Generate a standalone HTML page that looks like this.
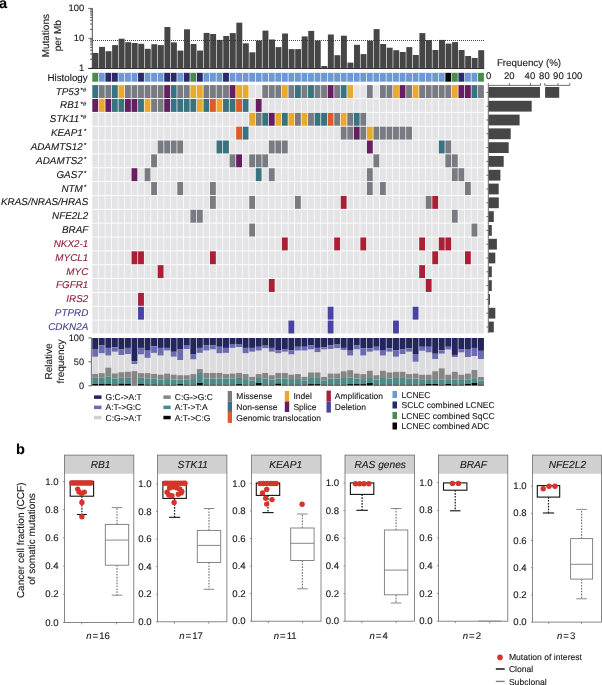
<!DOCTYPE html>
<html><head><meta charset="utf-8"><title>figure</title>
<style>html,body{margin:0;padding:0;background:#fff;}svg{display:block;will-change:transform;}body{width:602px;height:685px;overflow:hidden;font-family:"Liberation Sans",sans-serif;}</style>
</head><body>
<svg width="602" height="685" viewBox="0 0 602 685" font-family='"Liberation Sans", sans-serif' text-rendering="geometricPrecision">
<rect x="0" y="0" width="602" height="685" fill="#ffffff"/>
<text x="-1.00" y="7.70" font-size="14.5" text-anchor="start" font-weight="bold" font-style="normal" fill="#000"  stroke="#000" stroke-width="0.12">a</text>
<text x="16.00" y="453.90" font-size="14.5" text-anchor="start" font-weight="bold" font-style="normal" fill="#000"  stroke="#000" stroke-width="0.12">b</text>
<rect x="92.50" y="52.90" width="5.94" height="15.50" fill="#464646"/>
<rect x="99.04" y="46.90" width="5.94" height="21.50" fill="#464646"/>
<rect x="105.58" y="51.20" width="5.94" height="17.20" fill="#464646"/>
<rect x="112.11" y="45.10" width="5.94" height="23.30" fill="#464646"/>
<rect x="118.65" y="38.70" width="5.94" height="29.70" fill="#464646"/>
<rect x="125.19" y="42.20" width="5.94" height="26.20" fill="#464646"/>
<rect x="131.73" y="43.00" width="5.94" height="25.40" fill="#464646"/>
<rect x="138.27" y="43.80" width="5.94" height="24.60" fill="#464646"/>
<rect x="144.80" y="48.80" width="5.94" height="19.60" fill="#464646"/>
<rect x="151.34" y="44.20" width="5.94" height="24.20" fill="#464646"/>
<rect x="157.88" y="45.10" width="5.94" height="23.30" fill="#464646"/>
<rect x="164.42" y="27.00" width="5.94" height="41.40" fill="#464646"/>
<rect x="170.96" y="42.40" width="5.94" height="26.00" fill="#464646"/>
<rect x="177.49" y="50.60" width="5.94" height="17.80" fill="#464646"/>
<rect x="184.03" y="29.30" width="5.94" height="39.10" fill="#464646"/>
<rect x="190.57" y="44.00" width="5.94" height="24.40" fill="#464646"/>
<rect x="197.11" y="50.60" width="5.94" height="17.80" fill="#464646"/>
<rect x="203.65" y="32.90" width="5.94" height="35.50" fill="#464646"/>
<rect x="210.18" y="34.00" width="5.94" height="34.40" fill="#464646"/>
<rect x="216.72" y="39.90" width="5.94" height="28.50" fill="#464646"/>
<rect x="223.26" y="36.00" width="5.94" height="32.40" fill="#464646"/>
<rect x="229.80" y="33.10" width="5.94" height="35.30" fill="#464646"/>
<rect x="236.34" y="22.70" width="5.94" height="45.70" fill="#464646"/>
<rect x="242.87" y="43.30" width="5.94" height="25.10" fill="#464646"/>
<rect x="249.41" y="52.30" width="5.94" height="16.10" fill="#464646"/>
<rect x="255.95" y="40.50" width="5.94" height="27.90" fill="#464646"/>
<rect x="262.49" y="30.60" width="5.94" height="37.80" fill="#464646"/>
<rect x="269.03" y="39.50" width="5.94" height="28.90" fill="#464646"/>
<rect x="275.56" y="47.10" width="5.94" height="21.30" fill="#464646"/>
<rect x="282.10" y="33.50" width="5.94" height="34.90" fill="#464646"/>
<rect x="288.64" y="49.10" width="5.94" height="19.30" fill="#464646"/>
<rect x="295.18" y="49.10" width="5.94" height="19.30" fill="#464646"/>
<rect x="301.72" y="36.40" width="5.94" height="32.00" fill="#464646"/>
<rect x="308.25" y="30.90" width="5.94" height="37.50" fill="#464646"/>
<rect x="314.79" y="40.50" width="5.94" height="27.90" fill="#464646"/>
<rect x="321.33" y="66.00" width="5.94" height="2.40" fill="#464646"/>
<rect x="327.87" y="34.50" width="5.94" height="33.90" fill="#464646"/>
<rect x="334.41" y="55.20" width="5.94" height="13.20" fill="#464646"/>
<rect x="340.94" y="35.70" width="5.94" height="32.70" fill="#464646"/>
<rect x="347.48" y="62.60" width="5.94" height="5.80" fill="#464646"/>
<rect x="354.02" y="44.80" width="5.94" height="23.60" fill="#464646"/>
<rect x="360.56" y="54.10" width="5.94" height="14.30" fill="#464646"/>
<rect x="367.10" y="40.70" width="5.94" height="27.70" fill="#464646"/>
<rect x="373.63" y="29.10" width="5.94" height="39.30" fill="#464646"/>
<rect x="380.17" y="44.00" width="5.94" height="24.40" fill="#464646"/>
<rect x="386.71" y="47.70" width="5.94" height="20.70" fill="#464646"/>
<rect x="393.25" y="50.20" width="5.94" height="18.20" fill="#464646"/>
<rect x="399.79" y="52.00" width="5.94" height="16.40" fill="#464646"/>
<rect x="406.32" y="47.10" width="5.94" height="21.30" fill="#464646"/>
<rect x="412.86" y="55.00" width="5.94" height="13.40" fill="#464646"/>
<rect x="419.40" y="33.10" width="5.94" height="35.30" fill="#464646"/>
<rect x="425.94" y="40.10" width="5.94" height="28.30" fill="#464646"/>
<rect x="432.48" y="50.00" width="5.94" height="18.40" fill="#464646"/>
<rect x="439.01" y="39.90" width="5.94" height="28.50" fill="#464646"/>
<rect x="445.55" y="43.60" width="5.94" height="24.80" fill="#464646"/>
<rect x="452.09" y="42.10" width="5.94" height="26.30" fill="#464646"/>
<rect x="458.63" y="50.00" width="5.94" height="18.40" fill="#464646"/>
<rect x="465.17" y="56.00" width="5.94" height="12.40" fill="#464646"/>
<rect x="471.70" y="57.90" width="5.94" height="10.50" fill="#464646"/>
<rect x="478.24" y="50.20" width="5.94" height="18.20" fill="#464646"/>
<line x1="93" y1="40.5" x2="484" y2="40.5" stroke="#333" stroke-width="0.9" stroke-dasharray="1,1"/>
<line x1="88.3" y1="68.5" x2="484.2" y2="68.5" stroke="#222" stroke-width="0.9"/>
<line x1="92.3" y1="8.2" x2="92.3" y2="68.9" stroke="#222" stroke-width="0.8"/>
<line x1="88.50" y1="68.30" x2="92.3" y2="68.30" stroke="#222" stroke-width="0.7"/>
<line x1="90.00" y1="59.28" x2="92.3" y2="59.28" stroke="#222" stroke-width="0.7"/>
<line x1="90.00" y1="54.01" x2="92.3" y2="54.01" stroke="#222" stroke-width="0.7"/>
<line x1="90.00" y1="50.27" x2="92.3" y2="50.27" stroke="#222" stroke-width="0.7"/>
<line x1="90.00" y1="47.37" x2="92.3" y2="47.37" stroke="#222" stroke-width="0.7"/>
<line x1="90.00" y1="44.99" x2="92.3" y2="44.99" stroke="#222" stroke-width="0.7"/>
<line x1="90.00" y1="42.99" x2="92.3" y2="42.99" stroke="#222" stroke-width="0.7"/>
<line x1="90.00" y1="41.25" x2="92.3" y2="41.25" stroke="#222" stroke-width="0.7"/>
<line x1="90.00" y1="39.72" x2="92.3" y2="39.72" stroke="#222" stroke-width="0.7"/>
<line x1="88.50" y1="38.35" x2="92.3" y2="38.35" stroke="#222" stroke-width="0.7"/>
<line x1="90.00" y1="29.33" x2="92.3" y2="29.33" stroke="#222" stroke-width="0.7"/>
<line x1="90.00" y1="24.06" x2="92.3" y2="24.06" stroke="#222" stroke-width="0.7"/>
<line x1="90.00" y1="20.32" x2="92.3" y2="20.32" stroke="#222" stroke-width="0.7"/>
<line x1="90.00" y1="17.42" x2="92.3" y2="17.42" stroke="#222" stroke-width="0.7"/>
<line x1="90.00" y1="15.04" x2="92.3" y2="15.04" stroke="#222" stroke-width="0.7"/>
<line x1="90.00" y1="13.04" x2="92.3" y2="13.04" stroke="#222" stroke-width="0.7"/>
<line x1="90.00" y1="11.30" x2="92.3" y2="11.30" stroke="#222" stroke-width="0.7"/>
<line x1="90.00" y1="9.77" x2="92.3" y2="9.77" stroke="#222" stroke-width="0.7"/>
<line x1="88.3" y1="8.40" x2="92.3" y2="8.40" stroke="#222" stroke-width="0.7"/>
<text x="84.20" y="11.20" font-size="9.4" text-anchor="end" font-weight="normal" font-style="normal" fill="#1a1a1a"  stroke="#1a1a1a" stroke-width="0.12">100</text>
<text x="84.20" y="41.15" font-size="9.4" text-anchor="end" font-weight="normal" font-style="normal" fill="#1a1a1a"  stroke="#1a1a1a" stroke-width="0.12">10</text>
<text x="84.20" y="71.10" font-size="9.4" text-anchor="end" font-weight="normal" font-style="normal" fill="#1a1a1a"  stroke="#1a1a1a" stroke-width="0.12">1</text>
<text transform="translate(49.3,35.7) rotate(-90)" font-size="10" text-anchor="middle" fill="#1a1a1a" stroke="#1a1a1a" stroke-width="0.12">Mutations</text>
<text transform="translate(61.0,35.7) rotate(-90)" font-size="10" text-anchor="middle" fill="#1a1a1a" stroke="#1a1a1a" stroke-width="0.12">per Mb</text>
<text x="87.70" y="80.60" font-size="9.8" text-anchor="end" font-weight="normal" font-style="normal" fill="#1a1a1a"  stroke="#1a1a1a" stroke-width="0.12">Histology</text>
<rect x="92.30" y="72.8" width="5.85" height="8.9" fill="#478d47"/>
<rect x="98.84" y="72.8" width="5.85" height="8.9" fill="#6e98d4"/>
<rect x="105.38" y="72.8" width="5.85" height="8.9" fill="#29296e"/>
<rect x="111.91" y="72.8" width="5.85" height="8.9" fill="#29296e"/>
<rect x="118.45" y="72.8" width="5.85" height="8.9" fill="#6e98d4"/>
<rect x="124.99" y="72.8" width="5.85" height="8.9" fill="#6e98d4"/>
<rect x="131.53" y="72.8" width="5.85" height="8.9" fill="#6e98d4"/>
<rect x="138.07" y="72.8" width="5.85" height="8.9" fill="#29296e"/>
<rect x="144.60" y="72.8" width="5.85" height="8.9" fill="#6e98d4"/>
<rect x="151.14" y="72.8" width="5.85" height="8.9" fill="#6e98d4"/>
<rect x="157.68" y="72.8" width="5.85" height="8.9" fill="#6e98d4"/>
<rect x="164.22" y="72.8" width="5.85" height="8.9" fill="#29296e"/>
<rect x="170.76" y="72.8" width="5.85" height="8.9" fill="#29296e"/>
<rect x="177.29" y="72.8" width="5.85" height="8.9" fill="#6e98d4"/>
<rect x="183.83" y="72.8" width="5.85" height="8.9" fill="#29296e"/>
<rect x="190.37" y="72.8" width="5.85" height="8.9" fill="#478d47"/>
<rect x="196.91" y="72.8" width="5.85" height="8.9" fill="#29296e"/>
<rect x="203.45" y="72.8" width="5.85" height="8.9" fill="#6e98d4"/>
<rect x="209.98" y="72.8" width="5.85" height="8.9" fill="#6e98d4"/>
<rect x="216.52" y="72.8" width="5.85" height="8.9" fill="#6e98d4"/>
<rect x="223.06" y="72.8" width="5.85" height="8.9" fill="#29296e"/>
<rect x="229.60" y="72.8" width="5.85" height="8.9" fill="#6e98d4"/>
<rect x="236.14" y="72.8" width="5.85" height="8.9" fill="#6e98d4"/>
<rect x="242.67" y="72.8" width="5.85" height="8.9" fill="#6e98d4"/>
<rect x="249.21" y="72.8" width="5.85" height="8.9" fill="#6e98d4"/>
<rect x="255.75" y="72.8" width="5.85" height="8.9" fill="#6e98d4"/>
<rect x="262.29" y="72.8" width="5.85" height="8.9" fill="#6e98d4"/>
<rect x="268.83" y="72.8" width="5.85" height="8.9" fill="#6e98d4"/>
<rect x="275.36" y="72.8" width="5.85" height="8.9" fill="#6e98d4"/>
<rect x="281.90" y="72.8" width="5.85" height="8.9" fill="#6e98d4"/>
<rect x="288.44" y="72.8" width="5.85" height="8.9" fill="#6e98d4"/>
<rect x="294.98" y="72.8" width="5.85" height="8.9" fill="#6e98d4"/>
<rect x="301.52" y="72.8" width="5.85" height="8.9" fill="#6e98d4"/>
<rect x="308.05" y="72.8" width="5.85" height="8.9" fill="#6e98d4"/>
<rect x="314.59" y="72.8" width="5.85" height="8.9" fill="#6e98d4"/>
<rect x="321.13" y="72.8" width="5.85" height="8.9" fill="#6e98d4"/>
<rect x="327.67" y="72.8" width="5.85" height="8.9" fill="#6e98d4"/>
<rect x="334.21" y="72.8" width="5.85" height="8.9" fill="#6e98d4"/>
<rect x="340.74" y="72.8" width="5.85" height="8.9" fill="#6e98d4"/>
<rect x="347.28" y="72.8" width="5.85" height="8.9" fill="#6e98d4"/>
<rect x="353.82" y="72.8" width="5.85" height="8.9" fill="#6e98d4"/>
<rect x="360.36" y="72.8" width="5.85" height="8.9" fill="#6e98d4"/>
<rect x="366.90" y="72.8" width="5.85" height="8.9" fill="#6e98d4"/>
<rect x="373.43" y="72.8" width="5.85" height="8.9" fill="#6e98d4"/>
<rect x="379.97" y="72.8" width="5.85" height="8.9" fill="#6e98d4"/>
<rect x="386.51" y="72.8" width="5.85" height="8.9" fill="#6e98d4"/>
<rect x="393.05" y="72.8" width="5.85" height="8.9" fill="#6e98d4"/>
<rect x="399.59" y="72.8" width="5.85" height="8.9" fill="#6e98d4"/>
<rect x="406.12" y="72.8" width="5.85" height="8.9" fill="#6e98d4"/>
<rect x="412.66" y="72.8" width="5.85" height="8.9" fill="#6e98d4"/>
<rect x="419.20" y="72.8" width="5.85" height="8.9" fill="#6e98d4"/>
<rect x="425.74" y="72.8" width="5.85" height="8.9" fill="#6e98d4"/>
<rect x="432.28" y="72.8" width="5.85" height="8.9" fill="#6e98d4"/>
<rect x="438.81" y="72.8" width="5.85" height="8.9" fill="#6e98d4"/>
<rect x="445.35" y="72.8" width="5.85" height="8.9" fill="#060606"/>
<rect x="451.89" y="72.8" width="5.85" height="8.9" fill="#478d47"/>
<rect x="458.43" y="72.8" width="5.85" height="8.9" fill="#29296e"/>
<rect x="464.97" y="72.8" width="5.85" height="8.9" fill="#6e98d4"/>
<rect x="471.50" y="72.8" width="5.85" height="8.9" fill="#6e98d4"/>
<rect x="478.04" y="72.8" width="5.85" height="8.9" fill="#478d47"/>
<rect x="92.30" y="85.10" width="5.85" height="12.95" fill="#3a7380"/>
<rect x="98.84" y="85.10" width="5.85" height="12.95" fill="#787c82"/>
<rect x="105.38" y="85.10" width="5.85" height="12.95" fill="#787c82"/>
<rect x="111.91" y="85.10" width="5.85" height="12.95" fill="#3a7380"/>
<rect x="118.45" y="85.10" width="5.85" height="12.95" fill="#e8aa2c"/>
<rect x="124.99" y="85.10" width="5.85" height="12.95" fill="#787c82"/>
<rect x="131.53" y="85.10" width="5.85" height="12.95" fill="#787c82"/>
<rect x="138.07" y="85.10" width="5.85" height="12.95" fill="#787c82"/>
<rect x="144.60" y="85.10" width="5.85" height="12.95" fill="#787c82"/>
<rect x="151.14" y="85.10" width="5.85" height="12.95" fill="#787c82"/>
<rect x="157.68" y="85.10" width="5.85" height="12.95" fill="#787c82"/>
<rect x="164.22" y="85.10" width="5.85" height="12.95" fill="#671d62"/>
<rect x="170.76" y="85.10" width="5.85" height="12.95" fill="#3a7380"/>
<rect x="177.29" y="85.10" width="5.85" height="12.95" fill="#787c82"/>
<rect x="183.83" y="85.10" width="5.85" height="12.95" fill="#787c82"/>
<rect x="190.37" y="85.10" width="5.85" height="12.95" fill="#e8aa2c"/>
<rect x="196.91" y="85.10" width="5.85" height="12.95" fill="#e8aa2c"/>
<rect x="203.45" y="85.10" width="5.85" height="12.95" fill="#787c82"/>
<rect x="209.98" y="85.10" width="5.85" height="12.95" fill="#787c82"/>
<rect x="216.52" y="85.10" width="5.85" height="12.95" fill="#787c82"/>
<rect x="223.06" y="85.10" width="5.85" height="12.95" fill="#787c82"/>
<rect x="229.60" y="85.10" width="5.85" height="12.95" fill="#671d62"/>
<rect x="236.14" y="85.10" width="5.85" height="12.95" fill="#e8aa2c"/>
<rect x="242.67" y="85.10" width="5.85" height="12.95" fill="#e8aa2c"/>
<rect x="249.21" y="85.10" width="5.85" height="12.95" fill="#e4e4e6"/>
<rect x="255.75" y="85.10" width="5.85" height="12.95" fill="#e4e4e6"/>
<rect x="262.29" y="85.10" width="5.85" height="12.95" fill="#787c82"/>
<rect x="268.83" y="85.10" width="5.85" height="12.95" fill="#787c82"/>
<rect x="275.36" y="85.10" width="5.85" height="12.95" fill="#787c82"/>
<rect x="281.90" y="85.10" width="5.85" height="12.95" fill="#e8aa2c"/>
<rect x="288.44" y="85.10" width="5.85" height="12.95" fill="#787c82"/>
<rect x="294.98" y="85.10" width="5.85" height="12.95" fill="#3a7380"/>
<rect x="301.52" y="85.10" width="5.85" height="12.95" fill="#787c82"/>
<rect x="308.05" y="85.10" width="5.85" height="12.95" fill="#3a7380"/>
<rect x="314.59" y="85.10" width="5.85" height="12.95" fill="#787c82"/>
<rect x="321.13" y="85.10" width="5.85" height="12.95" fill="#787c82"/>
<rect x="327.67" y="85.10" width="5.85" height="12.95" fill="#671d62"/>
<rect x="334.21" y="85.10" width="5.85" height="12.95" fill="#787c82"/>
<rect x="340.74" y="85.10" width="5.85" height="12.95" fill="#3a7380"/>
<rect x="347.28" y="85.10" width="5.85" height="12.95" fill="#e8aa2c"/>
<rect x="353.82" y="85.10" width="5.85" height="12.95" fill="#e4e4e6"/>
<rect x="360.36" y="85.10" width="5.85" height="12.95" fill="#e4e4e6"/>
<rect x="366.90" y="85.10" width="5.85" height="12.95" fill="#787c82"/>
<rect x="373.43" y="85.10" width="5.85" height="12.95" fill="#e4e4e6"/>
<rect x="379.97" y="85.10" width="5.85" height="12.95" fill="#787c82"/>
<rect x="386.51" y="85.10" width="5.85" height="12.95" fill="#787c82"/>
<rect x="393.05" y="85.10" width="5.85" height="12.95" fill="#e8aa2c"/>
<rect x="399.59" y="85.10" width="5.85" height="12.95" fill="#671d62"/>
<rect x="406.12" y="85.10" width="5.85" height="12.95" fill="#787c82"/>
<rect x="412.66" y="85.10" width="5.85" height="12.95" fill="#e8aa2c"/>
<rect x="419.20" y="85.10" width="5.85" height="12.95" fill="#787c82"/>
<rect x="425.74" y="85.10" width="5.85" height="12.95" fill="#787c82"/>
<rect x="432.28" y="85.10" width="5.85" height="12.95" fill="#787c82"/>
<rect x="438.81" y="85.10" width="5.85" height="12.95" fill="#787c82"/>
<rect x="445.35" y="85.10" width="5.85" height="12.95" fill="#787c82"/>
<rect x="451.89" y="85.10" width="5.85" height="12.95" fill="#e8aa2c"/>
<rect x="458.43" y="85.10" width="5.85" height="12.95" fill="#671d62"/>
<rect x="464.97" y="85.10" width="5.85" height="12.95" fill="#671d62"/>
<rect x="471.50" y="85.10" width="5.85" height="12.95" fill="#3a7380"/>
<rect x="478.04" y="85.10" width="5.85" height="12.95" fill="#787c82"/>
<text x="86.2" y="94.57" font-size="9.9" text-anchor="end" font-style="italic" fill="#1a1a1a" stroke="#1a1a1a" stroke-width="0.12">TP53<tspan font-size="6.2" dy="-2.9" dx="1.0">*#</tspan></text>
<rect x="92.30" y="98.95" width="5.85" height="12.95" fill="#671d62"/>
<rect x="98.84" y="98.95" width="5.85" height="12.95" fill="#e8aa2c"/>
<rect x="105.38" y="98.95" width="5.85" height="12.95" fill="#671d62"/>
<rect x="111.91" y="98.95" width="5.85" height="12.95" fill="#3a7380"/>
<rect x="118.45" y="98.95" width="5.85" height="12.95" fill="#3a7380"/>
<rect x="124.99" y="98.95" width="5.85" height="12.95" fill="#671d62"/>
<rect x="131.53" y="98.95" width="5.85" height="12.95" fill="#671d62"/>
<rect x="138.07" y="98.95" width="5.85" height="12.95" fill="#3a7380"/>
<rect x="144.60" y="98.95" width="5.85" height="12.95" fill="#e8aa2c"/>
<rect x="151.14" y="98.95" width="5.85" height="12.95" fill="#787c82"/>
<rect x="157.68" y="98.95" width="5.85" height="12.95" fill="#787c82"/>
<rect x="164.22" y="98.95" width="5.85" height="12.95" fill="#671d62"/>
<rect x="170.76" y="98.95" width="5.85" height="12.95" fill="#3a7380"/>
<rect x="177.29" y="98.95" width="5.85" height="12.95" fill="#3a7380"/>
<rect x="183.83" y="98.95" width="5.85" height="12.95" fill="#3a7380"/>
<rect x="190.37" y="98.95" width="5.85" height="12.95" fill="#3a7380"/>
<rect x="196.91" y="98.95" width="5.85" height="12.95" fill="#e8aa2c"/>
<rect x="203.45" y="98.95" width="5.85" height="12.95" fill="#3a7380"/>
<rect x="209.98" y="98.95" width="5.85" height="12.95" fill="#de5a2a"/>
<rect x="216.52" y="98.95" width="5.85" height="12.95" fill="#e8aa2c"/>
<rect x="223.06" y="98.95" width="5.85" height="12.95" fill="#3a7380"/>
<rect x="229.60" y="98.95" width="5.85" height="12.95" fill="#3a7380"/>
<rect x="236.14" y="98.95" width="5.85" height="12.95" fill="#de5a2a"/>
<rect x="242.67" y="98.95" width="5.85" height="12.95" fill="#3a7380"/>
<rect x="249.21" y="98.95" width="5.85" height="12.95" fill="#e4e4e6"/>
<rect x="255.75" y="98.95" width="5.85" height="12.95" fill="#671d62"/>
<rect x="262.29" y="98.95" width="5.85" height="12.95" fill="#e4e4e6"/>
<rect x="268.83" y="98.95" width="5.85" height="12.95" fill="#e4e4e6"/>
<rect x="275.36" y="98.95" width="5.85" height="12.95" fill="#e4e4e6"/>
<rect x="281.90" y="98.95" width="5.85" height="12.95" fill="#e4e4e6"/>
<rect x="288.44" y="98.95" width="5.85" height="12.95" fill="#e4e4e6"/>
<rect x="294.98" y="98.95" width="5.85" height="12.95" fill="#e4e4e6"/>
<rect x="301.52" y="98.95" width="5.85" height="12.95" fill="#e4e4e6"/>
<rect x="308.05" y="98.95" width="5.85" height="12.95" fill="#e4e4e6"/>
<rect x="314.59" y="98.95" width="5.85" height="12.95" fill="#e4e4e6"/>
<rect x="321.13" y="98.95" width="5.85" height="12.95" fill="#e4e4e6"/>
<rect x="327.67" y="98.95" width="5.85" height="12.95" fill="#e4e4e6"/>
<rect x="334.21" y="98.95" width="5.85" height="12.95" fill="#e4e4e6"/>
<rect x="340.74" y="98.95" width="5.85" height="12.95" fill="#e4e4e6"/>
<rect x="347.28" y="98.95" width="5.85" height="12.95" fill="#e4e4e6"/>
<rect x="353.82" y="98.95" width="5.85" height="12.95" fill="#e4e4e6"/>
<rect x="360.36" y="98.95" width="5.85" height="12.95" fill="#e4e4e6"/>
<rect x="366.90" y="98.95" width="5.85" height="12.95" fill="#e4e4e6"/>
<rect x="373.43" y="98.95" width="5.85" height="12.95" fill="#e4e4e6"/>
<rect x="379.97" y="98.95" width="5.85" height="12.95" fill="#e4e4e6"/>
<rect x="386.51" y="98.95" width="5.85" height="12.95" fill="#e4e4e6"/>
<rect x="393.05" y="98.95" width="5.85" height="12.95" fill="#e4e4e6"/>
<rect x="399.59" y="98.95" width="5.85" height="12.95" fill="#e4e4e6"/>
<rect x="406.12" y="98.95" width="5.85" height="12.95" fill="#e4e4e6"/>
<rect x="412.66" y="98.95" width="5.85" height="12.95" fill="#e4e4e6"/>
<rect x="419.20" y="98.95" width="5.85" height="12.95" fill="#e4e4e6"/>
<rect x="425.74" y="98.95" width="5.85" height="12.95" fill="#e4e4e6"/>
<rect x="432.28" y="98.95" width="5.85" height="12.95" fill="#e4e4e6"/>
<rect x="438.81" y="98.95" width="5.85" height="12.95" fill="#e4e4e6"/>
<rect x="445.35" y="98.95" width="5.85" height="12.95" fill="#e4e4e6"/>
<rect x="451.89" y="98.95" width="5.85" height="12.95" fill="#e4e4e6"/>
<rect x="458.43" y="98.95" width="5.85" height="12.95" fill="#e4e4e6"/>
<rect x="464.97" y="98.95" width="5.85" height="12.95" fill="#e4e4e6"/>
<rect x="471.50" y="98.95" width="5.85" height="12.95" fill="#e4e4e6"/>
<rect x="478.04" y="98.95" width="5.85" height="12.95" fill="#e4e4e6"/>
<text x="86.2" y="108.42" font-size="9.9" text-anchor="end" font-style="italic" fill="#1a1a1a" stroke="#1a1a1a" stroke-width="0.12">RB1<tspan font-size="6.2" dy="-2.9" dx="1.0">*#</tspan></text>
<rect x="92.30" y="112.80" width="5.85" height="12.95" fill="#e4e4e6"/>
<rect x="98.84" y="112.80" width="5.85" height="12.95" fill="#e4e4e6"/>
<rect x="105.38" y="112.80" width="5.85" height="12.95" fill="#e4e4e6"/>
<rect x="111.91" y="112.80" width="5.85" height="12.95" fill="#e4e4e6"/>
<rect x="118.45" y="112.80" width="5.85" height="12.95" fill="#e4e4e6"/>
<rect x="124.99" y="112.80" width="5.85" height="12.95" fill="#e4e4e6"/>
<rect x="131.53" y="112.80" width="5.85" height="12.95" fill="#e4e4e6"/>
<rect x="138.07" y="112.80" width="5.85" height="12.95" fill="#e4e4e6"/>
<rect x="144.60" y="112.80" width="5.85" height="12.95" fill="#e4e4e6"/>
<rect x="151.14" y="112.80" width="5.85" height="12.95" fill="#e4e4e6"/>
<rect x="157.68" y="112.80" width="5.85" height="12.95" fill="#e4e4e6"/>
<rect x="164.22" y="112.80" width="5.85" height="12.95" fill="#e4e4e6"/>
<rect x="170.76" y="112.80" width="5.85" height="12.95" fill="#e4e4e6"/>
<rect x="177.29" y="112.80" width="5.85" height="12.95" fill="#e4e4e6"/>
<rect x="183.83" y="112.80" width="5.85" height="12.95" fill="#e4e4e6"/>
<rect x="190.37" y="112.80" width="5.85" height="12.95" fill="#e4e4e6"/>
<rect x="196.91" y="112.80" width="5.85" height="12.95" fill="#e4e4e6"/>
<rect x="203.45" y="112.80" width="5.85" height="12.95" fill="#e4e4e6"/>
<rect x="209.98" y="112.80" width="5.85" height="12.95" fill="#e4e4e6"/>
<rect x="216.52" y="112.80" width="5.85" height="12.95" fill="#e4e4e6"/>
<rect x="223.06" y="112.80" width="5.85" height="12.95" fill="#e4e4e6"/>
<rect x="229.60" y="112.80" width="5.85" height="12.95" fill="#e4e4e6"/>
<rect x="236.14" y="112.80" width="5.85" height="12.95" fill="#e4e4e6"/>
<rect x="242.67" y="112.80" width="5.85" height="12.95" fill="#e4e4e6"/>
<rect x="249.21" y="112.80" width="5.85" height="12.95" fill="#e8aa2c"/>
<rect x="255.75" y="112.80" width="5.85" height="12.95" fill="#787c82"/>
<rect x="262.29" y="112.80" width="5.85" height="12.95" fill="#3a7380"/>
<rect x="268.83" y="112.80" width="5.85" height="12.95" fill="#671d62"/>
<rect x="275.36" y="112.80" width="5.85" height="12.95" fill="#e8aa2c"/>
<rect x="281.90" y="112.80" width="5.85" height="12.95" fill="#3a7380"/>
<rect x="288.44" y="112.80" width="5.85" height="12.95" fill="#e8aa2c"/>
<rect x="294.98" y="112.80" width="5.85" height="12.95" fill="#787c82"/>
<rect x="301.52" y="112.80" width="5.85" height="12.95" fill="#e8aa2c"/>
<rect x="308.05" y="112.80" width="5.85" height="12.95" fill="#787c82"/>
<rect x="314.59" y="112.80" width="5.85" height="12.95" fill="#3a7380"/>
<rect x="321.13" y="112.80" width="5.85" height="12.95" fill="#3a7380"/>
<rect x="327.67" y="112.80" width="5.85" height="12.95" fill="#de5a2a"/>
<rect x="334.21" y="112.80" width="5.85" height="12.95" fill="#787c82"/>
<rect x="340.74" y="112.80" width="5.85" height="12.95" fill="#e8aa2c"/>
<rect x="347.28" y="112.80" width="5.85" height="12.95" fill="#787c82"/>
<rect x="353.82" y="112.80" width="5.85" height="12.95" fill="#3a7380"/>
<rect x="360.36" y="112.80" width="5.85" height="12.95" fill="#787c82"/>
<rect x="366.90" y="112.80" width="5.85" height="12.95" fill="#e4e4e6"/>
<rect x="373.43" y="112.80" width="5.85" height="12.95" fill="#e4e4e6"/>
<rect x="379.97" y="112.80" width="5.85" height="12.95" fill="#e4e4e6"/>
<rect x="386.51" y="112.80" width="5.85" height="12.95" fill="#e4e4e6"/>
<rect x="393.05" y="112.80" width="5.85" height="12.95" fill="#e4e4e6"/>
<rect x="399.59" y="112.80" width="5.85" height="12.95" fill="#e4e4e6"/>
<rect x="406.12" y="112.80" width="5.85" height="12.95" fill="#e4e4e6"/>
<rect x="412.66" y="112.80" width="5.85" height="12.95" fill="#e4e4e6"/>
<rect x="419.20" y="112.80" width="5.85" height="12.95" fill="#e4e4e6"/>
<rect x="425.74" y="112.80" width="5.85" height="12.95" fill="#e4e4e6"/>
<rect x="432.28" y="112.80" width="5.85" height="12.95" fill="#e4e4e6"/>
<rect x="438.81" y="112.80" width="5.85" height="12.95" fill="#e4e4e6"/>
<rect x="445.35" y="112.80" width="5.85" height="12.95" fill="#e4e4e6"/>
<rect x="451.89" y="112.80" width="5.85" height="12.95" fill="#e4e4e6"/>
<rect x="458.43" y="112.80" width="5.85" height="12.95" fill="#e4e4e6"/>
<rect x="464.97" y="112.80" width="5.85" height="12.95" fill="#e4e4e6"/>
<rect x="471.50" y="112.80" width="5.85" height="12.95" fill="#e4e4e6"/>
<rect x="478.04" y="112.80" width="5.85" height="12.95" fill="#e4e4e6"/>
<text x="86.2" y="122.27" font-size="9.9" text-anchor="end" font-style="italic" fill="#1a1a1a" stroke="#1a1a1a" stroke-width="0.12">STK11<tspan font-size="6.2" dy="-2.9" dx="1.0">*#</tspan></text>
<rect x="92.30" y="126.65" width="5.85" height="12.95" fill="#e4e4e6"/>
<rect x="98.84" y="126.65" width="5.85" height="12.95" fill="#e4e4e6"/>
<rect x="105.38" y="126.65" width="5.85" height="12.95" fill="#e4e4e6"/>
<rect x="111.91" y="126.65" width="5.85" height="12.95" fill="#e4e4e6"/>
<rect x="118.45" y="126.65" width="5.85" height="12.95" fill="#e4e4e6"/>
<rect x="124.99" y="126.65" width="5.85" height="12.95" fill="#e4e4e6"/>
<rect x="131.53" y="126.65" width="5.85" height="12.95" fill="#e4e4e6"/>
<rect x="138.07" y="126.65" width="5.85" height="12.95" fill="#e4e4e6"/>
<rect x="144.60" y="126.65" width="5.85" height="12.95" fill="#e4e4e6"/>
<rect x="151.14" y="126.65" width="5.85" height="12.95" fill="#e4e4e6"/>
<rect x="157.68" y="126.65" width="5.85" height="12.95" fill="#e4e4e6"/>
<rect x="164.22" y="126.65" width="5.85" height="12.95" fill="#e4e4e6"/>
<rect x="170.76" y="126.65" width="5.85" height="12.95" fill="#e4e4e6"/>
<rect x="177.29" y="126.65" width="5.85" height="12.95" fill="#e4e4e6"/>
<rect x="183.83" y="126.65" width="5.85" height="12.95" fill="#e4e4e6"/>
<rect x="190.37" y="126.65" width="5.85" height="12.95" fill="#e4e4e6"/>
<rect x="196.91" y="126.65" width="5.85" height="12.95" fill="#e4e4e6"/>
<rect x="203.45" y="126.65" width="5.85" height="12.95" fill="#e4e4e6"/>
<rect x="209.98" y="126.65" width="5.85" height="12.95" fill="#e4e4e6"/>
<rect x="216.52" y="126.65" width="5.85" height="12.95" fill="#e4e4e6"/>
<rect x="223.06" y="126.65" width="5.85" height="12.95" fill="#e4e4e6"/>
<rect x="229.60" y="126.65" width="5.85" height="12.95" fill="#e4e4e6"/>
<rect x="236.14" y="126.65" width="5.85" height="12.95" fill="#de5a2a"/>
<rect x="242.67" y="126.65" width="5.85" height="12.95" fill="#3a7380"/>
<rect x="249.21" y="126.65" width="5.85" height="12.95" fill="#e4e4e6"/>
<rect x="255.75" y="126.65" width="5.85" height="12.95" fill="#e4e4e6"/>
<rect x="262.29" y="126.65" width="5.85" height="12.95" fill="#e4e4e6"/>
<rect x="268.83" y="126.65" width="5.85" height="12.95" fill="#e4e4e6"/>
<rect x="275.36" y="126.65" width="5.85" height="12.95" fill="#e4e4e6"/>
<rect x="281.90" y="126.65" width="5.85" height="12.95" fill="#e4e4e6"/>
<rect x="288.44" y="126.65" width="5.85" height="12.95" fill="#e4e4e6"/>
<rect x="294.98" y="126.65" width="5.85" height="12.95" fill="#e4e4e6"/>
<rect x="301.52" y="126.65" width="5.85" height="12.95" fill="#e4e4e6"/>
<rect x="308.05" y="126.65" width="5.85" height="12.95" fill="#e4e4e6"/>
<rect x="314.59" y="126.65" width="5.85" height="12.95" fill="#e4e4e6"/>
<rect x="321.13" y="126.65" width="5.85" height="12.95" fill="#e4e4e6"/>
<rect x="327.67" y="126.65" width="5.85" height="12.95" fill="#e4e4e6"/>
<rect x="334.21" y="126.65" width="5.85" height="12.95" fill="#e4e4e6"/>
<rect x="340.74" y="126.65" width="5.85" height="12.95" fill="#787c82"/>
<rect x="347.28" y="126.65" width="5.85" height="12.95" fill="#787c82"/>
<rect x="353.82" y="126.65" width="5.85" height="12.95" fill="#671d62"/>
<rect x="360.36" y="126.65" width="5.85" height="12.95" fill="#787c82"/>
<rect x="366.90" y="126.65" width="5.85" height="12.95" fill="#e8aa2c"/>
<rect x="373.43" y="126.65" width="5.85" height="12.95" fill="#787c82"/>
<rect x="379.97" y="126.65" width="5.85" height="12.95" fill="#787c82"/>
<rect x="386.51" y="126.65" width="5.85" height="12.95" fill="#787c82"/>
<rect x="393.05" y="126.65" width="5.85" height="12.95" fill="#787c82"/>
<rect x="399.59" y="126.65" width="5.85" height="12.95" fill="#787c82"/>
<rect x="406.12" y="126.65" width="5.85" height="12.95" fill="#787c82"/>
<rect x="412.66" y="126.65" width="5.85" height="12.95" fill="#e4e4e6"/>
<rect x="419.20" y="126.65" width="5.85" height="12.95" fill="#e4e4e6"/>
<rect x="425.74" y="126.65" width="5.85" height="12.95" fill="#e4e4e6"/>
<rect x="432.28" y="126.65" width="5.85" height="12.95" fill="#e4e4e6"/>
<rect x="438.81" y="126.65" width="5.85" height="12.95" fill="#e4e4e6"/>
<rect x="445.35" y="126.65" width="5.85" height="12.95" fill="#e4e4e6"/>
<rect x="451.89" y="126.65" width="5.85" height="12.95" fill="#e4e4e6"/>
<rect x="458.43" y="126.65" width="5.85" height="12.95" fill="#e4e4e6"/>
<rect x="464.97" y="126.65" width="5.85" height="12.95" fill="#e4e4e6"/>
<rect x="471.50" y="126.65" width="5.85" height="12.95" fill="#e4e4e6"/>
<rect x="478.04" y="126.65" width="5.85" height="12.95" fill="#e4e4e6"/>
<text x="86.2" y="136.12" font-size="9.9" text-anchor="end" font-style="italic" fill="#1a1a1a" stroke="#1a1a1a" stroke-width="0.12">KEAP1<tspan font-size="6.2" dy="-2.9" dx="1.0">*</tspan></text>
<rect x="92.30" y="140.50" width="5.85" height="12.95" fill="#e4e4e6"/>
<rect x="98.84" y="140.50" width="5.85" height="12.95" fill="#e4e4e6"/>
<rect x="105.38" y="140.50" width="5.85" height="12.95" fill="#e4e4e6"/>
<rect x="111.91" y="140.50" width="5.85" height="12.95" fill="#e4e4e6"/>
<rect x="118.45" y="140.50" width="5.85" height="12.95" fill="#e4e4e6"/>
<rect x="124.99" y="140.50" width="5.85" height="12.95" fill="#e4e4e6"/>
<rect x="131.53" y="140.50" width="5.85" height="12.95" fill="#e4e4e6"/>
<rect x="138.07" y="140.50" width="5.85" height="12.95" fill="#e4e4e6"/>
<rect x="144.60" y="140.50" width="5.85" height="12.95" fill="#e4e4e6"/>
<rect x="151.14" y="140.50" width="5.85" height="12.95" fill="#e4e4e6"/>
<rect x="157.68" y="140.50" width="5.85" height="12.95" fill="#787c82"/>
<rect x="164.22" y="140.50" width="5.85" height="12.95" fill="#787c82"/>
<rect x="170.76" y="140.50" width="5.85" height="12.95" fill="#787c82"/>
<rect x="177.29" y="140.50" width="5.85" height="12.95" fill="#787c82"/>
<rect x="183.83" y="140.50" width="5.85" height="12.95" fill="#e4e4e6"/>
<rect x="190.37" y="140.50" width="5.85" height="12.95" fill="#e4e4e6"/>
<rect x="196.91" y="140.50" width="5.85" height="12.95" fill="#e4e4e6"/>
<rect x="203.45" y="140.50" width="5.85" height="12.95" fill="#e4e4e6"/>
<rect x="209.98" y="140.50" width="5.85" height="12.95" fill="#e4e4e6"/>
<rect x="216.52" y="140.50" width="5.85" height="12.95" fill="#3a7380"/>
<rect x="223.06" y="140.50" width="5.85" height="12.95" fill="#3a7380"/>
<rect x="229.60" y="140.50" width="5.85" height="12.95" fill="#e4e4e6"/>
<rect x="236.14" y="140.50" width="5.85" height="12.95" fill="#e4e4e6"/>
<rect x="242.67" y="140.50" width="5.85" height="12.95" fill="#e4e4e6"/>
<rect x="249.21" y="140.50" width="5.85" height="12.95" fill="#e4e4e6"/>
<rect x="255.75" y="140.50" width="5.85" height="12.95" fill="#e4e4e6"/>
<rect x="262.29" y="140.50" width="5.85" height="12.95" fill="#e4e4e6"/>
<rect x="268.83" y="140.50" width="5.85" height="12.95" fill="#787c82"/>
<rect x="275.36" y="140.50" width="5.85" height="12.95" fill="#787c82"/>
<rect x="281.90" y="140.50" width="5.85" height="12.95" fill="#787c82"/>
<rect x="288.44" y="140.50" width="5.85" height="12.95" fill="#e4e4e6"/>
<rect x="294.98" y="140.50" width="5.85" height="12.95" fill="#e4e4e6"/>
<rect x="301.52" y="140.50" width="5.85" height="12.95" fill="#e4e4e6"/>
<rect x="308.05" y="140.50" width="5.85" height="12.95" fill="#e4e4e6"/>
<rect x="314.59" y="140.50" width="5.85" height="12.95" fill="#e4e4e6"/>
<rect x="321.13" y="140.50" width="5.85" height="12.95" fill="#e4e4e6"/>
<rect x="327.67" y="140.50" width="5.85" height="12.95" fill="#e4e4e6"/>
<rect x="334.21" y="140.50" width="5.85" height="12.95" fill="#e4e4e6"/>
<rect x="340.74" y="140.50" width="5.85" height="12.95" fill="#e4e4e6"/>
<rect x="347.28" y="140.50" width="5.85" height="12.95" fill="#e4e4e6"/>
<rect x="353.82" y="140.50" width="5.85" height="12.95" fill="#e4e4e6"/>
<rect x="360.36" y="140.50" width="5.85" height="12.95" fill="#e4e4e6"/>
<rect x="366.90" y="140.50" width="5.85" height="12.95" fill="#671d62"/>
<rect x="373.43" y="140.50" width="5.85" height="12.95" fill="#e4e4e6"/>
<rect x="379.97" y="140.50" width="5.85" height="12.95" fill="#e4e4e6"/>
<rect x="386.51" y="140.50" width="5.85" height="12.95" fill="#e4e4e6"/>
<rect x="393.05" y="140.50" width="5.85" height="12.95" fill="#e4e4e6"/>
<rect x="399.59" y="140.50" width="5.85" height="12.95" fill="#e4e4e6"/>
<rect x="406.12" y="140.50" width="5.85" height="12.95" fill="#e4e4e6"/>
<rect x="412.66" y="140.50" width="5.85" height="12.95" fill="#e4e4e6"/>
<rect x="419.20" y="140.50" width="5.85" height="12.95" fill="#e4e4e6"/>
<rect x="425.74" y="140.50" width="5.85" height="12.95" fill="#e4e4e6"/>
<rect x="432.28" y="140.50" width="5.85" height="12.95" fill="#e4e4e6"/>
<rect x="438.81" y="140.50" width="5.85" height="12.95" fill="#3a7380"/>
<rect x="445.35" y="140.50" width="5.85" height="12.95" fill="#787c82"/>
<rect x="451.89" y="140.50" width="5.85" height="12.95" fill="#e4e4e6"/>
<rect x="458.43" y="140.50" width="5.85" height="12.95" fill="#e4e4e6"/>
<rect x="464.97" y="140.50" width="5.85" height="12.95" fill="#e4e4e6"/>
<rect x="471.50" y="140.50" width="5.85" height="12.95" fill="#e4e4e6"/>
<rect x="478.04" y="140.50" width="5.85" height="12.95" fill="#e4e4e6"/>
<text x="86.2" y="149.97" font-size="9.9" text-anchor="end" font-style="italic" fill="#1a1a1a" stroke="#1a1a1a" stroke-width="0.12">ADAMTS12<tspan font-size="6.2" dy="-2.9" dx="1.0">*</tspan></text>
<rect x="92.30" y="154.35" width="5.85" height="12.95" fill="#e4e4e6"/>
<rect x="98.84" y="154.35" width="5.85" height="12.95" fill="#e4e4e6"/>
<rect x="105.38" y="154.35" width="5.85" height="12.95" fill="#e4e4e6"/>
<rect x="111.91" y="154.35" width="5.85" height="12.95" fill="#e4e4e6"/>
<rect x="118.45" y="154.35" width="5.85" height="12.95" fill="#e4e4e6"/>
<rect x="124.99" y="154.35" width="5.85" height="12.95" fill="#e4e4e6"/>
<rect x="131.53" y="154.35" width="5.85" height="12.95" fill="#e4e4e6"/>
<rect x="138.07" y="154.35" width="5.85" height="12.95" fill="#e4e4e6"/>
<rect x="144.60" y="154.35" width="5.85" height="12.95" fill="#e4e4e6"/>
<rect x="151.14" y="154.35" width="5.85" height="12.95" fill="#787c82"/>
<rect x="157.68" y="154.35" width="5.85" height="12.95" fill="#e4e4e6"/>
<rect x="164.22" y="154.35" width="5.85" height="12.95" fill="#e4e4e6"/>
<rect x="170.76" y="154.35" width="5.85" height="12.95" fill="#e4e4e6"/>
<rect x="177.29" y="154.35" width="5.85" height="12.95" fill="#e4e4e6"/>
<rect x="183.83" y="154.35" width="5.85" height="12.95" fill="#e4e4e6"/>
<rect x="190.37" y="154.35" width="5.85" height="12.95" fill="#e4e4e6"/>
<rect x="196.91" y="154.35" width="5.85" height="12.95" fill="#e4e4e6"/>
<rect x="203.45" y="154.35" width="5.85" height="12.95" fill="#e4e4e6"/>
<rect x="209.98" y="154.35" width="5.85" height="12.95" fill="#e4e4e6"/>
<rect x="216.52" y="154.35" width="5.85" height="12.95" fill="#e4e4e6"/>
<rect x="223.06" y="154.35" width="5.85" height="12.95" fill="#e4e4e6"/>
<rect x="229.60" y="154.35" width="5.85" height="12.95" fill="#787c82"/>
<rect x="236.14" y="154.35" width="5.85" height="12.95" fill="#671d62"/>
<rect x="242.67" y="154.35" width="5.85" height="12.95" fill="#e4e4e6"/>
<rect x="249.21" y="154.35" width="5.85" height="12.95" fill="#787c82"/>
<rect x="255.75" y="154.35" width="5.85" height="12.95" fill="#787c82"/>
<rect x="262.29" y="154.35" width="5.85" height="12.95" fill="#787c82"/>
<rect x="268.83" y="154.35" width="5.85" height="12.95" fill="#e4e4e6"/>
<rect x="275.36" y="154.35" width="5.85" height="12.95" fill="#e4e4e6"/>
<rect x="281.90" y="154.35" width="5.85" height="12.95" fill="#e4e4e6"/>
<rect x="288.44" y="154.35" width="5.85" height="12.95" fill="#e4e4e6"/>
<rect x="294.98" y="154.35" width="5.85" height="12.95" fill="#e4e4e6"/>
<rect x="301.52" y="154.35" width="5.85" height="12.95" fill="#e4e4e6"/>
<rect x="308.05" y="154.35" width="5.85" height="12.95" fill="#e4e4e6"/>
<rect x="314.59" y="154.35" width="5.85" height="12.95" fill="#e4e4e6"/>
<rect x="321.13" y="154.35" width="5.85" height="12.95" fill="#e4e4e6"/>
<rect x="327.67" y="154.35" width="5.85" height="12.95" fill="#e4e4e6"/>
<rect x="334.21" y="154.35" width="5.85" height="12.95" fill="#e4e4e6"/>
<rect x="340.74" y="154.35" width="5.85" height="12.95" fill="#e4e4e6"/>
<rect x="347.28" y="154.35" width="5.85" height="12.95" fill="#e4e4e6"/>
<rect x="353.82" y="154.35" width="5.85" height="12.95" fill="#e4e4e6"/>
<rect x="360.36" y="154.35" width="5.85" height="12.95" fill="#e4e4e6"/>
<rect x="366.90" y="154.35" width="5.85" height="12.95" fill="#e4e4e6"/>
<rect x="373.43" y="154.35" width="5.85" height="12.95" fill="#787c82"/>
<rect x="379.97" y="154.35" width="5.85" height="12.95" fill="#e4e4e6"/>
<rect x="386.51" y="154.35" width="5.85" height="12.95" fill="#e4e4e6"/>
<rect x="393.05" y="154.35" width="5.85" height="12.95" fill="#e4e4e6"/>
<rect x="399.59" y="154.35" width="5.85" height="12.95" fill="#e4e4e6"/>
<rect x="406.12" y="154.35" width="5.85" height="12.95" fill="#e4e4e6"/>
<rect x="412.66" y="154.35" width="5.85" height="12.95" fill="#e4e4e6"/>
<rect x="419.20" y="154.35" width="5.85" height="12.95" fill="#e4e4e6"/>
<rect x="425.74" y="154.35" width="5.85" height="12.95" fill="#e4e4e6"/>
<rect x="432.28" y="154.35" width="5.85" height="12.95" fill="#e4e4e6"/>
<rect x="438.81" y="154.35" width="5.85" height="12.95" fill="#e4e4e6"/>
<rect x="445.35" y="154.35" width="5.85" height="12.95" fill="#787c82"/>
<rect x="451.89" y="154.35" width="5.85" height="12.95" fill="#787c82"/>
<rect x="458.43" y="154.35" width="5.85" height="12.95" fill="#e4e4e6"/>
<rect x="464.97" y="154.35" width="5.85" height="12.95" fill="#e4e4e6"/>
<rect x="471.50" y="154.35" width="5.85" height="12.95" fill="#e4e4e6"/>
<rect x="478.04" y="154.35" width="5.85" height="12.95" fill="#e4e4e6"/>
<text x="86.2" y="163.82" font-size="9.9" text-anchor="end" font-style="italic" fill="#1a1a1a" stroke="#1a1a1a" stroke-width="0.12">ADAMTS2<tspan font-size="6.2" dy="-2.9" dx="1.0">*</tspan></text>
<rect x="92.30" y="168.20" width="5.85" height="12.95" fill="#e4e4e6"/>
<rect x="98.84" y="168.20" width="5.85" height="12.95" fill="#e4e4e6"/>
<rect x="105.38" y="168.20" width="5.85" height="12.95" fill="#e4e4e6"/>
<rect x="111.91" y="168.20" width="5.85" height="12.95" fill="#e4e4e6"/>
<rect x="118.45" y="168.20" width="5.85" height="12.95" fill="#e4e4e6"/>
<rect x="124.99" y="168.20" width="5.85" height="12.95" fill="#e4e4e6"/>
<rect x="131.53" y="168.20" width="5.85" height="12.95" fill="#671d62"/>
<rect x="138.07" y="168.20" width="5.85" height="12.95" fill="#e4e4e6"/>
<rect x="144.60" y="168.20" width="5.85" height="12.95" fill="#787c82"/>
<rect x="151.14" y="168.20" width="5.85" height="12.95" fill="#e4e4e6"/>
<rect x="157.68" y="168.20" width="5.85" height="12.95" fill="#e4e4e6"/>
<rect x="164.22" y="168.20" width="5.85" height="12.95" fill="#e4e4e6"/>
<rect x="170.76" y="168.20" width="5.85" height="12.95" fill="#e4e4e6"/>
<rect x="177.29" y="168.20" width="5.85" height="12.95" fill="#e4e4e6"/>
<rect x="183.83" y="168.20" width="5.85" height="12.95" fill="#e4e4e6"/>
<rect x="190.37" y="168.20" width="5.85" height="12.95" fill="#e4e4e6"/>
<rect x="196.91" y="168.20" width="5.85" height="12.95" fill="#e4e4e6"/>
<rect x="203.45" y="168.20" width="5.85" height="12.95" fill="#e4e4e6"/>
<rect x="209.98" y="168.20" width="5.85" height="12.95" fill="#e4e4e6"/>
<rect x="216.52" y="168.20" width="5.85" height="12.95" fill="#e4e4e6"/>
<rect x="223.06" y="168.20" width="5.85" height="12.95" fill="#e4e4e6"/>
<rect x="229.60" y="168.20" width="5.85" height="12.95" fill="#e4e4e6"/>
<rect x="236.14" y="168.20" width="5.85" height="12.95" fill="#e4e4e6"/>
<rect x="242.67" y="168.20" width="5.85" height="12.95" fill="#e4e4e6"/>
<rect x="249.21" y="168.20" width="5.85" height="12.95" fill="#e4e4e6"/>
<rect x="255.75" y="168.20" width="5.85" height="12.95" fill="#3a7380"/>
<rect x="262.29" y="168.20" width="5.85" height="12.95" fill="#e4e4e6"/>
<rect x="268.83" y="168.20" width="5.85" height="12.95" fill="#787c82"/>
<rect x="275.36" y="168.20" width="5.85" height="12.95" fill="#e4e4e6"/>
<rect x="281.90" y="168.20" width="5.85" height="12.95" fill="#e4e4e6"/>
<rect x="288.44" y="168.20" width="5.85" height="12.95" fill="#e4e4e6"/>
<rect x="294.98" y="168.20" width="5.85" height="12.95" fill="#e4e4e6"/>
<rect x="301.52" y="168.20" width="5.85" height="12.95" fill="#e4e4e6"/>
<rect x="308.05" y="168.20" width="5.85" height="12.95" fill="#e4e4e6"/>
<rect x="314.59" y="168.20" width="5.85" height="12.95" fill="#e4e4e6"/>
<rect x="321.13" y="168.20" width="5.85" height="12.95" fill="#e4e4e6"/>
<rect x="327.67" y="168.20" width="5.85" height="12.95" fill="#e4e4e6"/>
<rect x="334.21" y="168.20" width="5.85" height="12.95" fill="#e4e4e6"/>
<rect x="340.74" y="168.20" width="5.85" height="12.95" fill="#e4e4e6"/>
<rect x="347.28" y="168.20" width="5.85" height="12.95" fill="#e4e4e6"/>
<rect x="353.82" y="168.20" width="5.85" height="12.95" fill="#e4e4e6"/>
<rect x="360.36" y="168.20" width="5.85" height="12.95" fill="#e4e4e6"/>
<rect x="366.90" y="168.20" width="5.85" height="12.95" fill="#787c82"/>
<rect x="373.43" y="168.20" width="5.85" height="12.95" fill="#e4e4e6"/>
<rect x="379.97" y="168.20" width="5.85" height="12.95" fill="#e4e4e6"/>
<rect x="386.51" y="168.20" width="5.85" height="12.95" fill="#e4e4e6"/>
<rect x="393.05" y="168.20" width="5.85" height="12.95" fill="#e4e4e6"/>
<rect x="399.59" y="168.20" width="5.85" height="12.95" fill="#e4e4e6"/>
<rect x="406.12" y="168.20" width="5.85" height="12.95" fill="#e4e4e6"/>
<rect x="412.66" y="168.20" width="5.85" height="12.95" fill="#e4e4e6"/>
<rect x="419.20" y="168.20" width="5.85" height="12.95" fill="#e4e4e6"/>
<rect x="425.74" y="168.20" width="5.85" height="12.95" fill="#e4e4e6"/>
<rect x="432.28" y="168.20" width="5.85" height="12.95" fill="#e4e4e6"/>
<rect x="438.81" y="168.20" width="5.85" height="12.95" fill="#e4e4e6"/>
<rect x="445.35" y="168.20" width="5.85" height="12.95" fill="#e4e4e6"/>
<rect x="451.89" y="168.20" width="5.85" height="12.95" fill="#787c82"/>
<rect x="458.43" y="168.20" width="5.85" height="12.95" fill="#787c82"/>
<rect x="464.97" y="168.20" width="5.85" height="12.95" fill="#e4e4e6"/>
<rect x="471.50" y="168.20" width="5.85" height="12.95" fill="#e4e4e6"/>
<rect x="478.04" y="168.20" width="5.85" height="12.95" fill="#e4e4e6"/>
<text x="86.2" y="177.67" font-size="9.9" text-anchor="end" font-style="italic" fill="#1a1a1a" stroke="#1a1a1a" stroke-width="0.12">GAS7<tspan font-size="6.2" dy="-2.9" dx="1.0">*</tspan></text>
<rect x="92.30" y="182.05" width="5.85" height="12.95" fill="#e4e4e6"/>
<rect x="98.84" y="182.05" width="5.85" height="12.95" fill="#e4e4e6"/>
<rect x="105.38" y="182.05" width="5.85" height="12.95" fill="#e4e4e6"/>
<rect x="111.91" y="182.05" width="5.85" height="12.95" fill="#e4e4e6"/>
<rect x="118.45" y="182.05" width="5.85" height="12.95" fill="#e4e4e6"/>
<rect x="124.99" y="182.05" width="5.85" height="12.95" fill="#e4e4e6"/>
<rect x="131.53" y="182.05" width="5.85" height="12.95" fill="#e4e4e6"/>
<rect x="138.07" y="182.05" width="5.85" height="12.95" fill="#e4e4e6"/>
<rect x="144.60" y="182.05" width="5.85" height="12.95" fill="#e4e4e6"/>
<rect x="151.14" y="182.05" width="5.85" height="12.95" fill="#787c82"/>
<rect x="157.68" y="182.05" width="5.85" height="12.95" fill="#e4e4e6"/>
<rect x="164.22" y="182.05" width="5.85" height="12.95" fill="#e4e4e6"/>
<rect x="170.76" y="182.05" width="5.85" height="12.95" fill="#e4e4e6"/>
<rect x="177.29" y="182.05" width="5.85" height="12.95" fill="#787c82"/>
<rect x="183.83" y="182.05" width="5.85" height="12.95" fill="#e4e4e6"/>
<rect x="190.37" y="182.05" width="5.85" height="12.95" fill="#e4e4e6"/>
<rect x="196.91" y="182.05" width="5.85" height="12.95" fill="#e4e4e6"/>
<rect x="203.45" y="182.05" width="5.85" height="12.95" fill="#e4e4e6"/>
<rect x="209.98" y="182.05" width="5.85" height="12.95" fill="#787c82"/>
<rect x="216.52" y="182.05" width="5.85" height="12.95" fill="#e4e4e6"/>
<rect x="223.06" y="182.05" width="5.85" height="12.95" fill="#e4e4e6"/>
<rect x="229.60" y="182.05" width="5.85" height="12.95" fill="#e4e4e6"/>
<rect x="236.14" y="182.05" width="5.85" height="12.95" fill="#e4e4e6"/>
<rect x="242.67" y="182.05" width="5.85" height="12.95" fill="#e4e4e6"/>
<rect x="249.21" y="182.05" width="5.85" height="12.95" fill="#e4e4e6"/>
<rect x="255.75" y="182.05" width="5.85" height="12.95" fill="#e4e4e6"/>
<rect x="262.29" y="182.05" width="5.85" height="12.95" fill="#e4e4e6"/>
<rect x="268.83" y="182.05" width="5.85" height="12.95" fill="#e4e4e6"/>
<rect x="275.36" y="182.05" width="5.85" height="12.95" fill="#e4e4e6"/>
<rect x="281.90" y="182.05" width="5.85" height="12.95" fill="#e4e4e6"/>
<rect x="288.44" y="182.05" width="5.85" height="12.95" fill="#e4e4e6"/>
<rect x="294.98" y="182.05" width="5.85" height="12.95" fill="#e4e4e6"/>
<rect x="301.52" y="182.05" width="5.85" height="12.95" fill="#e4e4e6"/>
<rect x="308.05" y="182.05" width="5.85" height="12.95" fill="#e4e4e6"/>
<rect x="314.59" y="182.05" width="5.85" height="12.95" fill="#e4e4e6"/>
<rect x="321.13" y="182.05" width="5.85" height="12.95" fill="#e4e4e6"/>
<rect x="327.67" y="182.05" width="5.85" height="12.95" fill="#e4e4e6"/>
<rect x="334.21" y="182.05" width="5.85" height="12.95" fill="#e4e4e6"/>
<rect x="340.74" y="182.05" width="5.85" height="12.95" fill="#e4e4e6"/>
<rect x="347.28" y="182.05" width="5.85" height="12.95" fill="#e4e4e6"/>
<rect x="353.82" y="182.05" width="5.85" height="12.95" fill="#e4e4e6"/>
<rect x="360.36" y="182.05" width="5.85" height="12.95" fill="#e4e4e6"/>
<rect x="366.90" y="182.05" width="5.85" height="12.95" fill="#787c82"/>
<rect x="373.43" y="182.05" width="5.85" height="12.95" fill="#e4e4e6"/>
<rect x="379.97" y="182.05" width="5.85" height="12.95" fill="#787c82"/>
<rect x="386.51" y="182.05" width="5.85" height="12.95" fill="#e4e4e6"/>
<rect x="393.05" y="182.05" width="5.85" height="12.95" fill="#e4e4e6"/>
<rect x="399.59" y="182.05" width="5.85" height="12.95" fill="#e4e4e6"/>
<rect x="406.12" y="182.05" width="5.85" height="12.95" fill="#e4e4e6"/>
<rect x="412.66" y="182.05" width="5.85" height="12.95" fill="#e4e4e6"/>
<rect x="419.20" y="182.05" width="5.85" height="12.95" fill="#e4e4e6"/>
<rect x="425.74" y="182.05" width="5.85" height="12.95" fill="#e4e4e6"/>
<rect x="432.28" y="182.05" width="5.85" height="12.95" fill="#e4e4e6"/>
<rect x="438.81" y="182.05" width="5.85" height="12.95" fill="#e4e4e6"/>
<rect x="445.35" y="182.05" width="5.85" height="12.95" fill="#e4e4e6"/>
<rect x="451.89" y="182.05" width="5.85" height="12.95" fill="#e4e4e6"/>
<rect x="458.43" y="182.05" width="5.85" height="12.95" fill="#e4e4e6"/>
<rect x="464.97" y="182.05" width="5.85" height="12.95" fill="#787c82"/>
<rect x="471.50" y="182.05" width="5.85" height="12.95" fill="#e4e4e6"/>
<rect x="478.04" y="182.05" width="5.85" height="12.95" fill="#e4e4e6"/>
<text x="86.2" y="191.53" font-size="9.9" text-anchor="end" font-style="italic" fill="#1a1a1a" stroke="#1a1a1a" stroke-width="0.12">NTM<tspan font-size="6.2" dy="-2.9" dx="1.0">*</tspan></text>
<rect x="92.30" y="195.90" width="5.85" height="12.95" fill="#e4e4e6"/>
<rect x="98.84" y="195.90" width="5.85" height="12.95" fill="#e4e4e6"/>
<rect x="105.38" y="195.90" width="5.85" height="12.95" fill="#e4e4e6"/>
<rect x="111.91" y="195.90" width="5.85" height="12.95" fill="#e4e4e6"/>
<rect x="118.45" y="195.90" width="5.85" height="12.95" fill="#e4e4e6"/>
<rect x="124.99" y="195.90" width="5.85" height="12.95" fill="#e4e4e6"/>
<rect x="131.53" y="195.90" width="5.85" height="12.95" fill="#e4e4e6"/>
<rect x="138.07" y="195.90" width="5.85" height="12.95" fill="#e4e4e6"/>
<rect x="144.60" y="195.90" width="5.85" height="12.95" fill="#e4e4e6"/>
<rect x="151.14" y="195.90" width="5.85" height="12.95" fill="#e4e4e6"/>
<rect x="157.68" y="195.90" width="5.85" height="12.95" fill="#e4e4e6"/>
<rect x="164.22" y="195.90" width="5.85" height="12.95" fill="#e4e4e6"/>
<rect x="170.76" y="195.90" width="5.85" height="12.95" fill="#e4e4e6"/>
<rect x="177.29" y="195.90" width="5.85" height="12.95" fill="#e4e4e6"/>
<rect x="183.83" y="195.90" width="5.85" height="12.95" fill="#e4e4e6"/>
<rect x="190.37" y="195.90" width="5.85" height="12.95" fill="#e4e4e6"/>
<rect x="196.91" y="195.90" width="5.85" height="12.95" fill="#e4e4e6"/>
<rect x="203.45" y="195.90" width="5.85" height="12.95" fill="#e4e4e6"/>
<rect x="209.98" y="195.90" width="5.85" height="12.95" fill="#787c82"/>
<rect x="216.52" y="195.90" width="5.85" height="12.95" fill="#e4e4e6"/>
<rect x="223.06" y="195.90" width="5.85" height="12.95" fill="#e4e4e6"/>
<rect x="229.60" y="195.90" width="5.85" height="12.95" fill="#e4e4e6"/>
<rect x="236.14" y="195.90" width="5.85" height="12.95" fill="#e4e4e6"/>
<rect x="242.67" y="195.90" width="5.85" height="12.95" fill="#e4e4e6"/>
<rect x="249.21" y="195.90" width="5.85" height="12.95" fill="#787c82"/>
<rect x="255.75" y="195.90" width="5.85" height="12.95" fill="#e4e4e6"/>
<rect x="262.29" y="195.90" width="5.85" height="12.95" fill="#e4e4e6"/>
<rect x="268.83" y="195.90" width="5.85" height="12.95" fill="#e4e4e6"/>
<rect x="275.36" y="195.90" width="5.85" height="12.95" fill="#e4e4e6"/>
<rect x="281.90" y="195.90" width="5.85" height="12.95" fill="#e4e4e6"/>
<rect x="288.44" y="195.90" width="5.85" height="12.95" fill="#e4e4e6"/>
<rect x="294.98" y="195.90" width="5.85" height="12.95" fill="#787c82"/>
<rect x="301.52" y="195.90" width="5.85" height="12.95" fill="#e4e4e6"/>
<rect x="308.05" y="195.90" width="5.85" height="12.95" fill="#e4e4e6"/>
<rect x="314.59" y="195.90" width="5.85" height="12.95" fill="#e4e4e6"/>
<rect x="321.13" y="195.90" width="5.85" height="12.95" fill="#e4e4e6"/>
<rect x="327.67" y="195.90" width="5.85" height="12.95" fill="#e4e4e6"/>
<rect x="334.21" y="195.90" width="5.85" height="12.95" fill="#e4e4e6"/>
<rect x="340.74" y="195.90" width="5.85" height="12.95" fill="#aa1f35"/>
<rect x="347.28" y="195.90" width="5.85" height="12.95" fill="#e4e4e6"/>
<rect x="353.82" y="195.90" width="5.85" height="12.95" fill="#e4e4e6"/>
<rect x="360.36" y="195.90" width="5.85" height="12.95" fill="#e4e4e6"/>
<rect x="366.90" y="195.90" width="5.85" height="12.95" fill="#e4e4e6"/>
<rect x="373.43" y="195.90" width="5.85" height="12.95" fill="#e4e4e6"/>
<rect x="379.97" y="195.90" width="5.85" height="12.95" fill="#e4e4e6"/>
<rect x="386.51" y="195.90" width="5.85" height="12.95" fill="#e4e4e6"/>
<rect x="393.05" y="195.90" width="5.85" height="12.95" fill="#e4e4e6"/>
<rect x="399.59" y="195.90" width="5.85" height="12.95" fill="#e4e4e6"/>
<rect x="406.12" y="195.90" width="5.85" height="12.95" fill="#e4e4e6"/>
<rect x="412.66" y="195.90" width="5.85" height="12.95" fill="#e4e4e6"/>
<rect x="419.20" y="195.90" width="5.85" height="12.95" fill="#e4e4e6"/>
<rect x="425.74" y="195.90" width="5.85" height="12.95" fill="#787c82"/>
<rect x="432.28" y="195.90" width="5.85" height="12.95" fill="#aa1f35"/>
<rect x="438.81" y="195.90" width="5.85" height="12.95" fill="#e4e4e6"/>
<rect x="445.35" y="195.90" width="5.85" height="12.95" fill="#e4e4e6"/>
<rect x="451.89" y="195.90" width="5.85" height="12.95" fill="#e4e4e6"/>
<rect x="458.43" y="195.90" width="5.85" height="12.95" fill="#e4e4e6"/>
<rect x="464.97" y="195.90" width="5.85" height="12.95" fill="#e4e4e6"/>
<rect x="471.50" y="195.90" width="5.85" height="12.95" fill="#e4e4e6"/>
<rect x="478.04" y="195.90" width="5.85" height="12.95" fill="#e4e4e6"/>
<text x="88.30" y="205.37" font-size="9.9" text-anchor="end" font-weight="normal" font-style="italic" fill="#1a1a1a"  stroke="#1a1a1a" stroke-width="0.12">KRAS/NRAS/HRAS</text>
<rect x="92.30" y="209.75" width="5.85" height="12.95" fill="#e4e4e6"/>
<rect x="98.84" y="209.75" width="5.85" height="12.95" fill="#e4e4e6"/>
<rect x="105.38" y="209.75" width="5.85" height="12.95" fill="#e4e4e6"/>
<rect x="111.91" y="209.75" width="5.85" height="12.95" fill="#e4e4e6"/>
<rect x="118.45" y="209.75" width="5.85" height="12.95" fill="#e4e4e6"/>
<rect x="124.99" y="209.75" width="5.85" height="12.95" fill="#e4e4e6"/>
<rect x="131.53" y="209.75" width="5.85" height="12.95" fill="#e4e4e6"/>
<rect x="138.07" y="209.75" width="5.85" height="12.95" fill="#e4e4e6"/>
<rect x="144.60" y="209.75" width="5.85" height="12.95" fill="#e4e4e6"/>
<rect x="151.14" y="209.75" width="5.85" height="12.95" fill="#e4e4e6"/>
<rect x="157.68" y="209.75" width="5.85" height="12.95" fill="#e4e4e6"/>
<rect x="164.22" y="209.75" width="5.85" height="12.95" fill="#e4e4e6"/>
<rect x="170.76" y="209.75" width="5.85" height="12.95" fill="#e4e4e6"/>
<rect x="177.29" y="209.75" width="5.85" height="12.95" fill="#e4e4e6"/>
<rect x="183.83" y="209.75" width="5.85" height="12.95" fill="#e4e4e6"/>
<rect x="190.37" y="209.75" width="5.85" height="12.95" fill="#787c82"/>
<rect x="196.91" y="209.75" width="5.85" height="12.95" fill="#787c82"/>
<rect x="203.45" y="209.75" width="5.85" height="12.95" fill="#e4e4e6"/>
<rect x="209.98" y="209.75" width="5.85" height="12.95" fill="#e4e4e6"/>
<rect x="216.52" y="209.75" width="5.85" height="12.95" fill="#e4e4e6"/>
<rect x="223.06" y="209.75" width="5.85" height="12.95" fill="#e4e4e6"/>
<rect x="229.60" y="209.75" width="5.85" height="12.95" fill="#e4e4e6"/>
<rect x="236.14" y="209.75" width="5.85" height="12.95" fill="#e4e4e6"/>
<rect x="242.67" y="209.75" width="5.85" height="12.95" fill="#e4e4e6"/>
<rect x="249.21" y="209.75" width="5.85" height="12.95" fill="#e4e4e6"/>
<rect x="255.75" y="209.75" width="5.85" height="12.95" fill="#e4e4e6"/>
<rect x="262.29" y="209.75" width="5.85" height="12.95" fill="#e4e4e6"/>
<rect x="268.83" y="209.75" width="5.85" height="12.95" fill="#e4e4e6"/>
<rect x="275.36" y="209.75" width="5.85" height="12.95" fill="#e4e4e6"/>
<rect x="281.90" y="209.75" width="5.85" height="12.95" fill="#e4e4e6"/>
<rect x="288.44" y="209.75" width="5.85" height="12.95" fill="#e4e4e6"/>
<rect x="294.98" y="209.75" width="5.85" height="12.95" fill="#e4e4e6"/>
<rect x="301.52" y="209.75" width="5.85" height="12.95" fill="#e4e4e6"/>
<rect x="308.05" y="209.75" width="5.85" height="12.95" fill="#e4e4e6"/>
<rect x="314.59" y="209.75" width="5.85" height="12.95" fill="#e4e4e6"/>
<rect x="321.13" y="209.75" width="5.85" height="12.95" fill="#e4e4e6"/>
<rect x="327.67" y="209.75" width="5.85" height="12.95" fill="#e4e4e6"/>
<rect x="334.21" y="209.75" width="5.85" height="12.95" fill="#e4e4e6"/>
<rect x="340.74" y="209.75" width="5.85" height="12.95" fill="#e4e4e6"/>
<rect x="347.28" y="209.75" width="5.85" height="12.95" fill="#e4e4e6"/>
<rect x="353.82" y="209.75" width="5.85" height="12.95" fill="#e4e4e6"/>
<rect x="360.36" y="209.75" width="5.85" height="12.95" fill="#e4e4e6"/>
<rect x="366.90" y="209.75" width="5.85" height="12.95" fill="#e4e4e6"/>
<rect x="373.43" y="209.75" width="5.85" height="12.95" fill="#e4e4e6"/>
<rect x="379.97" y="209.75" width="5.85" height="12.95" fill="#e4e4e6"/>
<rect x="386.51" y="209.75" width="5.85" height="12.95" fill="#e4e4e6"/>
<rect x="393.05" y="209.75" width="5.85" height="12.95" fill="#e4e4e6"/>
<rect x="399.59" y="209.75" width="5.85" height="12.95" fill="#e4e4e6"/>
<rect x="406.12" y="209.75" width="5.85" height="12.95" fill="#e4e4e6"/>
<rect x="412.66" y="209.75" width="5.85" height="12.95" fill="#e4e4e6"/>
<rect x="419.20" y="209.75" width="5.85" height="12.95" fill="#e4e4e6"/>
<rect x="425.74" y="209.75" width="5.85" height="12.95" fill="#e4e4e6"/>
<rect x="432.28" y="209.75" width="5.85" height="12.95" fill="#e4e4e6"/>
<rect x="438.81" y="209.75" width="5.85" height="12.95" fill="#e4e4e6"/>
<rect x="445.35" y="209.75" width="5.85" height="12.95" fill="#e4e4e6"/>
<rect x="451.89" y="209.75" width="5.85" height="12.95" fill="#787c82"/>
<rect x="458.43" y="209.75" width="5.85" height="12.95" fill="#e4e4e6"/>
<rect x="464.97" y="209.75" width="5.85" height="12.95" fill="#e4e4e6"/>
<rect x="471.50" y="209.75" width="5.85" height="12.95" fill="#e4e4e6"/>
<rect x="478.04" y="209.75" width="5.85" height="12.95" fill="#e4e4e6"/>
<text x="88.30" y="219.22" font-size="9.9" text-anchor="end" font-weight="normal" font-style="italic" fill="#1a1a1a"  stroke="#1a1a1a" stroke-width="0.12">NFE2L2</text>
<rect x="92.30" y="223.60" width="5.85" height="12.95" fill="#e4e4e6"/>
<rect x="98.84" y="223.60" width="5.85" height="12.95" fill="#e4e4e6"/>
<rect x="105.38" y="223.60" width="5.85" height="12.95" fill="#e4e4e6"/>
<rect x="111.91" y="223.60" width="5.85" height="12.95" fill="#e4e4e6"/>
<rect x="118.45" y="223.60" width="5.85" height="12.95" fill="#e4e4e6"/>
<rect x="124.99" y="223.60" width="5.85" height="12.95" fill="#e4e4e6"/>
<rect x="131.53" y="223.60" width="5.85" height="12.95" fill="#e4e4e6"/>
<rect x="138.07" y="223.60" width="5.85" height="12.95" fill="#e4e4e6"/>
<rect x="144.60" y="223.60" width="5.85" height="12.95" fill="#e4e4e6"/>
<rect x="151.14" y="223.60" width="5.85" height="12.95" fill="#e4e4e6"/>
<rect x="157.68" y="223.60" width="5.85" height="12.95" fill="#e4e4e6"/>
<rect x="164.22" y="223.60" width="5.85" height="12.95" fill="#e4e4e6"/>
<rect x="170.76" y="223.60" width="5.85" height="12.95" fill="#e4e4e6"/>
<rect x="177.29" y="223.60" width="5.85" height="12.95" fill="#e4e4e6"/>
<rect x="183.83" y="223.60" width="5.85" height="12.95" fill="#e4e4e6"/>
<rect x="190.37" y="223.60" width="5.85" height="12.95" fill="#e4e4e6"/>
<rect x="196.91" y="223.60" width="5.85" height="12.95" fill="#e4e4e6"/>
<rect x="203.45" y="223.60" width="5.85" height="12.95" fill="#e4e4e6"/>
<rect x="209.98" y="223.60" width="5.85" height="12.95" fill="#e4e4e6"/>
<rect x="216.52" y="223.60" width="5.85" height="12.95" fill="#e4e4e6"/>
<rect x="223.06" y="223.60" width="5.85" height="12.95" fill="#e4e4e6"/>
<rect x="229.60" y="223.60" width="5.85" height="12.95" fill="#e4e4e6"/>
<rect x="236.14" y="223.60" width="5.85" height="12.95" fill="#e4e4e6"/>
<rect x="242.67" y="223.60" width="5.85" height="12.95" fill="#e4e4e6"/>
<rect x="249.21" y="223.60" width="5.85" height="12.95" fill="#787c82"/>
<rect x="255.75" y="223.60" width="5.85" height="12.95" fill="#e4e4e6"/>
<rect x="262.29" y="223.60" width="5.85" height="12.95" fill="#e4e4e6"/>
<rect x="268.83" y="223.60" width="5.85" height="12.95" fill="#e4e4e6"/>
<rect x="275.36" y="223.60" width="5.85" height="12.95" fill="#e4e4e6"/>
<rect x="281.90" y="223.60" width="5.85" height="12.95" fill="#e4e4e6"/>
<rect x="288.44" y="223.60" width="5.85" height="12.95" fill="#e4e4e6"/>
<rect x="294.98" y="223.60" width="5.85" height="12.95" fill="#e4e4e6"/>
<rect x="301.52" y="223.60" width="5.85" height="12.95" fill="#e4e4e6"/>
<rect x="308.05" y="223.60" width="5.85" height="12.95" fill="#e4e4e6"/>
<rect x="314.59" y="223.60" width="5.85" height="12.95" fill="#e4e4e6"/>
<rect x="321.13" y="223.60" width="5.85" height="12.95" fill="#e4e4e6"/>
<rect x="327.67" y="223.60" width="5.85" height="12.95" fill="#e4e4e6"/>
<rect x="334.21" y="223.60" width="5.85" height="12.95" fill="#e4e4e6"/>
<rect x="340.74" y="223.60" width="5.85" height="12.95" fill="#e4e4e6"/>
<rect x="347.28" y="223.60" width="5.85" height="12.95" fill="#e4e4e6"/>
<rect x="353.82" y="223.60" width="5.85" height="12.95" fill="#e4e4e6"/>
<rect x="360.36" y="223.60" width="5.85" height="12.95" fill="#e4e4e6"/>
<rect x="366.90" y="223.60" width="5.85" height="12.95" fill="#e4e4e6"/>
<rect x="373.43" y="223.60" width="5.85" height="12.95" fill="#e4e4e6"/>
<rect x="379.97" y="223.60" width="5.85" height="12.95" fill="#e4e4e6"/>
<rect x="386.51" y="223.60" width="5.85" height="12.95" fill="#e4e4e6"/>
<rect x="393.05" y="223.60" width="5.85" height="12.95" fill="#e4e4e6"/>
<rect x="399.59" y="223.60" width="5.85" height="12.95" fill="#e4e4e6"/>
<rect x="406.12" y="223.60" width="5.85" height="12.95" fill="#e4e4e6"/>
<rect x="412.66" y="223.60" width="5.85" height="12.95" fill="#e4e4e6"/>
<rect x="419.20" y="223.60" width="5.85" height="12.95" fill="#e4e4e6"/>
<rect x="425.74" y="223.60" width="5.85" height="12.95" fill="#e4e4e6"/>
<rect x="432.28" y="223.60" width="5.85" height="12.95" fill="#e4e4e6"/>
<rect x="438.81" y="223.60" width="5.85" height="12.95" fill="#e4e4e6"/>
<rect x="445.35" y="223.60" width="5.85" height="12.95" fill="#e4e4e6"/>
<rect x="451.89" y="223.60" width="5.85" height="12.95" fill="#e4e4e6"/>
<rect x="458.43" y="223.60" width="5.85" height="12.95" fill="#e4e4e6"/>
<rect x="464.97" y="223.60" width="5.85" height="12.95" fill="#e4e4e6"/>
<rect x="471.50" y="223.60" width="5.85" height="12.95" fill="#787c82"/>
<rect x="478.04" y="223.60" width="5.85" height="12.95" fill="#e4e4e6"/>
<text x="88.30" y="233.07" font-size="9.9" text-anchor="end" font-weight="normal" font-style="italic" fill="#1a1a1a"  stroke="#1a1a1a" stroke-width="0.12">BRAF</text>
<rect x="92.30" y="237.45" width="5.85" height="12.95" fill="#e4e4e6"/>
<rect x="98.84" y="237.45" width="5.85" height="12.95" fill="#e4e4e6"/>
<rect x="105.38" y="237.45" width="5.85" height="12.95" fill="#e4e4e6"/>
<rect x="111.91" y="237.45" width="5.85" height="12.95" fill="#e4e4e6"/>
<rect x="118.45" y="237.45" width="5.85" height="12.95" fill="#e4e4e6"/>
<rect x="124.99" y="237.45" width="5.85" height="12.95" fill="#e4e4e6"/>
<rect x="131.53" y="237.45" width="5.85" height="12.95" fill="#e4e4e6"/>
<rect x="138.07" y="237.45" width="5.85" height="12.95" fill="#e4e4e6"/>
<rect x="144.60" y="237.45" width="5.85" height="12.95" fill="#e4e4e6"/>
<rect x="151.14" y="237.45" width="5.85" height="12.95" fill="#e4e4e6"/>
<rect x="157.68" y="237.45" width="5.85" height="12.95" fill="#e4e4e6"/>
<rect x="164.22" y="237.45" width="5.85" height="12.95" fill="#e4e4e6"/>
<rect x="170.76" y="237.45" width="5.85" height="12.95" fill="#e4e4e6"/>
<rect x="177.29" y="237.45" width="5.85" height="12.95" fill="#e4e4e6"/>
<rect x="183.83" y="237.45" width="5.85" height="12.95" fill="#e4e4e6"/>
<rect x="190.37" y="237.45" width="5.85" height="12.95" fill="#e4e4e6"/>
<rect x="196.91" y="237.45" width="5.85" height="12.95" fill="#e4e4e6"/>
<rect x="203.45" y="237.45" width="5.85" height="12.95" fill="#e4e4e6"/>
<rect x="209.98" y="237.45" width="5.85" height="12.95" fill="#e4e4e6"/>
<rect x="216.52" y="237.45" width="5.85" height="12.95" fill="#e4e4e6"/>
<rect x="223.06" y="237.45" width="5.85" height="12.95" fill="#e4e4e6"/>
<rect x="229.60" y="237.45" width="5.85" height="12.95" fill="#e4e4e6"/>
<rect x="236.14" y="237.45" width="5.85" height="12.95" fill="#e4e4e6"/>
<rect x="242.67" y="237.45" width="5.85" height="12.95" fill="#e4e4e6"/>
<rect x="249.21" y="237.45" width="5.85" height="12.95" fill="#e4e4e6"/>
<rect x="255.75" y="237.45" width="5.85" height="12.95" fill="#e4e4e6"/>
<rect x="262.29" y="237.45" width="5.85" height="12.95" fill="#e4e4e6"/>
<rect x="268.83" y="237.45" width="5.85" height="12.95" fill="#e4e4e6"/>
<rect x="275.36" y="237.45" width="5.85" height="12.95" fill="#e4e4e6"/>
<rect x="281.90" y="237.45" width="5.85" height="12.95" fill="#aa1f35"/>
<rect x="288.44" y="237.45" width="5.85" height="12.95" fill="#e4e4e6"/>
<rect x="294.98" y="237.45" width="5.85" height="12.95" fill="#e4e4e6"/>
<rect x="301.52" y="237.45" width="5.85" height="12.95" fill="#e4e4e6"/>
<rect x="308.05" y="237.45" width="5.85" height="12.95" fill="#e4e4e6"/>
<rect x="314.59" y="237.45" width="5.85" height="12.95" fill="#e4e4e6"/>
<rect x="321.13" y="237.45" width="5.85" height="12.95" fill="#e4e4e6"/>
<rect x="327.67" y="237.45" width="5.85" height="12.95" fill="#e4e4e6"/>
<rect x="334.21" y="237.45" width="5.85" height="12.95" fill="#aa1f35"/>
<rect x="340.74" y="237.45" width="5.85" height="12.95" fill="#e4e4e6"/>
<rect x="347.28" y="237.45" width="5.85" height="12.95" fill="#e4e4e6"/>
<rect x="353.82" y="237.45" width="5.85" height="12.95" fill="#e4e4e6"/>
<rect x="360.36" y="237.45" width="5.85" height="12.95" fill="#aa1f35"/>
<rect x="366.90" y="237.45" width="5.85" height="12.95" fill="#e4e4e6"/>
<rect x="373.43" y="237.45" width="5.85" height="12.95" fill="#e4e4e6"/>
<rect x="379.97" y="237.45" width="5.85" height="12.95" fill="#e4e4e6"/>
<rect x="386.51" y="237.45" width="5.85" height="12.95" fill="#e4e4e6"/>
<rect x="393.05" y="237.45" width="5.85" height="12.95" fill="#e4e4e6"/>
<rect x="399.59" y="237.45" width="5.85" height="12.95" fill="#e4e4e6"/>
<rect x="406.12" y="237.45" width="5.85" height="12.95" fill="#e4e4e6"/>
<rect x="412.66" y="237.45" width="5.85" height="12.95" fill="#e4e4e6"/>
<rect x="419.20" y="237.45" width="5.85" height="12.95" fill="#aa1f35"/>
<rect x="425.74" y="237.45" width="5.85" height="12.95" fill="#e4e4e6"/>
<rect x="432.28" y="237.45" width="5.85" height="12.95" fill="#e4e4e6"/>
<rect x="438.81" y="237.45" width="5.85" height="12.95" fill="#aa1f35"/>
<rect x="445.35" y="237.45" width="5.85" height="12.95" fill="#aa1f35"/>
<rect x="451.89" y="237.45" width="5.85" height="12.95" fill="#e4e4e6"/>
<rect x="458.43" y="237.45" width="5.85" height="12.95" fill="#e4e4e6"/>
<rect x="464.97" y="237.45" width="5.85" height="12.95" fill="#e4e4e6"/>
<rect x="471.50" y="237.45" width="5.85" height="12.95" fill="#e4e4e6"/>
<rect x="478.04" y="237.45" width="5.85" height="12.95" fill="#e4e4e6"/>
<text x="88.30" y="246.92" font-size="9.9" text-anchor="end" font-weight="normal" font-style="italic" fill="#8e2339"  stroke="#8e2339" stroke-width="0.12">NKX2-1</text>
<rect x="92.30" y="251.30" width="5.85" height="12.95" fill="#e4e4e6"/>
<rect x="98.84" y="251.30" width="5.85" height="12.95" fill="#e4e4e6"/>
<rect x="105.38" y="251.30" width="5.85" height="12.95" fill="#e4e4e6"/>
<rect x="111.91" y="251.30" width="5.85" height="12.95" fill="#e4e4e6"/>
<rect x="118.45" y="251.30" width="5.85" height="12.95" fill="#e4e4e6"/>
<rect x="124.99" y="251.30" width="5.85" height="12.95" fill="#e4e4e6"/>
<rect x="131.53" y="251.30" width="5.85" height="12.95" fill="#aa1f35"/>
<rect x="138.07" y="251.30" width="5.85" height="12.95" fill="#aa1f35"/>
<rect x="144.60" y="251.30" width="5.85" height="12.95" fill="#e4e4e6"/>
<rect x="151.14" y="251.30" width="5.85" height="12.95" fill="#e4e4e6"/>
<rect x="157.68" y="251.30" width="5.85" height="12.95" fill="#e4e4e6"/>
<rect x="164.22" y="251.30" width="5.85" height="12.95" fill="#e4e4e6"/>
<rect x="170.76" y="251.30" width="5.85" height="12.95" fill="#e4e4e6"/>
<rect x="177.29" y="251.30" width="5.85" height="12.95" fill="#e4e4e6"/>
<rect x="183.83" y="251.30" width="5.85" height="12.95" fill="#e4e4e6"/>
<rect x="190.37" y="251.30" width="5.85" height="12.95" fill="#e4e4e6"/>
<rect x="196.91" y="251.30" width="5.85" height="12.95" fill="#e4e4e6"/>
<rect x="203.45" y="251.30" width="5.85" height="12.95" fill="#e4e4e6"/>
<rect x="209.98" y="251.30" width="5.85" height="12.95" fill="#aa1f35"/>
<rect x="216.52" y="251.30" width="5.85" height="12.95" fill="#e4e4e6"/>
<rect x="223.06" y="251.30" width="5.85" height="12.95" fill="#e4e4e6"/>
<rect x="229.60" y="251.30" width="5.85" height="12.95" fill="#e4e4e6"/>
<rect x="236.14" y="251.30" width="5.85" height="12.95" fill="#e4e4e6"/>
<rect x="242.67" y="251.30" width="5.85" height="12.95" fill="#e4e4e6"/>
<rect x="249.21" y="251.30" width="5.85" height="12.95" fill="#e4e4e6"/>
<rect x="255.75" y="251.30" width="5.85" height="12.95" fill="#e4e4e6"/>
<rect x="262.29" y="251.30" width="5.85" height="12.95" fill="#e4e4e6"/>
<rect x="268.83" y="251.30" width="5.85" height="12.95" fill="#e4e4e6"/>
<rect x="275.36" y="251.30" width="5.85" height="12.95" fill="#e4e4e6"/>
<rect x="281.90" y="251.30" width="5.85" height="12.95" fill="#e4e4e6"/>
<rect x="288.44" y="251.30" width="5.85" height="12.95" fill="#e4e4e6"/>
<rect x="294.98" y="251.30" width="5.85" height="12.95" fill="#e4e4e6"/>
<rect x="301.52" y="251.30" width="5.85" height="12.95" fill="#e4e4e6"/>
<rect x="308.05" y="251.30" width="5.85" height="12.95" fill="#e4e4e6"/>
<rect x="314.59" y="251.30" width="5.85" height="12.95" fill="#e4e4e6"/>
<rect x="321.13" y="251.30" width="5.85" height="12.95" fill="#e4e4e6"/>
<rect x="327.67" y="251.30" width="5.85" height="12.95" fill="#e4e4e6"/>
<rect x="334.21" y="251.30" width="5.85" height="12.95" fill="#e4e4e6"/>
<rect x="340.74" y="251.30" width="5.85" height="12.95" fill="#e4e4e6"/>
<rect x="347.28" y="251.30" width="5.85" height="12.95" fill="#e4e4e6"/>
<rect x="353.82" y="251.30" width="5.85" height="12.95" fill="#e4e4e6"/>
<rect x="360.36" y="251.30" width="5.85" height="12.95" fill="#e4e4e6"/>
<rect x="366.90" y="251.30" width="5.85" height="12.95" fill="#e4e4e6"/>
<rect x="373.43" y="251.30" width="5.85" height="12.95" fill="#e4e4e6"/>
<rect x="379.97" y="251.30" width="5.85" height="12.95" fill="#e4e4e6"/>
<rect x="386.51" y="251.30" width="5.85" height="12.95" fill="#e4e4e6"/>
<rect x="393.05" y="251.30" width="5.85" height="12.95" fill="#e4e4e6"/>
<rect x="399.59" y="251.30" width="5.85" height="12.95" fill="#e4e4e6"/>
<rect x="406.12" y="251.30" width="5.85" height="12.95" fill="#e4e4e6"/>
<rect x="412.66" y="251.30" width="5.85" height="12.95" fill="#e4e4e6"/>
<rect x="419.20" y="251.30" width="5.85" height="12.95" fill="#e4e4e6"/>
<rect x="425.74" y="251.30" width="5.85" height="12.95" fill="#e4e4e6"/>
<rect x="432.28" y="251.30" width="5.85" height="12.95" fill="#aa1f35"/>
<rect x="438.81" y="251.30" width="5.85" height="12.95" fill="#e4e4e6"/>
<rect x="445.35" y="251.30" width="5.85" height="12.95" fill="#e4e4e6"/>
<rect x="451.89" y="251.30" width="5.85" height="12.95" fill="#e4e4e6"/>
<rect x="458.43" y="251.30" width="5.85" height="12.95" fill="#e4e4e6"/>
<rect x="464.97" y="251.30" width="5.85" height="12.95" fill="#aa1f35"/>
<rect x="471.50" y="251.30" width="5.85" height="12.95" fill="#e4e4e6"/>
<rect x="478.04" y="251.30" width="5.85" height="12.95" fill="#e4e4e6"/>
<text x="88.30" y="260.77" font-size="9.9" text-anchor="end" font-weight="normal" font-style="italic" fill="#8e2339"  stroke="#8e2339" stroke-width="0.12">MYCL1</text>
<rect x="92.30" y="265.15" width="5.85" height="12.95" fill="#e4e4e6"/>
<rect x="98.84" y="265.15" width="5.85" height="12.95" fill="#e4e4e6"/>
<rect x="105.38" y="265.15" width="5.85" height="12.95" fill="#e4e4e6"/>
<rect x="111.91" y="265.15" width="5.85" height="12.95" fill="#e4e4e6"/>
<rect x="118.45" y="265.15" width="5.85" height="12.95" fill="#e4e4e6"/>
<rect x="124.99" y="265.15" width="5.85" height="12.95" fill="#e4e4e6"/>
<rect x="131.53" y="265.15" width="5.85" height="12.95" fill="#e4e4e6"/>
<rect x="138.07" y="265.15" width="5.85" height="12.95" fill="#e4e4e6"/>
<rect x="144.60" y="265.15" width="5.85" height="12.95" fill="#e4e4e6"/>
<rect x="151.14" y="265.15" width="5.85" height="12.95" fill="#e4e4e6"/>
<rect x="157.68" y="265.15" width="5.85" height="12.95" fill="#aa1f35"/>
<rect x="164.22" y="265.15" width="5.85" height="12.95" fill="#e4e4e6"/>
<rect x="170.76" y="265.15" width="5.85" height="12.95" fill="#e4e4e6"/>
<rect x="177.29" y="265.15" width="5.85" height="12.95" fill="#e4e4e6"/>
<rect x="183.83" y="265.15" width="5.85" height="12.95" fill="#e4e4e6"/>
<rect x="190.37" y="265.15" width="5.85" height="12.95" fill="#e4e4e6"/>
<rect x="196.91" y="265.15" width="5.85" height="12.95" fill="#e4e4e6"/>
<rect x="203.45" y="265.15" width="5.85" height="12.95" fill="#e4e4e6"/>
<rect x="209.98" y="265.15" width="5.85" height="12.95" fill="#e4e4e6"/>
<rect x="216.52" y="265.15" width="5.85" height="12.95" fill="#e4e4e6"/>
<rect x="223.06" y="265.15" width="5.85" height="12.95" fill="#e4e4e6"/>
<rect x="229.60" y="265.15" width="5.85" height="12.95" fill="#e4e4e6"/>
<rect x="236.14" y="265.15" width="5.85" height="12.95" fill="#e4e4e6"/>
<rect x="242.67" y="265.15" width="5.85" height="12.95" fill="#e4e4e6"/>
<rect x="249.21" y="265.15" width="5.85" height="12.95" fill="#e4e4e6"/>
<rect x="255.75" y="265.15" width="5.85" height="12.95" fill="#e4e4e6"/>
<rect x="262.29" y="265.15" width="5.85" height="12.95" fill="#e4e4e6"/>
<rect x="268.83" y="265.15" width="5.85" height="12.95" fill="#e4e4e6"/>
<rect x="275.36" y="265.15" width="5.85" height="12.95" fill="#e4e4e6"/>
<rect x="281.90" y="265.15" width="5.85" height="12.95" fill="#e4e4e6"/>
<rect x="288.44" y="265.15" width="5.85" height="12.95" fill="#e4e4e6"/>
<rect x="294.98" y="265.15" width="5.85" height="12.95" fill="#e4e4e6"/>
<rect x="301.52" y="265.15" width="5.85" height="12.95" fill="#e4e4e6"/>
<rect x="308.05" y="265.15" width="5.85" height="12.95" fill="#e4e4e6"/>
<rect x="314.59" y="265.15" width="5.85" height="12.95" fill="#e4e4e6"/>
<rect x="321.13" y="265.15" width="5.85" height="12.95" fill="#e4e4e6"/>
<rect x="327.67" y="265.15" width="5.85" height="12.95" fill="#e4e4e6"/>
<rect x="334.21" y="265.15" width="5.85" height="12.95" fill="#e4e4e6"/>
<rect x="340.74" y="265.15" width="5.85" height="12.95" fill="#e4e4e6"/>
<rect x="347.28" y="265.15" width="5.85" height="12.95" fill="#e4e4e6"/>
<rect x="353.82" y="265.15" width="5.85" height="12.95" fill="#e4e4e6"/>
<rect x="360.36" y="265.15" width="5.85" height="12.95" fill="#e4e4e6"/>
<rect x="366.90" y="265.15" width="5.85" height="12.95" fill="#e4e4e6"/>
<rect x="373.43" y="265.15" width="5.85" height="12.95" fill="#e4e4e6"/>
<rect x="379.97" y="265.15" width="5.85" height="12.95" fill="#e4e4e6"/>
<rect x="386.51" y="265.15" width="5.85" height="12.95" fill="#e4e4e6"/>
<rect x="393.05" y="265.15" width="5.85" height="12.95" fill="#e4e4e6"/>
<rect x="399.59" y="265.15" width="5.85" height="12.95" fill="#e4e4e6"/>
<rect x="406.12" y="265.15" width="5.85" height="12.95" fill="#e4e4e6"/>
<rect x="412.66" y="265.15" width="5.85" height="12.95" fill="#e4e4e6"/>
<rect x="419.20" y="265.15" width="5.85" height="12.95" fill="#aa1f35"/>
<rect x="425.74" y="265.15" width="5.85" height="12.95" fill="#e4e4e6"/>
<rect x="432.28" y="265.15" width="5.85" height="12.95" fill="#e4e4e6"/>
<rect x="438.81" y="265.15" width="5.85" height="12.95" fill="#e4e4e6"/>
<rect x="445.35" y="265.15" width="5.85" height="12.95" fill="#e4e4e6"/>
<rect x="451.89" y="265.15" width="5.85" height="12.95" fill="#e4e4e6"/>
<rect x="458.43" y="265.15" width="5.85" height="12.95" fill="#e4e4e6"/>
<rect x="464.97" y="265.15" width="5.85" height="12.95" fill="#e4e4e6"/>
<rect x="471.50" y="265.15" width="5.85" height="12.95" fill="#e4e4e6"/>
<rect x="478.04" y="265.15" width="5.85" height="12.95" fill="#e4e4e6"/>
<text x="88.30" y="274.62" font-size="9.9" text-anchor="end" font-weight="normal" font-style="italic" fill="#8e2339"  stroke="#8e2339" stroke-width="0.12">MYC</text>
<rect x="92.30" y="279.00" width="5.85" height="12.95" fill="#e4e4e6"/>
<rect x="98.84" y="279.00" width="5.85" height="12.95" fill="#e4e4e6"/>
<rect x="105.38" y="279.00" width="5.85" height="12.95" fill="#e4e4e6"/>
<rect x="111.91" y="279.00" width="5.85" height="12.95" fill="#e4e4e6"/>
<rect x="118.45" y="279.00" width="5.85" height="12.95" fill="#e4e4e6"/>
<rect x="124.99" y="279.00" width="5.85" height="12.95" fill="#e4e4e6"/>
<rect x="131.53" y="279.00" width="5.85" height="12.95" fill="#e4e4e6"/>
<rect x="138.07" y="279.00" width="5.85" height="12.95" fill="#e4e4e6"/>
<rect x="144.60" y="279.00" width="5.85" height="12.95" fill="#e4e4e6"/>
<rect x="151.14" y="279.00" width="5.85" height="12.95" fill="#e4e4e6"/>
<rect x="157.68" y="279.00" width="5.85" height="12.95" fill="#e4e4e6"/>
<rect x="164.22" y="279.00" width="5.85" height="12.95" fill="#e4e4e6"/>
<rect x="170.76" y="279.00" width="5.85" height="12.95" fill="#e4e4e6"/>
<rect x="177.29" y="279.00" width="5.85" height="12.95" fill="#e4e4e6"/>
<rect x="183.83" y="279.00" width="5.85" height="12.95" fill="#e4e4e6"/>
<rect x="190.37" y="279.00" width="5.85" height="12.95" fill="#e4e4e6"/>
<rect x="196.91" y="279.00" width="5.85" height="12.95" fill="#e4e4e6"/>
<rect x="203.45" y="279.00" width="5.85" height="12.95" fill="#e4e4e6"/>
<rect x="209.98" y="279.00" width="5.85" height="12.95" fill="#e4e4e6"/>
<rect x="216.52" y="279.00" width="5.85" height="12.95" fill="#e4e4e6"/>
<rect x="223.06" y="279.00" width="5.85" height="12.95" fill="#e4e4e6"/>
<rect x="229.60" y="279.00" width="5.85" height="12.95" fill="#e4e4e6"/>
<rect x="236.14" y="279.00" width="5.85" height="12.95" fill="#e4e4e6"/>
<rect x="242.67" y="279.00" width="5.85" height="12.95" fill="#e4e4e6"/>
<rect x="249.21" y="279.00" width="5.85" height="12.95" fill="#e4e4e6"/>
<rect x="255.75" y="279.00" width="5.85" height="12.95" fill="#e4e4e6"/>
<rect x="262.29" y="279.00" width="5.85" height="12.95" fill="#e4e4e6"/>
<rect x="268.83" y="279.00" width="5.85" height="12.95" fill="#aa1f35"/>
<rect x="275.36" y="279.00" width="5.85" height="12.95" fill="#e4e4e6"/>
<rect x="281.90" y="279.00" width="5.85" height="12.95" fill="#e4e4e6"/>
<rect x="288.44" y="279.00" width="5.85" height="12.95" fill="#e4e4e6"/>
<rect x="294.98" y="279.00" width="5.85" height="12.95" fill="#e4e4e6"/>
<rect x="301.52" y="279.00" width="5.85" height="12.95" fill="#e4e4e6"/>
<rect x="308.05" y="279.00" width="5.85" height="12.95" fill="#e4e4e6"/>
<rect x="314.59" y="279.00" width="5.85" height="12.95" fill="#e4e4e6"/>
<rect x="321.13" y="279.00" width="5.85" height="12.95" fill="#e4e4e6"/>
<rect x="327.67" y="279.00" width="5.85" height="12.95" fill="#e4e4e6"/>
<rect x="334.21" y="279.00" width="5.85" height="12.95" fill="#e4e4e6"/>
<rect x="340.74" y="279.00" width="5.85" height="12.95" fill="#e4e4e6"/>
<rect x="347.28" y="279.00" width="5.85" height="12.95" fill="#e4e4e6"/>
<rect x="353.82" y="279.00" width="5.85" height="12.95" fill="#e4e4e6"/>
<rect x="360.36" y="279.00" width="5.85" height="12.95" fill="#e4e4e6"/>
<rect x="366.90" y="279.00" width="5.85" height="12.95" fill="#e4e4e6"/>
<rect x="373.43" y="279.00" width="5.85" height="12.95" fill="#e4e4e6"/>
<rect x="379.97" y="279.00" width="5.85" height="12.95" fill="#e4e4e6"/>
<rect x="386.51" y="279.00" width="5.85" height="12.95" fill="#e4e4e6"/>
<rect x="393.05" y="279.00" width="5.85" height="12.95" fill="#e4e4e6"/>
<rect x="399.59" y="279.00" width="5.85" height="12.95" fill="#e4e4e6"/>
<rect x="406.12" y="279.00" width="5.85" height="12.95" fill="#e4e4e6"/>
<rect x="412.66" y="279.00" width="5.85" height="12.95" fill="#e4e4e6"/>
<rect x="419.20" y="279.00" width="5.85" height="12.95" fill="#e4e4e6"/>
<rect x="425.74" y="279.00" width="5.85" height="12.95" fill="#aa1f35"/>
<rect x="432.28" y="279.00" width="5.85" height="12.95" fill="#e4e4e6"/>
<rect x="438.81" y="279.00" width="5.85" height="12.95" fill="#e4e4e6"/>
<rect x="445.35" y="279.00" width="5.85" height="12.95" fill="#e4e4e6"/>
<rect x="451.89" y="279.00" width="5.85" height="12.95" fill="#e4e4e6"/>
<rect x="458.43" y="279.00" width="5.85" height="12.95" fill="#e4e4e6"/>
<rect x="464.97" y="279.00" width="5.85" height="12.95" fill="#e4e4e6"/>
<rect x="471.50" y="279.00" width="5.85" height="12.95" fill="#e4e4e6"/>
<rect x="478.04" y="279.00" width="5.85" height="12.95" fill="#e4e4e6"/>
<text x="88.30" y="288.48" font-size="9.9" text-anchor="end" font-weight="normal" font-style="italic" fill="#8e2339"  stroke="#8e2339" stroke-width="0.12">FGFR1</text>
<rect x="92.30" y="292.85" width="5.85" height="12.95" fill="#e4e4e6"/>
<rect x="98.84" y="292.85" width="5.85" height="12.95" fill="#e4e4e6"/>
<rect x="105.38" y="292.85" width="5.85" height="12.95" fill="#e4e4e6"/>
<rect x="111.91" y="292.85" width="5.85" height="12.95" fill="#e4e4e6"/>
<rect x="118.45" y="292.85" width="5.85" height="12.95" fill="#e4e4e6"/>
<rect x="124.99" y="292.85" width="5.85" height="12.95" fill="#e4e4e6"/>
<rect x="131.53" y="292.85" width="5.85" height="12.95" fill="#e4e4e6"/>
<rect x="138.07" y="292.85" width="5.85" height="12.95" fill="#aa1f35"/>
<rect x="144.60" y="292.85" width="5.85" height="12.95" fill="#e4e4e6"/>
<rect x="151.14" y="292.85" width="5.85" height="12.95" fill="#e4e4e6"/>
<rect x="157.68" y="292.85" width="5.85" height="12.95" fill="#e4e4e6"/>
<rect x="164.22" y="292.85" width="5.85" height="12.95" fill="#e4e4e6"/>
<rect x="170.76" y="292.85" width="5.85" height="12.95" fill="#e4e4e6"/>
<rect x="177.29" y="292.85" width="5.85" height="12.95" fill="#e4e4e6"/>
<rect x="183.83" y="292.85" width="5.85" height="12.95" fill="#e4e4e6"/>
<rect x="190.37" y="292.85" width="5.85" height="12.95" fill="#e4e4e6"/>
<rect x="196.91" y="292.85" width="5.85" height="12.95" fill="#e4e4e6"/>
<rect x="203.45" y="292.85" width="5.85" height="12.95" fill="#e4e4e6"/>
<rect x="209.98" y="292.85" width="5.85" height="12.95" fill="#e4e4e6"/>
<rect x="216.52" y="292.85" width="5.85" height="12.95" fill="#e4e4e6"/>
<rect x="223.06" y="292.85" width="5.85" height="12.95" fill="#e4e4e6"/>
<rect x="229.60" y="292.85" width="5.85" height="12.95" fill="#e4e4e6"/>
<rect x="236.14" y="292.85" width="5.85" height="12.95" fill="#e4e4e6"/>
<rect x="242.67" y="292.85" width="5.85" height="12.95" fill="#e4e4e6"/>
<rect x="249.21" y="292.85" width="5.85" height="12.95" fill="#e4e4e6"/>
<rect x="255.75" y="292.85" width="5.85" height="12.95" fill="#e4e4e6"/>
<rect x="262.29" y="292.85" width="5.85" height="12.95" fill="#e4e4e6"/>
<rect x="268.83" y="292.85" width="5.85" height="12.95" fill="#e4e4e6"/>
<rect x="275.36" y="292.85" width="5.85" height="12.95" fill="#e4e4e6"/>
<rect x="281.90" y="292.85" width="5.85" height="12.95" fill="#e4e4e6"/>
<rect x="288.44" y="292.85" width="5.85" height="12.95" fill="#e4e4e6"/>
<rect x="294.98" y="292.85" width="5.85" height="12.95" fill="#e4e4e6"/>
<rect x="301.52" y="292.85" width="5.85" height="12.95" fill="#e4e4e6"/>
<rect x="308.05" y="292.85" width="5.85" height="12.95" fill="#e4e4e6"/>
<rect x="314.59" y="292.85" width="5.85" height="12.95" fill="#e4e4e6"/>
<rect x="321.13" y="292.85" width="5.85" height="12.95" fill="#e4e4e6"/>
<rect x="327.67" y="292.85" width="5.85" height="12.95" fill="#e4e4e6"/>
<rect x="334.21" y="292.85" width="5.85" height="12.95" fill="#e4e4e6"/>
<rect x="340.74" y="292.85" width="5.85" height="12.95" fill="#e4e4e6"/>
<rect x="347.28" y="292.85" width="5.85" height="12.95" fill="#e4e4e6"/>
<rect x="353.82" y="292.85" width="5.85" height="12.95" fill="#e4e4e6"/>
<rect x="360.36" y="292.85" width="5.85" height="12.95" fill="#e4e4e6"/>
<rect x="366.90" y="292.85" width="5.85" height="12.95" fill="#e4e4e6"/>
<rect x="373.43" y="292.85" width="5.85" height="12.95" fill="#e4e4e6"/>
<rect x="379.97" y="292.85" width="5.85" height="12.95" fill="#e4e4e6"/>
<rect x="386.51" y="292.85" width="5.85" height="12.95" fill="#e4e4e6"/>
<rect x="393.05" y="292.85" width="5.85" height="12.95" fill="#e4e4e6"/>
<rect x="399.59" y="292.85" width="5.85" height="12.95" fill="#e4e4e6"/>
<rect x="406.12" y="292.85" width="5.85" height="12.95" fill="#e4e4e6"/>
<rect x="412.66" y="292.85" width="5.85" height="12.95" fill="#e4e4e6"/>
<rect x="419.20" y="292.85" width="5.85" height="12.95" fill="#e4e4e6"/>
<rect x="425.74" y="292.85" width="5.85" height="12.95" fill="#e4e4e6"/>
<rect x="432.28" y="292.85" width="5.85" height="12.95" fill="#e4e4e6"/>
<rect x="438.81" y="292.85" width="5.85" height="12.95" fill="#e4e4e6"/>
<rect x="445.35" y="292.85" width="5.85" height="12.95" fill="#e4e4e6"/>
<rect x="451.89" y="292.85" width="5.85" height="12.95" fill="#e4e4e6"/>
<rect x="458.43" y="292.85" width="5.85" height="12.95" fill="#e4e4e6"/>
<rect x="464.97" y="292.85" width="5.85" height="12.95" fill="#e4e4e6"/>
<rect x="471.50" y="292.85" width="5.85" height="12.95" fill="#e4e4e6"/>
<rect x="478.04" y="292.85" width="5.85" height="12.95" fill="#e4e4e6"/>
<text x="88.30" y="302.33" font-size="9.9" text-anchor="end" font-weight="normal" font-style="italic" fill="#8e2339"  stroke="#8e2339" stroke-width="0.12">IRS2</text>
<rect x="92.30" y="306.70" width="5.85" height="12.95" fill="#e4e4e6"/>
<rect x="98.84" y="306.70" width="5.85" height="12.95" fill="#e4e4e6"/>
<rect x="105.38" y="306.70" width="5.85" height="12.95" fill="#e4e4e6"/>
<rect x="111.91" y="306.70" width="5.85" height="12.95" fill="#e4e4e6"/>
<rect x="118.45" y="306.70" width="5.85" height="12.95" fill="#e4e4e6"/>
<rect x="124.99" y="306.70" width="5.85" height="12.95" fill="#e4e4e6"/>
<rect x="131.53" y="306.70" width="5.85" height="12.95" fill="#e4e4e6"/>
<rect x="138.07" y="306.70" width="5.85" height="12.95" fill="#4843a2"/>
<rect x="144.60" y="306.70" width="5.85" height="12.95" fill="#e4e4e6"/>
<rect x="151.14" y="306.70" width="5.85" height="12.95" fill="#e4e4e6"/>
<rect x="157.68" y="306.70" width="5.85" height="12.95" fill="#e4e4e6"/>
<rect x="164.22" y="306.70" width="5.85" height="12.95" fill="#e4e4e6"/>
<rect x="170.76" y="306.70" width="5.85" height="12.95" fill="#e4e4e6"/>
<rect x="177.29" y="306.70" width="5.85" height="12.95" fill="#e4e4e6"/>
<rect x="183.83" y="306.70" width="5.85" height="12.95" fill="#e4e4e6"/>
<rect x="190.37" y="306.70" width="5.85" height="12.95" fill="#e4e4e6"/>
<rect x="196.91" y="306.70" width="5.85" height="12.95" fill="#e4e4e6"/>
<rect x="203.45" y="306.70" width="5.85" height="12.95" fill="#e4e4e6"/>
<rect x="209.98" y="306.70" width="5.85" height="12.95" fill="#e4e4e6"/>
<rect x="216.52" y="306.70" width="5.85" height="12.95" fill="#e4e4e6"/>
<rect x="223.06" y="306.70" width="5.85" height="12.95" fill="#e4e4e6"/>
<rect x="229.60" y="306.70" width="5.85" height="12.95" fill="#e4e4e6"/>
<rect x="236.14" y="306.70" width="5.85" height="12.95" fill="#e4e4e6"/>
<rect x="242.67" y="306.70" width="5.85" height="12.95" fill="#e4e4e6"/>
<rect x="249.21" y="306.70" width="5.85" height="12.95" fill="#e4e4e6"/>
<rect x="255.75" y="306.70" width="5.85" height="12.95" fill="#e4e4e6"/>
<rect x="262.29" y="306.70" width="5.85" height="12.95" fill="#e4e4e6"/>
<rect x="268.83" y="306.70" width="5.85" height="12.95" fill="#e4e4e6"/>
<rect x="275.36" y="306.70" width="5.85" height="12.95" fill="#e4e4e6"/>
<rect x="281.90" y="306.70" width="5.85" height="12.95" fill="#e4e4e6"/>
<rect x="288.44" y="306.70" width="5.85" height="12.95" fill="#e4e4e6"/>
<rect x="294.98" y="306.70" width="5.85" height="12.95" fill="#e4e4e6"/>
<rect x="301.52" y="306.70" width="5.85" height="12.95" fill="#e4e4e6"/>
<rect x="308.05" y="306.70" width="5.85" height="12.95" fill="#e4e4e6"/>
<rect x="314.59" y="306.70" width="5.85" height="12.95" fill="#e4e4e6"/>
<rect x="321.13" y="306.70" width="5.85" height="12.95" fill="#e4e4e6"/>
<rect x="327.67" y="306.70" width="5.85" height="12.95" fill="#4843a2"/>
<rect x="334.21" y="306.70" width="5.85" height="12.95" fill="#e4e4e6"/>
<rect x="340.74" y="306.70" width="5.85" height="12.95" fill="#e4e4e6"/>
<rect x="347.28" y="306.70" width="5.85" height="12.95" fill="#e4e4e6"/>
<rect x="353.82" y="306.70" width="5.85" height="12.95" fill="#e4e4e6"/>
<rect x="360.36" y="306.70" width="5.85" height="12.95" fill="#e4e4e6"/>
<rect x="366.90" y="306.70" width="5.85" height="12.95" fill="#e4e4e6"/>
<rect x="373.43" y="306.70" width="5.85" height="12.95" fill="#e4e4e6"/>
<rect x="379.97" y="306.70" width="5.85" height="12.95" fill="#e4e4e6"/>
<rect x="386.51" y="306.70" width="5.85" height="12.95" fill="#e4e4e6"/>
<rect x="393.05" y="306.70" width="5.85" height="12.95" fill="#e4e4e6"/>
<rect x="399.59" y="306.70" width="5.85" height="12.95" fill="#e4e4e6"/>
<rect x="406.12" y="306.70" width="5.85" height="12.95" fill="#e4e4e6"/>
<rect x="412.66" y="306.70" width="5.85" height="12.95" fill="#4843a2"/>
<rect x="419.20" y="306.70" width="5.85" height="12.95" fill="#e4e4e6"/>
<rect x="425.74" y="306.70" width="5.85" height="12.95" fill="#e4e4e6"/>
<rect x="432.28" y="306.70" width="5.85" height="12.95" fill="#e4e4e6"/>
<rect x="438.81" y="306.70" width="5.85" height="12.95" fill="#e4e4e6"/>
<rect x="445.35" y="306.70" width="5.85" height="12.95" fill="#e4e4e6"/>
<rect x="451.89" y="306.70" width="5.85" height="12.95" fill="#e4e4e6"/>
<rect x="458.43" y="306.70" width="5.85" height="12.95" fill="#e4e4e6"/>
<rect x="464.97" y="306.70" width="5.85" height="12.95" fill="#e4e4e6"/>
<rect x="471.50" y="306.70" width="5.85" height="12.95" fill="#e4e4e6"/>
<rect x="478.04" y="306.70" width="5.85" height="12.95" fill="#e4e4e6"/>
<text x="88.30" y="316.18" font-size="9.9" text-anchor="end" font-weight="normal" font-style="italic" fill="#45458e"  stroke="#45458e" stroke-width="0.12">PTPRD</text>
<rect x="92.30" y="320.55" width="5.85" height="12.95" fill="#e4e4e6"/>
<rect x="98.84" y="320.55" width="5.85" height="12.95" fill="#e4e4e6"/>
<rect x="105.38" y="320.55" width="5.85" height="12.95" fill="#e4e4e6"/>
<rect x="111.91" y="320.55" width="5.85" height="12.95" fill="#e4e4e6"/>
<rect x="118.45" y="320.55" width="5.85" height="12.95" fill="#e4e4e6"/>
<rect x="124.99" y="320.55" width="5.85" height="12.95" fill="#e4e4e6"/>
<rect x="131.53" y="320.55" width="5.85" height="12.95" fill="#e4e4e6"/>
<rect x="138.07" y="320.55" width="5.85" height="12.95" fill="#e4e4e6"/>
<rect x="144.60" y="320.55" width="5.85" height="12.95" fill="#e4e4e6"/>
<rect x="151.14" y="320.55" width="5.85" height="12.95" fill="#e4e4e6"/>
<rect x="157.68" y="320.55" width="5.85" height="12.95" fill="#e4e4e6"/>
<rect x="164.22" y="320.55" width="5.85" height="12.95" fill="#e4e4e6"/>
<rect x="170.76" y="320.55" width="5.85" height="12.95" fill="#e4e4e6"/>
<rect x="177.29" y="320.55" width="5.85" height="12.95" fill="#e4e4e6"/>
<rect x="183.83" y="320.55" width="5.85" height="12.95" fill="#e4e4e6"/>
<rect x="190.37" y="320.55" width="5.85" height="12.95" fill="#e4e4e6"/>
<rect x="196.91" y="320.55" width="5.85" height="12.95" fill="#e4e4e6"/>
<rect x="203.45" y="320.55" width="5.85" height="12.95" fill="#e4e4e6"/>
<rect x="209.98" y="320.55" width="5.85" height="12.95" fill="#e4e4e6"/>
<rect x="216.52" y="320.55" width="5.85" height="12.95" fill="#e4e4e6"/>
<rect x="223.06" y="320.55" width="5.85" height="12.95" fill="#e4e4e6"/>
<rect x="229.60" y="320.55" width="5.85" height="12.95" fill="#e4e4e6"/>
<rect x="236.14" y="320.55" width="5.85" height="12.95" fill="#e4e4e6"/>
<rect x="242.67" y="320.55" width="5.85" height="12.95" fill="#e4e4e6"/>
<rect x="249.21" y="320.55" width="5.85" height="12.95" fill="#e4e4e6"/>
<rect x="255.75" y="320.55" width="5.85" height="12.95" fill="#e4e4e6"/>
<rect x="262.29" y="320.55" width="5.85" height="12.95" fill="#e4e4e6"/>
<rect x="268.83" y="320.55" width="5.85" height="12.95" fill="#e4e4e6"/>
<rect x="275.36" y="320.55" width="5.85" height="12.95" fill="#e4e4e6"/>
<rect x="281.90" y="320.55" width="5.85" height="12.95" fill="#e4e4e6"/>
<rect x="288.44" y="320.55" width="5.85" height="12.95" fill="#4843a2"/>
<rect x="294.98" y="320.55" width="5.85" height="12.95" fill="#e4e4e6"/>
<rect x="301.52" y="320.55" width="5.85" height="12.95" fill="#e4e4e6"/>
<rect x="308.05" y="320.55" width="5.85" height="12.95" fill="#e4e4e6"/>
<rect x="314.59" y="320.55" width="5.85" height="12.95" fill="#e4e4e6"/>
<rect x="321.13" y="320.55" width="5.85" height="12.95" fill="#e4e4e6"/>
<rect x="327.67" y="320.55" width="5.85" height="12.95" fill="#4843a2"/>
<rect x="334.21" y="320.55" width="5.85" height="12.95" fill="#e4e4e6"/>
<rect x="340.74" y="320.55" width="5.85" height="12.95" fill="#e4e4e6"/>
<rect x="347.28" y="320.55" width="5.85" height="12.95" fill="#e4e4e6"/>
<rect x="353.82" y="320.55" width="5.85" height="12.95" fill="#e4e4e6"/>
<rect x="360.36" y="320.55" width="5.85" height="12.95" fill="#e4e4e6"/>
<rect x="366.90" y="320.55" width="5.85" height="12.95" fill="#e4e4e6"/>
<rect x="373.43" y="320.55" width="5.85" height="12.95" fill="#e4e4e6"/>
<rect x="379.97" y="320.55" width="5.85" height="12.95" fill="#e4e4e6"/>
<rect x="386.51" y="320.55" width="5.85" height="12.95" fill="#e4e4e6"/>
<rect x="393.05" y="320.55" width="5.85" height="12.95" fill="#4843a2"/>
<rect x="399.59" y="320.55" width="5.85" height="12.95" fill="#e4e4e6"/>
<rect x="406.12" y="320.55" width="5.85" height="12.95" fill="#e4e4e6"/>
<rect x="412.66" y="320.55" width="5.85" height="12.95" fill="#e4e4e6"/>
<rect x="419.20" y="320.55" width="5.85" height="12.95" fill="#e4e4e6"/>
<rect x="425.74" y="320.55" width="5.85" height="12.95" fill="#e4e4e6"/>
<rect x="432.28" y="320.55" width="5.85" height="12.95" fill="#e4e4e6"/>
<rect x="438.81" y="320.55" width="5.85" height="12.95" fill="#e4e4e6"/>
<rect x="445.35" y="320.55" width="5.85" height="12.95" fill="#e4e4e6"/>
<rect x="451.89" y="320.55" width="5.85" height="12.95" fill="#e4e4e6"/>
<rect x="458.43" y="320.55" width="5.85" height="12.95" fill="#e4e4e6"/>
<rect x="464.97" y="320.55" width="5.85" height="12.95" fill="#e4e4e6"/>
<rect x="471.50" y="320.55" width="5.85" height="12.95" fill="#e4e4e6"/>
<rect x="478.04" y="320.55" width="5.85" height="12.95" fill="#e4e4e6"/>
<text x="88.30" y="330.02" font-size="9.9" text-anchor="end" font-weight="normal" font-style="italic" fill="#45458e"  stroke="#45458e" stroke-width="0.12">CDKN2A</text>
<text x="529.00" y="65.80" font-size="9.8" text-anchor="middle" font-weight="normal" font-style="normal" fill="#1a1a1a"  stroke="#1a1a1a" stroke-width="0.12">Frequency (%)</text>
<text x="488.70" y="78.70" font-size="9.5" text-anchor="middle" font-weight="normal" font-style="normal" fill="#1a1a1a"  stroke="#1a1a1a" stroke-width="0.12">0</text>
<text x="509.20" y="78.70" font-size="9.5" text-anchor="middle" font-weight="normal" font-style="normal" fill="#1a1a1a"  stroke="#1a1a1a" stroke-width="0.12">20</text>
<text x="529.90" y="78.70" font-size="9.5" text-anchor="middle" font-weight="normal" font-style="normal" fill="#1a1a1a"  stroke="#1a1a1a" stroke-width="0.12">40</text>
<text x="544.40" y="78.70" font-size="9.5" text-anchor="middle" font-weight="normal" font-style="normal" fill="#1a1a1a"  stroke="#1a1a1a" stroke-width="0.12">80</text>
<text x="558.40" y="78.70" font-size="9.5" text-anchor="middle" font-weight="normal" font-style="normal" fill="#1a1a1a"  stroke="#1a1a1a" stroke-width="0.12">90</text>
<text x="574.40" y="78.70" font-size="9.5" text-anchor="middle" font-weight="normal" font-style="normal" fill="#1a1a1a"  stroke="#1a1a1a" stroke-width="0.12">100</text>
<line x1="488.3" y1="85.4" x2="540.5" y2="85.4" stroke="#333" stroke-width="0.7"/>
<line x1="544.8" y1="85.4" x2="569.8" y2="85.4" stroke="#333" stroke-width="0.7"/>
<line x1="488.3" y1="83.1" x2="488.3" y2="85.4" stroke="#333" stroke-width="0.7"/>
<line x1="509.4" y1="83.1" x2="509.4" y2="85.4" stroke="#333" stroke-width="0.7"/>
<line x1="530.5" y1="83.1" x2="530.5" y2="85.4" stroke="#333" stroke-width="0.7"/>
<line x1="540.5" y1="83.1" x2="540.5" y2="85.4" stroke="#333" stroke-width="0.7"/>
<line x1="544.8" y1="83.1" x2="544.8" y2="85.4" stroke="#333" stroke-width="0.7"/>
<line x1="558.0" y1="83.1" x2="558.0" y2="85.4" stroke="#333" stroke-width="0.7"/>
<line x1="569.8" y1="83.1" x2="569.8" y2="85.4" stroke="#333" stroke-width="0.7"/>
<line x1="488.3" y1="85.4" x2="488.3" y2="333.0" stroke="#333" stroke-width="0.7"/>
<line x1="486.3" y1="92.40" x2="488.3" y2="92.40" stroke="#333" stroke-width="0.7"/>
<rect x="488.6" y="87.00" width="51.40" height="10.8" fill="#464646"/>
<line x1="486.3" y1="106.20" x2="488.3" y2="106.20" stroke="#333" stroke-width="0.7"/>
<rect x="488.6" y="100.80" width="43.10" height="10.8" fill="#464646"/>
<line x1="486.3" y1="120.00" x2="488.3" y2="120.00" stroke="#333" stroke-width="0.7"/>
<rect x="488.6" y="114.60" width="31.00" height="10.8" fill="#464646"/>
<line x1="486.3" y1="133.80" x2="488.3" y2="133.80" stroke="#333" stroke-width="0.7"/>
<rect x="488.6" y="128.40" width="22.10" height="10.8" fill="#464646"/>
<line x1="486.3" y1="147.60" x2="488.3" y2="147.60" stroke="#333" stroke-width="0.7"/>
<rect x="488.6" y="142.20" width="20.10" height="10.8" fill="#464646"/>
<line x1="486.3" y1="161.40" x2="488.3" y2="161.40" stroke="#333" stroke-width="0.7"/>
<rect x="488.6" y="156.00" width="15.10" height="10.8" fill="#464646"/>
<line x1="486.3" y1="175.20" x2="488.3" y2="175.20" stroke="#333" stroke-width="0.7"/>
<rect x="488.6" y="169.80" width="11.80" height="10.8" fill="#464646"/>
<line x1="486.3" y1="189.00" x2="488.3" y2="189.00" stroke="#333" stroke-width="0.7"/>
<rect x="488.6" y="183.60" width="10.10" height="10.8" fill="#464646"/>
<line x1="486.3" y1="202.80" x2="488.3" y2="202.80" stroke="#333" stroke-width="0.7"/>
<rect x="488.6" y="197.40" width="10.20" height="10.8" fill="#464646"/>
<line x1="486.3" y1="216.60" x2="488.3" y2="216.60" stroke="#333" stroke-width="0.7"/>
<rect x="488.6" y="211.20" width="5.20" height="10.8" fill="#464646"/>
<line x1="486.3" y1="230.40" x2="488.3" y2="230.40" stroke="#333" stroke-width="0.7"/>
<rect x="488.6" y="225.00" width="3.20" height="10.8" fill="#464646"/>
<line x1="486.3" y1="244.20" x2="488.3" y2="244.20" stroke="#333" stroke-width="0.7"/>
<rect x="488.6" y="238.80" width="8.30" height="10.8" fill="#464646"/>
<line x1="486.3" y1="258.00" x2="488.3" y2="258.00" stroke="#333" stroke-width="0.7"/>
<rect x="488.6" y="252.60" width="6.70" height="10.8" fill="#464646"/>
<line x1="486.3" y1="271.80" x2="488.3" y2="271.80" stroke="#333" stroke-width="0.7"/>
<rect x="488.6" y="266.40" width="3.20" height="10.8" fill="#464646"/>
<line x1="486.3" y1="285.60" x2="488.3" y2="285.60" stroke="#333" stroke-width="0.7"/>
<rect x="488.6" y="280.20" width="3.20" height="10.8" fill="#464646"/>
<line x1="486.3" y1="299.40" x2="488.3" y2="299.40" stroke="#333" stroke-width="0.7"/>
<rect x="488.6" y="294.00" width="1.40" height="10.8" fill="#464646"/>
<line x1="486.3" y1="313.20" x2="488.3" y2="313.20" stroke="#333" stroke-width="0.7"/>
<rect x="488.6" y="307.80" width="6.70" height="10.8" fill="#464646"/>
<line x1="486.3" y1="327.00" x2="488.3" y2="327.00" stroke="#333" stroke-width="0.7"/>
<rect x="488.6" y="321.60" width="5.20" height="10.8" fill="#464646"/>
<rect x="545.1" y="87.00" width="14.1" height="10.8" fill="#464646"/>
<rect x="92.25" y="338.00" width="5.95" height="11.03" fill="#24245f"/>
<rect x="92.25" y="349.03" width="5.95" height="7.79" fill="#6b6baf"/>
<rect x="92.25" y="356.82" width="5.95" height="17.08" fill="#dcdcde"/>
<rect x="92.25" y="373.90" width="5.95" height="3.90" fill="#858585"/>
<rect x="92.25" y="377.80" width="5.95" height="6.10" fill="#4a8c87"/>
<rect x="92.25" y="383.90" width="5.95" height="1.70" fill="#080808"/>
<rect x="98.79" y="338.00" width="5.95" height="7.13" fill="#24245f"/>
<rect x="98.79" y="345.13" width="5.95" height="8.35" fill="#6b6baf"/>
<rect x="98.79" y="353.48" width="5.95" height="19.62" fill="#dcdcde"/>
<rect x="98.79" y="373.10" width="5.95" height="4.70" fill="#858585"/>
<rect x="98.79" y="377.80" width="5.95" height="6.10" fill="#4a8c87"/>
<rect x="98.79" y="383.90" width="5.95" height="1.70" fill="#080808"/>
<rect x="105.33" y="338.00" width="5.95" height="9.91" fill="#24245f"/>
<rect x="105.33" y="347.91" width="5.95" height="7.79" fill="#6b6baf"/>
<rect x="105.33" y="355.70" width="5.95" height="11.90" fill="#dcdcde"/>
<rect x="105.33" y="367.60" width="5.95" height="9.10" fill="#858585"/>
<rect x="105.33" y="376.70" width="5.95" height="7.20" fill="#4a8c87"/>
<rect x="105.33" y="383.90" width="5.95" height="1.70" fill="#080808"/>
<rect x="111.86" y="338.00" width="5.95" height="9.36" fill="#24245f"/>
<rect x="111.86" y="347.36" width="5.95" height="4.45" fill="#6b6baf"/>
<rect x="111.86" y="351.81" width="5.95" height="21.59" fill="#dcdcde"/>
<rect x="111.86" y="373.40" width="5.95" height="5.00" fill="#858585"/>
<rect x="111.86" y="378.40" width="5.95" height="6.10" fill="#4a8c87"/>
<rect x="111.86" y="384.50" width="5.95" height="1.10" fill="#080808"/>
<rect x="118.40" y="338.00" width="5.95" height="11.58" fill="#24245f"/>
<rect x="118.40" y="349.58" width="5.95" height="5.56" fill="#6b6baf"/>
<rect x="118.40" y="355.15" width="5.95" height="17.05" fill="#dcdcde"/>
<rect x="118.40" y="372.20" width="5.95" height="5.60" fill="#858585"/>
<rect x="118.40" y="377.80" width="5.95" height="5.80" fill="#4a8c87"/>
<rect x="118.40" y="383.60" width="5.95" height="2.00" fill="#080808"/>
<rect x="124.94" y="338.00" width="5.95" height="9.91" fill="#24245f"/>
<rect x="124.94" y="347.91" width="5.95" height="6.12" fill="#6b6baf"/>
<rect x="124.94" y="354.03" width="5.95" height="17.67" fill="#dcdcde"/>
<rect x="124.94" y="371.70" width="5.95" height="6.10" fill="#858585"/>
<rect x="124.94" y="377.80" width="5.95" height="6.10" fill="#4a8c87"/>
<rect x="124.94" y="383.90" width="5.95" height="1.70" fill="#080808"/>
<rect x="131.48" y="338.00" width="5.95" height="23.27" fill="#24245f"/>
<rect x="131.48" y="361.27" width="5.95" height="2.78" fill="#6b6baf"/>
<rect x="131.48" y="364.05" width="5.95" height="7.05" fill="#dcdcde"/>
<rect x="131.48" y="371.10" width="5.95" height="14.10" fill="#858585"/>
<rect x="131.48" y="385.20" width="5.95" height="0.40" fill="#080808"/>
<rect x="138.02" y="338.00" width="5.95" height="9.91" fill="#24245f"/>
<rect x="138.02" y="347.91" width="5.95" height="6.68" fill="#6b6baf"/>
<rect x="138.02" y="354.59" width="5.95" height="18.51" fill="#dcdcde"/>
<rect x="138.02" y="373.10" width="5.95" height="4.70" fill="#858585"/>
<rect x="138.02" y="377.80" width="5.95" height="6.10" fill="#4a8c87"/>
<rect x="138.02" y="383.90" width="5.95" height="1.70" fill="#080808"/>
<rect x="144.55" y="338.00" width="5.95" height="12.69" fill="#24245f"/>
<rect x="144.55" y="350.69" width="5.95" height="7.23" fill="#6b6baf"/>
<rect x="144.55" y="357.93" width="5.95" height="15.17" fill="#dcdcde"/>
<rect x="144.55" y="373.10" width="5.95" height="5.30" fill="#858585"/>
<rect x="144.55" y="378.40" width="5.95" height="6.10" fill="#4a8c87"/>
<rect x="144.55" y="384.50" width="5.95" height="1.10" fill="#080808"/>
<rect x="151.09" y="338.00" width="5.95" height="8.24" fill="#24245f"/>
<rect x="151.09" y="346.24" width="5.95" height="6.68" fill="#6b6baf"/>
<rect x="151.09" y="352.92" width="5.95" height="20.98" fill="#dcdcde"/>
<rect x="151.09" y="373.90" width="5.95" height="4.50" fill="#858585"/>
<rect x="151.09" y="378.40" width="5.95" height="6.10" fill="#4a8c87"/>
<rect x="151.09" y="384.50" width="5.95" height="1.10" fill="#080808"/>
<rect x="157.63" y="338.00" width="5.95" height="9.91" fill="#24245f"/>
<rect x="157.63" y="347.91" width="5.95" height="7.79" fill="#6b6baf"/>
<rect x="157.63" y="355.70" width="5.95" height="18.92" fill="#dcdcde"/>
<rect x="157.63" y="374.62" width="5.95" height="5.01" fill="#858585"/>
<rect x="157.63" y="379.63" width="5.95" height="5.01" fill="#4a8c87"/>
<rect x="157.63" y="384.64" width="5.95" height="0.96" fill="#080808"/>
<rect x="164.17" y="338.00" width="5.95" height="9.91" fill="#24245f"/>
<rect x="164.17" y="347.91" width="5.95" height="2.78" fill="#6b6baf"/>
<rect x="164.17" y="350.69" width="5.95" height="22.82" fill="#dcdcde"/>
<rect x="164.17" y="373.51" width="5.95" height="5.56" fill="#858585"/>
<rect x="164.17" y="379.08" width="5.95" height="5.56" fill="#4a8c87"/>
<rect x="164.17" y="384.64" width="5.95" height="0.96" fill="#080808"/>
<rect x="170.71" y="338.00" width="5.95" height="13.81" fill="#24245f"/>
<rect x="170.71" y="351.81" width="5.95" height="5.01" fill="#6b6baf"/>
<rect x="170.71" y="356.82" width="5.95" height="17.81" fill="#dcdcde"/>
<rect x="170.71" y="374.62" width="5.95" height="5.01" fill="#858585"/>
<rect x="170.71" y="379.63" width="5.95" height="5.01" fill="#4a8c87"/>
<rect x="170.71" y="384.64" width="5.95" height="0.96" fill="#080808"/>
<rect x="177.24" y="338.00" width="5.95" height="11.58" fill="#24245f"/>
<rect x="177.24" y="349.58" width="5.95" height="10.57" fill="#6b6baf"/>
<rect x="177.24" y="360.15" width="5.95" height="15.03" fill="#dcdcde"/>
<rect x="177.24" y="375.18" width="5.95" height="4.45" fill="#858585"/>
<rect x="177.24" y="379.63" width="5.95" height="4.45" fill="#4a8c87"/>
<rect x="177.24" y="384.08" width="5.95" height="1.52" fill="#080808"/>
<rect x="183.78" y="338.00" width="5.95" height="7.69" fill="#24245f"/>
<rect x="183.78" y="345.69" width="5.95" height="3.34" fill="#6b6baf"/>
<rect x="183.78" y="349.03" width="5.95" height="26.15" fill="#dcdcde"/>
<rect x="183.78" y="375.18" width="5.95" height="4.45" fill="#858585"/>
<rect x="183.78" y="379.63" width="5.95" height="5.01" fill="#4a8c87"/>
<rect x="183.78" y="384.64" width="5.95" height="0.96" fill="#080808"/>
<rect x="190.32" y="338.00" width="5.95" height="16.59" fill="#24245f"/>
<rect x="190.32" y="354.59" width="5.95" height="5.01" fill="#6b6baf"/>
<rect x="190.32" y="359.60" width="5.95" height="14.47" fill="#dcdcde"/>
<rect x="190.32" y="374.07" width="5.95" height="5.01" fill="#858585"/>
<rect x="190.32" y="379.08" width="5.95" height="5.56" fill="#4a8c87"/>
<rect x="190.32" y="384.64" width="5.95" height="0.96" fill="#080808"/>
<rect x="196.86" y="338.00" width="5.95" height="9.91" fill="#24245f"/>
<rect x="196.86" y="347.91" width="5.95" height="5.01" fill="#6b6baf"/>
<rect x="196.86" y="352.92" width="5.95" height="16.14" fill="#dcdcde"/>
<rect x="196.86" y="369.06" width="5.95" height="3.90" fill="#858585"/>
<rect x="196.86" y="372.95" width="5.95" height="10.02" fill="#4a8c87"/>
<rect x="196.86" y="382.97" width="5.95" height="2.63" fill="#080808"/>
<rect x="203.40" y="338.00" width="5.95" height="7.13" fill="#24245f"/>
<rect x="203.40" y="345.13" width="5.95" height="5.56" fill="#6b6baf"/>
<rect x="203.40" y="350.69" width="5.95" height="22.26" fill="#dcdcde"/>
<rect x="203.40" y="372.95" width="5.95" height="5.56" fill="#858585"/>
<rect x="203.40" y="378.52" width="5.95" height="6.12" fill="#4a8c87"/>
<rect x="203.40" y="384.64" width="5.95" height="0.96" fill="#080808"/>
<rect x="209.93" y="338.00" width="5.95" height="7.13" fill="#24245f"/>
<rect x="209.93" y="345.13" width="5.95" height="4.45" fill="#6b6baf"/>
<rect x="209.93" y="349.58" width="5.95" height="23.37" fill="#dcdcde"/>
<rect x="209.93" y="372.95" width="5.95" height="5.56" fill="#858585"/>
<rect x="209.93" y="378.52" width="5.95" height="6.12" fill="#4a8c87"/>
<rect x="209.93" y="384.64" width="5.95" height="0.96" fill="#080808"/>
<rect x="216.47" y="338.00" width="5.95" height="8.80" fill="#24245f"/>
<rect x="216.47" y="346.80" width="5.95" height="6.68" fill="#6b6baf"/>
<rect x="216.47" y="353.48" width="5.95" height="19.48" fill="#dcdcde"/>
<rect x="216.47" y="372.95" width="5.95" height="5.56" fill="#858585"/>
<rect x="216.47" y="378.52" width="5.95" height="6.12" fill="#4a8c87"/>
<rect x="216.47" y="384.64" width="5.95" height="0.96" fill="#080808"/>
<rect x="223.01" y="338.00" width="5.95" height="9.91" fill="#24245f"/>
<rect x="223.01" y="347.91" width="5.95" height="5.01" fill="#6b6baf"/>
<rect x="223.01" y="352.92" width="5.95" height="21.15" fill="#dcdcde"/>
<rect x="223.01" y="374.07" width="5.95" height="4.45" fill="#858585"/>
<rect x="223.01" y="378.52" width="5.95" height="6.12" fill="#4a8c87"/>
<rect x="223.01" y="384.64" width="5.95" height="0.96" fill="#080808"/>
<rect x="229.55" y="338.00" width="5.95" height="6.02" fill="#24245f"/>
<rect x="229.55" y="344.02" width="5.95" height="3.90" fill="#6b6baf"/>
<rect x="229.55" y="347.91" width="5.95" height="25.60" fill="#dcdcde"/>
<rect x="229.55" y="373.51" width="5.95" height="5.01" fill="#858585"/>
<rect x="229.55" y="378.52" width="5.95" height="6.12" fill="#4a8c87"/>
<rect x="229.55" y="384.64" width="5.95" height="0.96" fill="#080808"/>
<rect x="236.09" y="338.00" width="5.95" height="6.02" fill="#24245f"/>
<rect x="236.09" y="344.02" width="5.95" height="3.34" fill="#6b6baf"/>
<rect x="236.09" y="347.36" width="5.95" height="25.60" fill="#dcdcde"/>
<rect x="236.09" y="372.95" width="5.95" height="5.01" fill="#858585"/>
<rect x="236.09" y="377.96" width="5.95" height="6.12" fill="#4a8c87"/>
<rect x="236.09" y="384.08" width="5.95" height="1.52" fill="#080808"/>
<rect x="242.62" y="338.00" width="5.95" height="9.91" fill="#24245f"/>
<rect x="242.62" y="347.91" width="5.95" height="5.56" fill="#6b6baf"/>
<rect x="242.62" y="353.48" width="5.95" height="20.59" fill="#dcdcde"/>
<rect x="242.62" y="374.07" width="5.95" height="5.01" fill="#858585"/>
<rect x="242.62" y="379.08" width="5.95" height="5.56" fill="#4a8c87"/>
<rect x="242.62" y="384.64" width="5.95" height="0.96" fill="#080808"/>
<rect x="249.16" y="338.00" width="5.95" height="9.91" fill="#24245f"/>
<rect x="249.16" y="347.91" width="5.95" height="3.90" fill="#6b6baf"/>
<rect x="249.16" y="351.81" width="5.95" height="25.04" fill="#dcdcde"/>
<rect x="249.16" y="376.85" width="5.95" height="3.90" fill="#858585"/>
<rect x="249.16" y="380.74" width="5.95" height="3.90" fill="#4a8c87"/>
<rect x="249.16" y="384.64" width="5.95" height="0.96" fill="#080808"/>
<rect x="255.70" y="338.00" width="5.95" height="8.80" fill="#24245f"/>
<rect x="255.70" y="346.80" width="5.95" height="3.90" fill="#6b6baf"/>
<rect x="255.70" y="350.69" width="5.95" height="23.37" fill="#dcdcde"/>
<rect x="255.70" y="374.07" width="5.95" height="3.90" fill="#858585"/>
<rect x="255.70" y="377.96" width="5.95" height="5.01" fill="#4a8c87"/>
<rect x="255.70" y="382.97" width="5.95" height="2.63" fill="#080808"/>
<rect x="262.24" y="338.00" width="5.95" height="7.69" fill="#24245f"/>
<rect x="262.24" y="345.69" width="5.95" height="2.78" fill="#6b6baf"/>
<rect x="262.24" y="348.47" width="5.95" height="24.49" fill="#dcdcde"/>
<rect x="262.24" y="372.95" width="5.95" height="5.56" fill="#858585"/>
<rect x="262.24" y="378.52" width="5.95" height="6.12" fill="#4a8c87"/>
<rect x="262.24" y="384.64" width="5.95" height="0.96" fill="#080808"/>
<rect x="268.78" y="338.00" width="5.95" height="9.91" fill="#24245f"/>
<rect x="268.78" y="347.91" width="5.95" height="3.90" fill="#6b6baf"/>
<rect x="268.78" y="351.81" width="5.95" height="23.37" fill="#dcdcde"/>
<rect x="268.78" y="375.18" width="5.95" height="4.45" fill="#858585"/>
<rect x="268.78" y="379.63" width="5.95" height="5.01" fill="#4a8c87"/>
<rect x="268.78" y="384.64" width="5.95" height="0.96" fill="#080808"/>
<rect x="275.31" y="338.00" width="5.95" height="12.14" fill="#24245f"/>
<rect x="275.31" y="350.14" width="5.95" height="3.34" fill="#6b6baf"/>
<rect x="275.31" y="353.48" width="5.95" height="19.48" fill="#dcdcde"/>
<rect x="275.31" y="372.95" width="5.95" height="5.56" fill="#858585"/>
<rect x="275.31" y="378.52" width="5.95" height="5.01" fill="#4a8c87"/>
<rect x="275.31" y="383.53" width="5.95" height="2.07" fill="#080808"/>
<rect x="281.85" y="338.00" width="5.95" height="11.58" fill="#24245f"/>
<rect x="281.85" y="349.58" width="5.95" height="2.23" fill="#6b6baf"/>
<rect x="281.85" y="351.81" width="5.95" height="21.15" fill="#dcdcde"/>
<rect x="281.85" y="372.95" width="5.95" height="5.56" fill="#858585"/>
<rect x="281.85" y="378.52" width="5.95" height="6.12" fill="#4a8c87"/>
<rect x="281.85" y="384.64" width="5.95" height="0.96" fill="#080808"/>
<rect x="288.39" y="338.00" width="5.95" height="12.14" fill="#24245f"/>
<rect x="288.39" y="350.14" width="5.95" height="4.45" fill="#6b6baf"/>
<rect x="288.39" y="354.59" width="5.95" height="20.03" fill="#dcdcde"/>
<rect x="288.39" y="374.62" width="5.95" height="4.45" fill="#858585"/>
<rect x="288.39" y="379.08" width="5.95" height="5.56" fill="#4a8c87"/>
<rect x="288.39" y="384.64" width="5.95" height="0.96" fill="#080808"/>
<rect x="294.93" y="338.00" width="5.95" height="8.80" fill="#24245f"/>
<rect x="294.93" y="346.80" width="5.95" height="3.90" fill="#6b6baf"/>
<rect x="294.93" y="350.69" width="5.95" height="23.37" fill="#dcdcde"/>
<rect x="294.93" y="374.07" width="5.95" height="5.01" fill="#858585"/>
<rect x="294.93" y="379.08" width="5.95" height="5.56" fill="#4a8c87"/>
<rect x="294.93" y="384.64" width="5.95" height="0.96" fill="#080808"/>
<rect x="301.47" y="338.00" width="5.95" height="8.80" fill="#24245f"/>
<rect x="301.47" y="346.80" width="5.95" height="3.90" fill="#6b6baf"/>
<rect x="301.47" y="350.69" width="5.95" height="26.15" fill="#dcdcde"/>
<rect x="301.47" y="376.85" width="5.95" height="3.90" fill="#858585"/>
<rect x="301.47" y="380.74" width="5.95" height="3.90" fill="#4a8c87"/>
<rect x="301.47" y="384.64" width="5.95" height="0.96" fill="#080808"/>
<rect x="308.00" y="338.00" width="5.95" height="7.13" fill="#24245f"/>
<rect x="308.00" y="345.13" width="5.95" height="4.45" fill="#6b6baf"/>
<rect x="308.00" y="349.58" width="5.95" height="22.82" fill="#dcdcde"/>
<rect x="308.00" y="372.40" width="5.95" height="5.56" fill="#858585"/>
<rect x="308.00" y="377.96" width="5.95" height="6.12" fill="#4a8c87"/>
<rect x="308.00" y="384.08" width="5.95" height="1.52" fill="#080808"/>
<rect x="314.54" y="338.00" width="5.95" height="9.91" fill="#24245f"/>
<rect x="314.54" y="347.91" width="5.95" height="4.45" fill="#6b6baf"/>
<rect x="314.54" y="352.36" width="5.95" height="20.03" fill="#dcdcde"/>
<rect x="314.54" y="372.40" width="5.95" height="5.56" fill="#858585"/>
<rect x="314.54" y="377.96" width="5.95" height="6.12" fill="#4a8c87"/>
<rect x="314.54" y="384.08" width="5.95" height="1.52" fill="#080808"/>
<rect x="321.08" y="338.00" width="5.95" height="9.36" fill="#24245f"/>
<rect x="321.08" y="347.36" width="5.95" height="2.23" fill="#6b6baf"/>
<rect x="321.08" y="349.58" width="5.95" height="27.27" fill="#dcdcde"/>
<rect x="321.08" y="376.85" width="5.95" height="3.90" fill="#858585"/>
<rect x="321.08" y="380.74" width="5.95" height="3.90" fill="#4a8c87"/>
<rect x="321.08" y="384.64" width="5.95" height="0.96" fill="#080808"/>
<rect x="327.62" y="338.00" width="5.95" height="7.13" fill="#24245f"/>
<rect x="327.62" y="345.13" width="5.95" height="3.90" fill="#6b6baf"/>
<rect x="327.62" y="349.03" width="5.95" height="24.49" fill="#dcdcde"/>
<rect x="327.62" y="373.51" width="5.95" height="5.01" fill="#858585"/>
<rect x="327.62" y="378.52" width="5.95" height="6.12" fill="#4a8c87"/>
<rect x="327.62" y="384.64" width="5.95" height="0.96" fill="#080808"/>
<rect x="334.16" y="338.00" width="5.95" height="6.57" fill="#24245f"/>
<rect x="334.16" y="344.57" width="5.95" height="3.90" fill="#6b6baf"/>
<rect x="334.16" y="348.47" width="5.95" height="25.04" fill="#dcdcde"/>
<rect x="334.16" y="373.51" width="5.95" height="5.01" fill="#858585"/>
<rect x="334.16" y="378.52" width="5.95" height="6.12" fill="#4a8c87"/>
<rect x="334.16" y="384.64" width="5.95" height="0.96" fill="#080808"/>
<rect x="340.69" y="338.00" width="5.95" height="9.91" fill="#24245f"/>
<rect x="340.69" y="347.91" width="5.95" height="2.23" fill="#6b6baf"/>
<rect x="340.69" y="350.14" width="5.95" height="21.15" fill="#dcdcde"/>
<rect x="340.69" y="371.28" width="5.95" height="6.68" fill="#858585"/>
<rect x="340.69" y="377.96" width="5.95" height="6.68" fill="#4a8c87"/>
<rect x="340.69" y="384.64" width="5.95" height="0.96" fill="#080808"/>
<rect x="347.23" y="338.00" width="5.95" height="12.69" fill="#24245f"/>
<rect x="347.23" y="350.69" width="5.95" height="5.01" fill="#6b6baf"/>
<rect x="347.23" y="355.70" width="5.95" height="14.47" fill="#dcdcde"/>
<rect x="347.23" y="370.17" width="5.95" height="7.23" fill="#858585"/>
<rect x="347.23" y="377.41" width="5.95" height="6.68" fill="#4a8c87"/>
<rect x="347.23" y="384.08" width="5.95" height="1.52" fill="#080808"/>
<rect x="353.77" y="338.00" width="5.95" height="7.13" fill="#24245f"/>
<rect x="353.77" y="345.13" width="5.95" height="4.45" fill="#6b6baf"/>
<rect x="353.77" y="349.58" width="5.95" height="23.93" fill="#dcdcde"/>
<rect x="353.77" y="373.51" width="5.95" height="5.01" fill="#858585"/>
<rect x="353.77" y="378.52" width="5.95" height="5.56" fill="#4a8c87"/>
<rect x="353.77" y="384.08" width="5.95" height="1.52" fill="#080808"/>
<rect x="360.31" y="338.00" width="5.95" height="10.47" fill="#24245f"/>
<rect x="360.31" y="348.47" width="5.95" height="7.23" fill="#6b6baf"/>
<rect x="360.31" y="355.70" width="5.95" height="18.36" fill="#dcdcde"/>
<rect x="360.31" y="374.07" width="5.95" height="5.01" fill="#858585"/>
<rect x="360.31" y="379.08" width="5.95" height="5.01" fill="#4a8c87"/>
<rect x="360.31" y="384.08" width="5.95" height="1.52" fill="#080808"/>
<rect x="366.85" y="338.00" width="5.95" height="10.47" fill="#24245f"/>
<rect x="366.85" y="348.47" width="5.95" height="3.34" fill="#6b6baf"/>
<rect x="366.85" y="351.81" width="5.95" height="18.92" fill="#dcdcde"/>
<rect x="366.85" y="370.73" width="5.95" height="7.23" fill="#858585"/>
<rect x="366.85" y="377.96" width="5.95" height="5.01" fill="#4a8c87"/>
<rect x="366.85" y="382.97" width="5.95" height="2.63" fill="#080808"/>
<rect x="373.38" y="338.00" width="5.95" height="8.80" fill="#24245f"/>
<rect x="373.38" y="346.80" width="5.95" height="3.90" fill="#6b6baf"/>
<rect x="373.38" y="350.69" width="5.95" height="24.49" fill="#dcdcde"/>
<rect x="373.38" y="375.18" width="5.95" height="4.45" fill="#858585"/>
<rect x="373.38" y="379.63" width="5.95" height="5.01" fill="#4a8c87"/>
<rect x="373.38" y="384.64" width="5.95" height="0.96" fill="#080808"/>
<rect x="379.92" y="338.00" width="5.95" height="12.69" fill="#24245f"/>
<rect x="379.92" y="350.69" width="5.95" height="5.01" fill="#6b6baf"/>
<rect x="379.92" y="355.70" width="5.95" height="15.03" fill="#dcdcde"/>
<rect x="379.92" y="370.73" width="5.95" height="7.23" fill="#858585"/>
<rect x="379.92" y="377.96" width="5.95" height="6.68" fill="#4a8c87"/>
<rect x="379.92" y="384.64" width="5.95" height="0.96" fill="#080808"/>
<rect x="386.46" y="338.00" width="5.95" height="10.47" fill="#24245f"/>
<rect x="386.46" y="348.47" width="5.95" height="3.34" fill="#6b6baf"/>
<rect x="386.46" y="351.81" width="5.95" height="20.59" fill="#dcdcde"/>
<rect x="386.46" y="372.40" width="5.95" height="6.12" fill="#858585"/>
<rect x="386.46" y="378.52" width="5.95" height="6.12" fill="#4a8c87"/>
<rect x="386.46" y="384.64" width="5.95" height="0.96" fill="#080808"/>
<rect x="393.00" y="338.00" width="5.95" height="12.14" fill="#24245f"/>
<rect x="393.00" y="350.14" width="5.95" height="6.68" fill="#6b6baf"/>
<rect x="393.00" y="356.82" width="5.95" height="15.03" fill="#dcdcde"/>
<rect x="393.00" y="371.84" width="5.95" height="6.12" fill="#858585"/>
<rect x="393.00" y="377.96" width="5.95" height="6.68" fill="#4a8c87"/>
<rect x="393.00" y="384.64" width="5.95" height="0.96" fill="#080808"/>
<rect x="399.54" y="338.00" width="5.95" height="11.58" fill="#24245f"/>
<rect x="399.54" y="349.58" width="5.95" height="4.45" fill="#6b6baf"/>
<rect x="399.54" y="354.03" width="5.95" height="17.81" fill="#dcdcde"/>
<rect x="399.54" y="371.84" width="5.95" height="6.12" fill="#858585"/>
<rect x="399.54" y="377.96" width="5.95" height="6.68" fill="#4a8c87"/>
<rect x="399.54" y="384.64" width="5.95" height="0.96" fill="#080808"/>
<rect x="406.07" y="338.00" width="5.95" height="10.47" fill="#24245f"/>
<rect x="406.07" y="348.47" width="5.95" height="3.34" fill="#6b6baf"/>
<rect x="406.07" y="351.81" width="5.95" height="22.26" fill="#dcdcde"/>
<rect x="406.07" y="374.07" width="5.95" height="4.45" fill="#858585"/>
<rect x="406.07" y="378.52" width="5.95" height="6.12" fill="#4a8c87"/>
<rect x="406.07" y="384.64" width="5.95" height="0.96" fill="#080808"/>
<rect x="412.61" y="338.00" width="5.95" height="16.03" fill="#24245f"/>
<rect x="412.61" y="354.03" width="5.95" height="7.79" fill="#6b6baf"/>
<rect x="412.61" y="361.82" width="5.95" height="11.69" fill="#dcdcde"/>
<rect x="412.61" y="373.51" width="5.95" height="5.01" fill="#858585"/>
<rect x="412.61" y="378.52" width="5.95" height="6.12" fill="#4a8c87"/>
<rect x="412.61" y="384.64" width="5.95" height="0.96" fill="#080808"/>
<rect x="419.15" y="338.00" width="5.95" height="8.79" fill="#24245f"/>
<rect x="419.15" y="346.79" width="5.95" height="4.07" fill="#6b6baf"/>
<rect x="419.15" y="350.86" width="5.95" height="23.84" fill="#dcdcde"/>
<rect x="419.15" y="374.70" width="5.95" height="5.23" fill="#858585"/>
<rect x="419.15" y="379.93" width="5.95" height="4.65" fill="#4a8c87"/>
<rect x="419.15" y="384.58" width="5.95" height="1.02" fill="#080808"/>
<rect x="425.69" y="338.00" width="5.95" height="8.79" fill="#24245f"/>
<rect x="425.69" y="346.79" width="5.95" height="5.81" fill="#6b6baf"/>
<rect x="425.69" y="352.60" width="5.95" height="22.09" fill="#dcdcde"/>
<rect x="425.69" y="374.70" width="5.95" height="5.23" fill="#858585"/>
<rect x="425.69" y="379.93" width="5.95" height="4.07" fill="#4a8c87"/>
<rect x="425.69" y="384.00" width="5.95" height="1.60" fill="#080808"/>
<rect x="432.23" y="338.00" width="5.95" height="15.77" fill="#24245f"/>
<rect x="432.23" y="353.77" width="5.95" height="5.23" fill="#6b6baf"/>
<rect x="432.23" y="359.00" width="5.95" height="12.21" fill="#dcdcde"/>
<rect x="432.23" y="371.21" width="5.95" height="8.72" fill="#858585"/>
<rect x="432.23" y="379.93" width="5.95" height="4.07" fill="#4a8c87"/>
<rect x="432.23" y="384.00" width="5.95" height="1.60" fill="#080808"/>
<rect x="438.76" y="338.00" width="5.95" height="12.28" fill="#24245f"/>
<rect x="438.76" y="350.28" width="5.95" height="3.49" fill="#6b6baf"/>
<rect x="438.76" y="353.77" width="5.95" height="14.53" fill="#dcdcde"/>
<rect x="438.76" y="368.30" width="5.95" height="11.05" fill="#858585"/>
<rect x="438.76" y="379.35" width="5.95" height="5.23" fill="#4a8c87"/>
<rect x="438.76" y="384.58" width="5.95" height="1.02" fill="#080808"/>
<rect x="445.30" y="338.00" width="5.95" height="8.79" fill="#24245f"/>
<rect x="445.30" y="346.79" width="5.95" height="2.91" fill="#6b6baf"/>
<rect x="445.30" y="349.70" width="5.95" height="25.00" fill="#dcdcde"/>
<rect x="445.30" y="374.70" width="5.95" height="5.23" fill="#858585"/>
<rect x="445.30" y="379.93" width="5.95" height="4.07" fill="#4a8c87"/>
<rect x="445.30" y="384.00" width="5.95" height="1.60" fill="#080808"/>
<rect x="451.84" y="338.00" width="5.95" height="16.93" fill="#24245f"/>
<rect x="451.84" y="354.93" width="5.95" height="2.33" fill="#6b6baf"/>
<rect x="451.84" y="357.26" width="5.95" height="14.53" fill="#dcdcde"/>
<rect x="451.84" y="371.79" width="5.95" height="7.56" fill="#858585"/>
<rect x="451.84" y="379.35" width="5.95" height="5.23" fill="#4a8c87"/>
<rect x="451.84" y="384.58" width="5.95" height="1.02" fill="#080808"/>
<rect x="458.38" y="338.00" width="5.95" height="11.12" fill="#24245f"/>
<rect x="458.38" y="349.12" width="5.95" height="3.49" fill="#6b6baf"/>
<rect x="458.38" y="352.60" width="5.95" height="22.09" fill="#dcdcde"/>
<rect x="458.38" y="374.70" width="5.95" height="5.23" fill="#858585"/>
<rect x="458.38" y="379.93" width="5.95" height="4.65" fill="#4a8c87"/>
<rect x="458.38" y="384.58" width="5.95" height="1.02" fill="#080808"/>
<rect x="464.92" y="338.00" width="5.95" height="11.70" fill="#24245f"/>
<rect x="464.92" y="349.70" width="5.95" height="7.56" fill="#6b6baf"/>
<rect x="464.92" y="357.26" width="5.95" height="16.28" fill="#dcdcde"/>
<rect x="464.92" y="373.53" width="5.95" height="5.81" fill="#858585"/>
<rect x="464.92" y="379.35" width="5.95" height="4.65" fill="#4a8c87"/>
<rect x="464.92" y="384.00" width="5.95" height="1.60" fill="#080808"/>
<rect x="471.45" y="338.00" width="5.95" height="9.95" fill="#24245f"/>
<rect x="471.45" y="347.95" width="5.95" height="8.14" fill="#6b6baf"/>
<rect x="471.45" y="356.09" width="5.95" height="13.95" fill="#dcdcde"/>
<rect x="471.45" y="370.05" width="5.95" height="8.14" fill="#858585"/>
<rect x="471.45" y="378.19" width="5.95" height="4.65" fill="#4a8c87"/>
<rect x="471.45" y="382.84" width="5.95" height="2.76" fill="#080808"/>
<rect x="477.99" y="338.00" width="5.95" height="12.86" fill="#24245f"/>
<rect x="477.99" y="350.86" width="5.95" height="8.14" fill="#6b6baf"/>
<rect x="477.99" y="359.00" width="5.95" height="18.02" fill="#dcdcde"/>
<rect x="477.99" y="377.02" width="5.95" height="3.49" fill="#858585"/>
<rect x="477.99" y="380.51" width="5.95" height="4.07" fill="#4a8c87"/>
<rect x="477.99" y="384.58" width="5.95" height="1.02" fill="#080808"/>
<line x1="91.4" y1="337.8" x2="91.4" y2="386.1" stroke="#333" stroke-width="0.7"/>
<line x1="88.3" y1="337.9" x2="91.4" y2="337.9" stroke="#333" stroke-width="0.7"/>
<text x="84.00" y="341.20" font-size="9.2" text-anchor="end" font-weight="normal" font-style="normal" fill="#1a1a1a"  stroke="#1a1a1a" stroke-width="0.12">100</text>
<line x1="88.3" y1="361.8" x2="91.4" y2="361.8" stroke="#333" stroke-width="0.7"/>
<text x="84.00" y="365.10" font-size="9.2" text-anchor="end" font-weight="normal" font-style="normal" fill="#1a1a1a"  stroke="#1a1a1a" stroke-width="0.12">50</text>
<line x1="88.3" y1="385.8" x2="91.4" y2="385.8" stroke="#333" stroke-width="0.7"/>
<text x="84.00" y="389.10" font-size="9.2" text-anchor="end" font-weight="normal" font-style="normal" fill="#1a1a1a"  stroke="#1a1a1a" stroke-width="0.12">0</text>
<text transform="translate(52.3,361.5) rotate(-90)" font-size="10" text-anchor="middle" fill="#1a1a1a" stroke="#1a1a1a" stroke-width="0.12">Relative</text>
<text transform="translate(64.3,361.5) rotate(-90)" font-size="10" text-anchor="middle" fill="#1a1a1a" stroke="#1a1a1a" stroke-width="0.12">frequency</text>
<rect x="94.0" y="395.40" width="7.5" height="3.5" fill="#24245f"/>
<text x="105.60" y="400.20" font-size="8.5" text-anchor="start" font-weight="normal" font-style="normal" fill="#1a1a1a"  stroke="#1a1a1a" stroke-width="0.12">G:C-&gt;A:T</text>
<rect x="94.0" y="405.60" width="7.5" height="3.5" fill="#6b6baf"/>
<text x="105.60" y="410.40" font-size="8.5" text-anchor="start" font-weight="normal" font-style="normal" fill="#1a1a1a"  stroke="#1a1a1a" stroke-width="0.12">A:T-&gt;G:C</text>
<rect x="94.0" y="415.80" width="7.5" height="3.5" fill="#d0d0d0"/>
<text x="105.60" y="420.60" font-size="8.5" text-anchor="start" font-weight="normal" font-style="normal" fill="#1a1a1a"  stroke="#1a1a1a" stroke-width="0.12">C:G-&gt;A:T</text>
<rect x="163.4" y="395.40" width="7.3" height="3.5" fill="#858585"/>
<text x="174.80" y="400.20" font-size="8.5" text-anchor="start" font-weight="normal" font-style="normal" fill="#1a1a1a"  stroke="#1a1a1a" stroke-width="0.12">C:G-&gt;G:C</text>
<rect x="163.4" y="405.60" width="7.3" height="3.5" fill="#4a8c87"/>
<text x="174.80" y="410.40" font-size="8.5" text-anchor="start" font-weight="normal" font-style="normal" fill="#1a1a1a"  stroke="#1a1a1a" stroke-width="0.12">A:T-&gt;T:A</text>
<rect x="163.4" y="415.80" width="7.3" height="3.5" fill="#080808"/>
<text x="174.80" y="420.60" font-size="8.5" text-anchor="start" font-weight="normal" font-style="normal" fill="#1a1a1a"  stroke="#1a1a1a" stroke-width="0.12">A:T-&gt;C:G</text>
<rect x="227.7" y="391.0" width="4.3" height="10.5" fill="#787c82"/>
<rect x="227.7" y="401.5" width="4.3" height="10.4" fill="#3a7380"/>
<rect x="227.7" y="411.9" width="4.3" height="11.0" fill="#de5a2a"/>
<text x="236.30" y="399.10" font-size="8.5" text-anchor="start" font-weight="normal" font-style="normal" fill="#1a1a1a"  stroke="#1a1a1a" stroke-width="0.12">Missense</text>
<text x="236.30" y="410.00" font-size="8.5" text-anchor="start" font-weight="normal" font-style="normal" fill="#1a1a1a"  stroke="#1a1a1a" stroke-width="0.12">Non-sense</text>
<text x="236.30" y="420.60" font-size="8.5" text-anchor="start" font-weight="normal" font-style="normal" fill="#1a1a1a"  stroke="#1a1a1a" stroke-width="0.12">Genomic translocation</text>
<rect x="284.8" y="391.0" width="4.4" height="10.5" fill="#e8aa2c"/>
<rect x="284.8" y="401.5" width="4.4" height="10.5" fill="#671d62"/>
<text x="293.40" y="399.10" font-size="8.5" text-anchor="start" font-weight="normal" font-style="normal" fill="#1a1a1a"  stroke="#1a1a1a" stroke-width="0.12">Indel</text>
<text x="293.40" y="410.00" font-size="8.5" text-anchor="start" font-weight="normal" font-style="normal" fill="#1a1a1a"  stroke="#1a1a1a" stroke-width="0.12">Splice</text>
<rect x="326.5" y="390.6" width="4.4" height="10.9" fill="#aa1f35"/>
<rect x="326.5" y="401.5" width="4.4" height="11.1" fill="#4843a2"/>
<text x="334.80" y="399.30" font-size="8.5" text-anchor="start" font-weight="normal" font-style="normal" fill="#1a1a1a"  stroke="#1a1a1a" stroke-width="0.12">Amplification</text>
<text x="334.80" y="409.60" font-size="8.5" text-anchor="start" font-weight="normal" font-style="normal" fill="#1a1a1a"  stroke="#1a1a1a" stroke-width="0.12">Deletion</text>
<rect x="392.5" y="391.00" width="4.5" height="7.0" fill="#6e98d4"/>
<text x="401.60" y="397.60" font-size="8.5" text-anchor="start" font-weight="normal" font-style="normal" fill="#1a1a1a"  stroke="#1a1a1a" stroke-width="0.12">LCNEC</text>
<rect x="392.5" y="401.50" width="4.5" height="7.0" fill="#29296e"/>
<text x="401.60" y="408.10" font-size="8.5" text-anchor="start" font-weight="normal" font-style="normal" fill="#1a1a1a"  stroke="#1a1a1a" stroke-width="0.12">SCLC combined LCNEC</text>
<rect x="392.5" y="412.00" width="4.5" height="7.0" fill="#478d47"/>
<text x="401.60" y="418.60" font-size="8.5" text-anchor="start" font-weight="normal" font-style="normal" fill="#1a1a1a"  stroke="#1a1a1a" stroke-width="0.12">LCNEC combined SqCC</text>
<rect x="392.5" y="422.50" width="4.5" height="7.0" fill="#060606"/>
<text x="401.60" y="429.10" font-size="8.5" text-anchor="start" font-weight="normal" font-style="normal" fill="#1a1a1a"  stroke="#1a1a1a" stroke-width="0.12">LCNEC combined ADC</text>
<rect x="64.40" y="455.1" width="69.40" height="18.70" fill="#d0d0d0"/>
<rect x="64.40" y="455.1" width="69.40" height="167.30" fill="none" stroke="#6b6b6b" stroke-width="0.8"/>
<text x="100.60" y="467.50" font-size="10.2" text-anchor="middle" font-weight="normal" font-style="italic" fill="#1a1a1a"  stroke="#1a1a1a" stroke-width="0.12">RB1</text>
<line x1="62.80" y1="622.40" x2="64.40" y2="622.40" stroke="#6b6b6b" stroke-width="0.7"/>
<text x="58.50" y="625.50" font-size="9.6" text-anchor="end" font-weight="normal" font-style="normal" fill="#1a1a1a"  stroke="#1a1a1a" stroke-width="0.12">0.0</text>
<line x1="62.80" y1="594.24" x2="64.40" y2="594.24" stroke="#6b6b6b" stroke-width="0.7"/>
<text x="58.50" y="597.34" font-size="9.6" text-anchor="end" font-weight="normal" font-style="normal" fill="#1a1a1a"  stroke="#1a1a1a" stroke-width="0.12">0.2</text>
<line x1="62.80" y1="566.08" x2="64.40" y2="566.08" stroke="#6b6b6b" stroke-width="0.7"/>
<text x="58.50" y="569.18" font-size="9.6" text-anchor="end" font-weight="normal" font-style="normal" fill="#1a1a1a"  stroke="#1a1a1a" stroke-width="0.12">0.4</text>
<line x1="62.80" y1="537.92" x2="64.40" y2="537.92" stroke="#6b6b6b" stroke-width="0.7"/>
<text x="58.50" y="541.02" font-size="9.6" text-anchor="end" font-weight="normal" font-style="normal" fill="#1a1a1a"  stroke="#1a1a1a" stroke-width="0.12">0.6</text>
<line x1="62.80" y1="509.76" x2="64.40" y2="509.76" stroke="#6b6b6b" stroke-width="0.7"/>
<text x="58.50" y="512.86" font-size="9.6" text-anchor="end" font-weight="normal" font-style="normal" fill="#1a1a1a"  stroke="#1a1a1a" stroke-width="0.12">0.8</text>
<line x1="62.80" y1="481.60" x2="64.40" y2="481.60" stroke="#6b6b6b" stroke-width="0.7"/>
<text x="58.50" y="484.70" font-size="9.6" text-anchor="end" font-weight="normal" font-style="normal" fill="#1a1a1a"  stroke="#1a1a1a" stroke-width="0.12">1.0</text>
<line x1="81.70" y1="622.4" x2="81.70" y2="624.40" stroke="#6b6b6b" stroke-width="0.7"/>
<line x1="116.60" y1="622.4" x2="116.60" y2="624.40" stroke="#6b6b6b" stroke-width="0.7"/>
<text x="98.00" y="639.2" font-size="9.6" text-anchor="middle" fill="#1a1a1a" stroke="#1a1a1a" stroke-width="0.12"><tspan font-style="italic">n</tspan><tspan dx="0.9">=</tspan><tspan dx="1.2">16</tspan></text>
<rect x="157.50" y="455.1" width="69.40" height="18.70" fill="#d0d0d0"/>
<rect x="157.50" y="455.1" width="69.40" height="166.70" fill="none" stroke="#6b6b6b" stroke-width="0.8"/>
<text x="192.80" y="467.50" font-size="10.2" text-anchor="middle" font-weight="normal" font-style="italic" fill="#1a1a1a"  stroke="#1a1a1a" stroke-width="0.12">STK11</text>
<line x1="155.90" y1="621.80" x2="157.50" y2="621.80" stroke="#6b6b6b" stroke-width="0.7"/>
<text x="151.60" y="624.90" font-size="9.6" text-anchor="end" font-weight="normal" font-style="normal" fill="#1a1a1a"  stroke="#1a1a1a" stroke-width="0.12">0.0</text>
<line x1="155.90" y1="594.22" x2="157.50" y2="594.22" stroke="#6b6b6b" stroke-width="0.7"/>
<text x="151.60" y="597.32" font-size="9.6" text-anchor="end" font-weight="normal" font-style="normal" fill="#1a1a1a"  stroke="#1a1a1a" stroke-width="0.12">0.2</text>
<line x1="155.90" y1="566.64" x2="157.50" y2="566.64" stroke="#6b6b6b" stroke-width="0.7"/>
<text x="151.60" y="569.74" font-size="9.6" text-anchor="end" font-weight="normal" font-style="normal" fill="#1a1a1a"  stroke="#1a1a1a" stroke-width="0.12">0.4</text>
<line x1="155.90" y1="539.06" x2="157.50" y2="539.06" stroke="#6b6b6b" stroke-width="0.7"/>
<text x="151.60" y="542.16" font-size="9.6" text-anchor="end" font-weight="normal" font-style="normal" fill="#1a1a1a"  stroke="#1a1a1a" stroke-width="0.12">0.6</text>
<line x1="155.90" y1="511.48" x2="157.50" y2="511.48" stroke="#6b6b6b" stroke-width="0.7"/>
<text x="151.60" y="514.58" font-size="9.6" text-anchor="end" font-weight="normal" font-style="normal" fill="#1a1a1a"  stroke="#1a1a1a" stroke-width="0.12">0.8</text>
<line x1="155.90" y1="483.90" x2="157.50" y2="483.90" stroke="#6b6b6b" stroke-width="0.7"/>
<text x="151.60" y="487.00" font-size="9.6" text-anchor="end" font-weight="normal" font-style="normal" fill="#1a1a1a"  stroke="#1a1a1a" stroke-width="0.12">1.0</text>
<line x1="174.40" y1="621.8" x2="174.40" y2="623.80" stroke="#6b6b6b" stroke-width="0.7"/>
<line x1="208.90" y1="621.8" x2="208.90" y2="623.80" stroke="#6b6b6b" stroke-width="0.7"/>
<text x="191.10" y="639.2" font-size="9.6" text-anchor="middle" fill="#1a1a1a" stroke="#1a1a1a" stroke-width="0.12"><tspan font-style="italic">n</tspan><tspan dx="0.9">=</tspan><tspan dx="1.2">17</tspan></text>
<rect x="251.60" y="455.1" width="69.40" height="18.70" fill="#d0d0d0"/>
<rect x="251.60" y="455.1" width="69.40" height="166.10" fill="none" stroke="#6b6b6b" stroke-width="0.8"/>
<text x="285.70" y="467.50" font-size="10.2" text-anchor="middle" font-weight="normal" font-style="italic" fill="#1a1a1a"  stroke="#1a1a1a" stroke-width="0.12">KEAP1</text>
<line x1="250.00" y1="621.20" x2="251.60" y2="621.20" stroke="#6b6b6b" stroke-width="0.7"/>
<text x="245.70" y="624.30" font-size="9.6" text-anchor="end" font-weight="normal" font-style="normal" fill="#1a1a1a"  stroke="#1a1a1a" stroke-width="0.12">0.0</text>
<line x1="250.00" y1="593.64" x2="251.60" y2="593.64" stroke="#6b6b6b" stroke-width="0.7"/>
<text x="245.70" y="596.74" font-size="9.6" text-anchor="end" font-weight="normal" font-style="normal" fill="#1a1a1a"  stroke="#1a1a1a" stroke-width="0.12">0.2</text>
<line x1="250.00" y1="566.08" x2="251.60" y2="566.08" stroke="#6b6b6b" stroke-width="0.7"/>
<text x="245.70" y="569.18" font-size="9.6" text-anchor="end" font-weight="normal" font-style="normal" fill="#1a1a1a"  stroke="#1a1a1a" stroke-width="0.12">0.4</text>
<line x1="250.00" y1="538.52" x2="251.60" y2="538.52" stroke="#6b6b6b" stroke-width="0.7"/>
<text x="245.70" y="541.62" font-size="9.6" text-anchor="end" font-weight="normal" font-style="normal" fill="#1a1a1a"  stroke="#1a1a1a" stroke-width="0.12">0.6</text>
<line x1="250.00" y1="510.96" x2="251.60" y2="510.96" stroke="#6b6b6b" stroke-width="0.7"/>
<text x="245.70" y="514.06" font-size="9.6" text-anchor="end" font-weight="normal" font-style="normal" fill="#1a1a1a"  stroke="#1a1a1a" stroke-width="0.12">0.8</text>
<line x1="250.00" y1="483.40" x2="251.60" y2="483.40" stroke="#6b6b6b" stroke-width="0.7"/>
<text x="245.70" y="486.50" font-size="9.6" text-anchor="end" font-weight="normal" font-style="normal" fill="#1a1a1a"  stroke="#1a1a1a" stroke-width="0.12">1.0</text>
<line x1="268.40" y1="621.2" x2="268.40" y2="623.20" stroke="#6b6b6b" stroke-width="0.7"/>
<line x1="302.60" y1="621.2" x2="302.60" y2="623.20" stroke="#6b6b6b" stroke-width="0.7"/>
<text x="285.20" y="639.2" font-size="9.6" text-anchor="middle" fill="#1a1a1a" stroke="#1a1a1a" stroke-width="0.12"><tspan font-style="italic">n</tspan><tspan dx="0.9">=</tspan><tspan dx="1.2">11</tspan></text>
<rect x="345.00" y="455.1" width="69.40" height="18.70" fill="#d0d0d0"/>
<rect x="345.00" y="455.1" width="69.40" height="166.10" fill="none" stroke="#6b6b6b" stroke-width="0.8"/>
<text x="380.20" y="467.50" font-size="10.2" text-anchor="middle" font-weight="normal" font-style="italic" fill="#1a1a1a"  stroke="#1a1a1a" stroke-width="0.12">RAS genes</text>
<line x1="343.40" y1="621.20" x2="345.00" y2="621.20" stroke="#6b6b6b" stroke-width="0.7"/>
<text x="339.10" y="624.30" font-size="9.6" text-anchor="end" font-weight="normal" font-style="normal" fill="#1a1a1a"  stroke="#1a1a1a" stroke-width="0.12">0.0</text>
<line x1="343.40" y1="593.56" x2="345.00" y2="593.56" stroke="#6b6b6b" stroke-width="0.7"/>
<text x="339.10" y="596.66" font-size="9.6" text-anchor="end" font-weight="normal" font-style="normal" fill="#1a1a1a"  stroke="#1a1a1a" stroke-width="0.12">0.2</text>
<line x1="343.40" y1="565.92" x2="345.00" y2="565.92" stroke="#6b6b6b" stroke-width="0.7"/>
<text x="339.10" y="569.02" font-size="9.6" text-anchor="end" font-weight="normal" font-style="normal" fill="#1a1a1a"  stroke="#1a1a1a" stroke-width="0.12">0.4</text>
<line x1="343.40" y1="538.28" x2="345.00" y2="538.28" stroke="#6b6b6b" stroke-width="0.7"/>
<text x="339.10" y="541.38" font-size="9.6" text-anchor="end" font-weight="normal" font-style="normal" fill="#1a1a1a"  stroke="#1a1a1a" stroke-width="0.12">0.6</text>
<line x1="343.40" y1="510.64" x2="345.00" y2="510.64" stroke="#6b6b6b" stroke-width="0.7"/>
<text x="339.10" y="513.74" font-size="9.6" text-anchor="end" font-weight="normal" font-style="normal" fill="#1a1a1a"  stroke="#1a1a1a" stroke-width="0.12">0.8</text>
<line x1="343.40" y1="483.00" x2="345.00" y2="483.00" stroke="#6b6b6b" stroke-width="0.7"/>
<text x="339.10" y="486.10" font-size="9.6" text-anchor="end" font-weight="normal" font-style="normal" fill="#1a1a1a"  stroke="#1a1a1a" stroke-width="0.12">1.0</text>
<line x1="361.90" y1="621.2" x2="361.90" y2="623.20" stroke="#6b6b6b" stroke-width="0.7"/>
<line x1="396.20" y1="621.2" x2="396.20" y2="623.20" stroke="#6b6b6b" stroke-width="0.7"/>
<text x="378.60" y="639.2" font-size="9.6" text-anchor="middle" fill="#1a1a1a" stroke="#1a1a1a" stroke-width="0.12"><tspan font-style="italic">n</tspan><tspan dx="0.9">=</tspan><tspan dx="1.2">4</tspan></text>
<rect x="438.40" y="455.1" width="69.40" height="18.70" fill="#d0d0d0"/>
<rect x="438.40" y="455.1" width="69.40" height="166.10" fill="none" stroke="#6b6b6b" stroke-width="0.8"/>
<text x="473.50" y="467.50" font-size="10.2" text-anchor="middle" font-weight="normal" font-style="italic" fill="#1a1a1a"  stroke="#1a1a1a" stroke-width="0.12">BRAF</text>
<line x1="436.80" y1="621.20" x2="438.40" y2="621.20" stroke="#6b6b6b" stroke-width="0.7"/>
<text x="432.50" y="624.30" font-size="9.6" text-anchor="end" font-weight="normal" font-style="normal" fill="#1a1a1a"  stroke="#1a1a1a" stroke-width="0.12">0.0</text>
<line x1="436.80" y1="593.48" x2="438.40" y2="593.48" stroke="#6b6b6b" stroke-width="0.7"/>
<text x="432.50" y="596.58" font-size="9.6" text-anchor="end" font-weight="normal" font-style="normal" fill="#1a1a1a"  stroke="#1a1a1a" stroke-width="0.12">0.2</text>
<line x1="436.80" y1="565.76" x2="438.40" y2="565.76" stroke="#6b6b6b" stroke-width="0.7"/>
<text x="432.50" y="568.86" font-size="9.6" text-anchor="end" font-weight="normal" font-style="normal" fill="#1a1a1a"  stroke="#1a1a1a" stroke-width="0.12">0.4</text>
<line x1="436.80" y1="538.04" x2="438.40" y2="538.04" stroke="#6b6b6b" stroke-width="0.7"/>
<text x="432.50" y="541.14" font-size="9.6" text-anchor="end" font-weight="normal" font-style="normal" fill="#1a1a1a"  stroke="#1a1a1a" stroke-width="0.12">0.6</text>
<line x1="436.80" y1="510.32" x2="438.40" y2="510.32" stroke="#6b6b6b" stroke-width="0.7"/>
<text x="432.50" y="513.42" font-size="9.6" text-anchor="end" font-weight="normal" font-style="normal" fill="#1a1a1a"  stroke="#1a1a1a" stroke-width="0.12">0.8</text>
<line x1="436.80" y1="482.60" x2="438.40" y2="482.60" stroke="#6b6b6b" stroke-width="0.7"/>
<text x="432.50" y="485.70" font-size="9.6" text-anchor="end" font-weight="normal" font-style="normal" fill="#1a1a1a"  stroke="#1a1a1a" stroke-width="0.12">1.0</text>
<line x1="455.30" y1="621.2" x2="455.30" y2="623.20" stroke="#6b6b6b" stroke-width="0.7"/>
<line x1="489.50" y1="621.2" x2="489.50" y2="623.20" stroke="#6b6b6b" stroke-width="0.7"/>
<text x="472.00" y="639.2" font-size="9.6" text-anchor="middle" fill="#1a1a1a" stroke="#1a1a1a" stroke-width="0.12"><tspan font-style="italic">n</tspan><tspan dx="0.9">=</tspan><tspan dx="1.2">2</tspan></text>
<rect x="532.60" y="455.1" width="69.00" height="18.70" fill="#d0d0d0"/>
<rect x="532.60" y="455.1" width="69.00" height="167.00" fill="none" stroke="#6b6b6b" stroke-width="0.8"/>
<text x="567.40" y="467.50" font-size="10.2" text-anchor="middle" font-weight="normal" font-style="italic" fill="#1a1a1a"  stroke="#1a1a1a" stroke-width="0.12">NFE2L2</text>
<line x1="531.00" y1="622.10" x2="532.60" y2="622.10" stroke="#6b6b6b" stroke-width="0.7"/>
<text x="526.70" y="625.20" font-size="9.6" text-anchor="end" font-weight="normal" font-style="normal" fill="#1a1a1a"  stroke="#1a1a1a" stroke-width="0.12">0.0</text>
<line x1="531.00" y1="594.90" x2="532.60" y2="594.90" stroke="#6b6b6b" stroke-width="0.7"/>
<text x="526.70" y="598.00" font-size="9.6" text-anchor="end" font-weight="normal" font-style="normal" fill="#1a1a1a"  stroke="#1a1a1a" stroke-width="0.12">0.2</text>
<line x1="531.00" y1="567.70" x2="532.60" y2="567.70" stroke="#6b6b6b" stroke-width="0.7"/>
<text x="526.70" y="570.80" font-size="9.6" text-anchor="end" font-weight="normal" font-style="normal" fill="#1a1a1a"  stroke="#1a1a1a" stroke-width="0.12">0.4</text>
<line x1="531.00" y1="540.50" x2="532.60" y2="540.50" stroke="#6b6b6b" stroke-width="0.7"/>
<text x="526.70" y="543.60" font-size="9.6" text-anchor="end" font-weight="normal" font-style="normal" fill="#1a1a1a"  stroke="#1a1a1a" stroke-width="0.12">0.6</text>
<line x1="531.00" y1="513.30" x2="532.60" y2="513.30" stroke="#6b6b6b" stroke-width="0.7"/>
<text x="526.70" y="516.40" font-size="9.6" text-anchor="end" font-weight="normal" font-style="normal" fill="#1a1a1a"  stroke="#1a1a1a" stroke-width="0.12">0.8</text>
<line x1="531.00" y1="486.10" x2="532.60" y2="486.10" stroke="#6b6b6b" stroke-width="0.7"/>
<text x="526.70" y="489.20" font-size="9.6" text-anchor="end" font-weight="normal" font-style="normal" fill="#1a1a1a"  stroke="#1a1a1a" stroke-width="0.12">1.0</text>
<line x1="548.70" y1="622.1" x2="548.70" y2="624.10" stroke="#6b6b6b" stroke-width="0.7"/>
<line x1="581.50" y1="622.1" x2="581.50" y2="624.10" stroke="#6b6b6b" stroke-width="0.7"/>
<text x="566.20" y="639.2" font-size="9.6" text-anchor="middle" fill="#1a1a1a" stroke="#1a1a1a" stroke-width="0.12"><tspan font-style="italic">n</tspan><tspan dx="0.9">=</tspan><tspan dx="1.2">3</tspan></text>
<line x1="81.90" y1="496.20" x2="81.90" y2="514.50" stroke="#111111" stroke-width="1.2" stroke-dasharray="1.6,1.3"/>
<line x1="81.90" y1="481.30" x2="81.90" y2="481.30" stroke="#111111" stroke-width="1.2" stroke-dasharray="1.6,1.3"/>
<line x1="76.90" y1="514.50" x2="86.90" y2="514.50" stroke="#111111" stroke-width="1.1"/>
<rect x="70.20" y="481.30" width="23.40" height="14.90" fill="#fff" stroke="#111111" stroke-width="1.1"/>
<line x1="117.00" y1="565.20" x2="117.00" y2="595.20" stroke="#7a7a7a" stroke-width="1.2" stroke-dasharray="1.6,1.3"/>
<line x1="117.00" y1="524.40" x2="117.00" y2="507.60" stroke="#7a7a7a" stroke-width="1.2" stroke-dasharray="1.6,1.3"/>
<line x1="111.70" y1="595.20" x2="122.30" y2="595.20" stroke="#7a7a7a" stroke-width="0.9"/>
<line x1="111.70" y1="507.60" x2="122.30" y2="507.60" stroke="#7a7a7a" stroke-width="0.9"/>
<rect x="105.30" y="524.40" width="23.40" height="40.80" fill="#fff" stroke="#7a7a7a" stroke-width="0.9"/>
<line x1="105.30" y1="540.10" x2="128.70" y2="540.10" stroke="#7a7a7a" stroke-width="0.9"/>
<line x1="174.60" y1="498.40" x2="174.60" y2="517.30" stroke="#111111" stroke-width="1.2" stroke-dasharray="1.6,1.3"/>
<line x1="174.60" y1="481.60" x2="174.60" y2="481.60" stroke="#111111" stroke-width="1.2" stroke-dasharray="1.6,1.3"/>
<line x1="169.00" y1="517.30" x2="180.20" y2="517.30" stroke="#111111" stroke-width="1.1"/>
<rect x="162.90" y="481.60" width="23.40" height="16.80" fill="#fff" stroke="#111111" stroke-width="1.1"/>
<line x1="209.00" y1="562.50" x2="209.00" y2="589.30" stroke="#7a7a7a" stroke-width="1.2" stroke-dasharray="1.6,1.3"/>
<line x1="209.00" y1="530.40" x2="209.00" y2="508.50" stroke="#7a7a7a" stroke-width="1.2" stroke-dasharray="1.6,1.3"/>
<line x1="203.70" y1="589.30" x2="214.30" y2="589.30" stroke="#7a7a7a" stroke-width="0.9"/>
<line x1="203.70" y1="508.50" x2="214.30" y2="508.50" stroke="#7a7a7a" stroke-width="0.9"/>
<rect x="197.30" y="530.40" width="23.40" height="32.10" fill="#fff" stroke="#7a7a7a" stroke-width="0.9"/>
<line x1="197.30" y1="545.40" x2="220.70" y2="545.40" stroke="#7a7a7a" stroke-width="0.9"/>
<line x1="268.00" y1="495.40" x2="268.00" y2="512.60" stroke="#111111" stroke-width="1.2" stroke-dasharray="1.6,1.3"/>
<line x1="268.00" y1="483.00" x2="268.00" y2="483.00" stroke="#111111" stroke-width="1.2" stroke-dasharray="1.6,1.3"/>
<line x1="262.40" y1="512.60" x2="273.60" y2="512.60" stroke="#111111" stroke-width="1.1"/>
<rect x="256.30" y="483.00" width="23.40" height="12.40" fill="#fff" stroke="#111111" stroke-width="1.1"/>
<line x1="302.40" y1="560.50" x2="302.40" y2="588.80" stroke="#7a7a7a" stroke-width="1.2" stroke-dasharray="1.6,1.3"/>
<line x1="302.40" y1="528.00" x2="302.40" y2="514.00" stroke="#7a7a7a" stroke-width="1.2" stroke-dasharray="1.6,1.3"/>
<line x1="297.10" y1="588.80" x2="307.70" y2="588.80" stroke="#7a7a7a" stroke-width="0.9"/>
<line x1="297.10" y1="514.00" x2="307.70" y2="514.00" stroke="#7a7a7a" stroke-width="0.9"/>
<rect x="290.70" y="528.00" width="23.40" height="32.50" fill="#fff" stroke="#7a7a7a" stroke-width="0.9"/>
<line x1="290.70" y1="543.30" x2="314.10" y2="543.30" stroke="#7a7a7a" stroke-width="0.9"/>
<line x1="362.10" y1="494.40" x2="362.10" y2="510.30" stroke="#111111" stroke-width="1.2" stroke-dasharray="1.6,1.3"/>
<line x1="362.10" y1="482.90" x2="362.10" y2="482.90" stroke="#111111" stroke-width="1.2" stroke-dasharray="1.6,1.3"/>
<line x1="356.30" y1="510.30" x2="367.90" y2="510.30" stroke="#111111" stroke-width="1.1"/>
<rect x="350.40" y="482.90" width="23.40" height="11.50" fill="#fff" stroke="#111111" stroke-width="1.1"/>
<line x1="396.10" y1="594.80" x2="396.10" y2="603.00" stroke="#7a7a7a" stroke-width="1.2" stroke-dasharray="1.6,1.3"/>
<line x1="396.10" y1="530.00" x2="396.10" y2="508.50" stroke="#7a7a7a" stroke-width="1.2" stroke-dasharray="1.6,1.3"/>
<line x1="390.80" y1="603.00" x2="401.40" y2="603.00" stroke="#7a7a7a" stroke-width="0.9"/>
<line x1="390.80" y1="508.50" x2="401.40" y2="508.50" stroke="#7a7a7a" stroke-width="0.9"/>
<rect x="384.40" y="530.00" width="23.40" height="64.80" fill="#fff" stroke="#7a7a7a" stroke-width="0.9"/>
<line x1="384.40" y1="570.10" x2="407.80" y2="570.10" stroke="#7a7a7a" stroke-width="0.9"/>
<line x1="455.20" y1="490.20" x2="455.20" y2="510.80" stroke="#111111" stroke-width="1.2" stroke-dasharray="1.6,1.3"/>
<line x1="455.20" y1="482.90" x2="455.20" y2="482.90" stroke="#111111" stroke-width="1.2" stroke-dasharray="1.6,1.3"/>
<line x1="449.90" y1="510.80" x2="460.50" y2="510.80" stroke="#111111" stroke-width="1.1"/>
<rect x="443.50" y="482.90" width="23.40" height="7.30" fill="#fff" stroke="#111111" stroke-width="1.1"/>
<rect x="478.5" y="620.6" width="22.9" height="1.0" fill="#888"/>
<line x1="548.50" y1="497.10" x2="548.50" y2="513.00" stroke="#111111" stroke-width="1.2" stroke-dasharray="1.6,1.3"/>
<line x1="548.50" y1="485.60" x2="548.50" y2="485.60" stroke="#111111" stroke-width="1.2" stroke-dasharray="1.6,1.3"/>
<line x1="542.90" y1="513.00" x2="554.10" y2="513.00" stroke="#111111" stroke-width="1.1"/>
<rect x="537.30" y="485.60" width="22.40" height="11.50" fill="#fff" stroke="#111111" stroke-width="1.1"/>
<line x1="581.60" y1="579.10" x2="581.60" y2="598.80" stroke="#7a7a7a" stroke-width="1.2" stroke-dasharray="1.6,1.3"/>
<line x1="581.60" y1="538.60" x2="581.60" y2="509.40" stroke="#7a7a7a" stroke-width="1.2" stroke-dasharray="1.6,1.3"/>
<line x1="576.30" y1="598.80" x2="586.90" y2="598.80" stroke="#7a7a7a" stroke-width="0.9"/>
<line x1="576.30" y1="509.40" x2="586.90" y2="509.40" stroke="#7a7a7a" stroke-width="0.9"/>
<rect x="570.60" y="538.60" width="22.00" height="40.50" fill="#fff" stroke="#7a7a7a" stroke-width="0.9"/>
<line x1="570.60" y1="564.30" x2="592.60" y2="564.30" stroke="#7a7a7a" stroke-width="0.9"/>
<circle cx="72.00" cy="483.00" r="2.7" fill="#d6342a"/>
<circle cx="74.20" cy="483.00" r="2.7" fill="#d6342a"/>
<circle cx="76.40" cy="483.00" r="2.7" fill="#d6342a"/>
<circle cx="78.60" cy="483.00" r="2.7" fill="#d6342a"/>
<circle cx="80.80" cy="483.00" r="2.7" fill="#d6342a"/>
<circle cx="83.00" cy="483.00" r="2.7" fill="#d6342a"/>
<circle cx="85.20" cy="483.00" r="2.7" fill="#d6342a"/>
<circle cx="87.40" cy="483.00" r="2.7" fill="#d6342a"/>
<circle cx="89.60" cy="483.00" r="2.7" fill="#d6342a"/>
<circle cx="90.80" cy="483.00" r="2.7" fill="#d6342a"/>
<circle cx="77.70" cy="489.10" r="2.7" fill="#d6342a"/>
<circle cx="79.10" cy="491.90" r="2.7" fill="#d6342a"/>
<circle cx="84.30" cy="492.10" r="2.7" fill="#d6342a"/>
<circle cx="81.50" cy="493.60" r="2.7" fill="#d6342a"/>
<circle cx="81.90" cy="502.40" r="2.7" fill="#d6342a"/>
<circle cx="81.90" cy="516.70" r="2.7" fill="#d6342a"/>
<circle cx="165.00" cy="483.20" r="2.7" fill="#d6342a"/>
<circle cx="167.60" cy="483.20" r="2.7" fill="#d6342a"/>
<circle cx="170.20" cy="483.20" r="2.7" fill="#d6342a"/>
<circle cx="172.80" cy="483.20" r="2.7" fill="#d6342a"/>
<circle cx="175.40" cy="483.20" r="2.7" fill="#d6342a"/>
<circle cx="178.00" cy="483.20" r="2.7" fill="#d6342a"/>
<circle cx="180.60" cy="483.20" r="2.7" fill="#d6342a"/>
<circle cx="183.20" cy="483.20" r="2.7" fill="#d6342a"/>
<circle cx="185.00" cy="483.20" r="2.7" fill="#d6342a"/>
<circle cx="169.60" cy="488.00" r="2.7" fill="#d6342a"/>
<circle cx="173.00" cy="487.00" r="2.7" fill="#d6342a"/>
<circle cx="176.60" cy="487.70" r="2.7" fill="#d6342a"/>
<circle cx="179.70" cy="489.00" r="2.7" fill="#d6342a"/>
<circle cx="181.80" cy="491.50" r="2.7" fill="#d6342a"/>
<circle cx="167.10" cy="492.20" r="2.7" fill="#d6342a"/>
<circle cx="168.90" cy="495.00" r="2.7" fill="#d6342a"/>
<circle cx="172.00" cy="495.70" r="2.7" fill="#d6342a"/>
<circle cx="178.30" cy="494.30" r="2.7" fill="#d6342a"/>
<circle cx="181.10" cy="492.90" r="2.7" fill="#d6342a"/>
<circle cx="174.10" cy="502.40" r="2.7" fill="#d6342a"/>
<circle cx="260.10" cy="483.50" r="2.7" fill="#d6342a"/>
<circle cx="263.60" cy="483.50" r="2.7" fill="#d6342a"/>
<circle cx="267.10" cy="483.50" r="2.7" fill="#d6342a"/>
<circle cx="270.60" cy="483.50" r="2.7" fill="#d6342a"/>
<circle cx="273.70" cy="483.50" r="2.7" fill="#d6342a"/>
<circle cx="276.20" cy="483.50" r="2.7" fill="#d6342a"/>
<circle cx="266.70" cy="489.40" r="2.7" fill="#d6342a"/>
<circle cx="262.50" cy="492.90" r="2.7" fill="#d6342a"/>
<circle cx="265.70" cy="498.20" r="2.7" fill="#d6342a"/>
<circle cx="272.00" cy="499.60" r="2.7" fill="#d6342a"/>
<circle cx="266.70" cy="504.10" r="2.7" fill="#d6342a"/>
<circle cx="302.10" cy="504.30" r="2.7" fill="#d6342a"/>
<circle cx="355.50" cy="483.80" r="2.7" fill="#d6342a"/>
<circle cx="359.70" cy="483.80" r="2.7" fill="#d6342a"/>
<circle cx="364.00" cy="483.80" r="2.7" fill="#d6342a"/>
<circle cx="368.80" cy="483.80" r="2.7" fill="#d6342a"/>
<circle cx="452.40" cy="483.40" r="2.7" fill="#d6342a"/>
<circle cx="458.40" cy="483.40" r="2.7" fill="#d6342a"/>
<circle cx="543.20" cy="488.70" r="2.7" fill="#d6342a"/>
<circle cx="549.00" cy="486.20" r="2.7" fill="#d6342a"/>
<circle cx="555.00" cy="486.20" r="2.7" fill="#d6342a"/>
<text transform="translate(24.3,540.3) rotate(-90)" font-size="10" text-anchor="middle" fill="#1a1a1a" stroke="#1a1a1a" stroke-width="0.12">Cancer cell fraction (CCF)</text>
<text transform="translate(35.4,539.0) rotate(-90)" font-size="10" text-anchor="middle" fill="#1a1a1a" stroke="#1a1a1a" stroke-width="0.12">of somatic mutations</text>
<circle cx="500.00" cy="657.40" r="2.8" fill="#d6342a"/>
<text x="508.90" y="660.40" font-size="8.6" text-anchor="start" font-weight="normal" font-style="normal" fill="#1a1a1a"  stroke="#1a1a1a" stroke-width="0.12">Mutation of interest</text>
<line x1="495.8" y1="669.0" x2="504.7" y2="669.0" stroke="#000" stroke-width="1.4"/>
<text x="508.90" y="672.00" font-size="8.6" text-anchor="start" font-weight="normal" font-style="normal" fill="#1a1a1a"  stroke="#1a1a1a" stroke-width="0.12">Clonal</text>
<line x1="495.8" y1="681.4" x2="504.7" y2="681.4" stroke="#808080" stroke-width="1.4"/>
<text x="508.90" y="684.60" font-size="8.6" text-anchor="start" font-weight="normal" font-style="normal" fill="#1a1a1a"  stroke="#1a1a1a" stroke-width="0.12">Subclonal</text>
</svg>
</body></html>
